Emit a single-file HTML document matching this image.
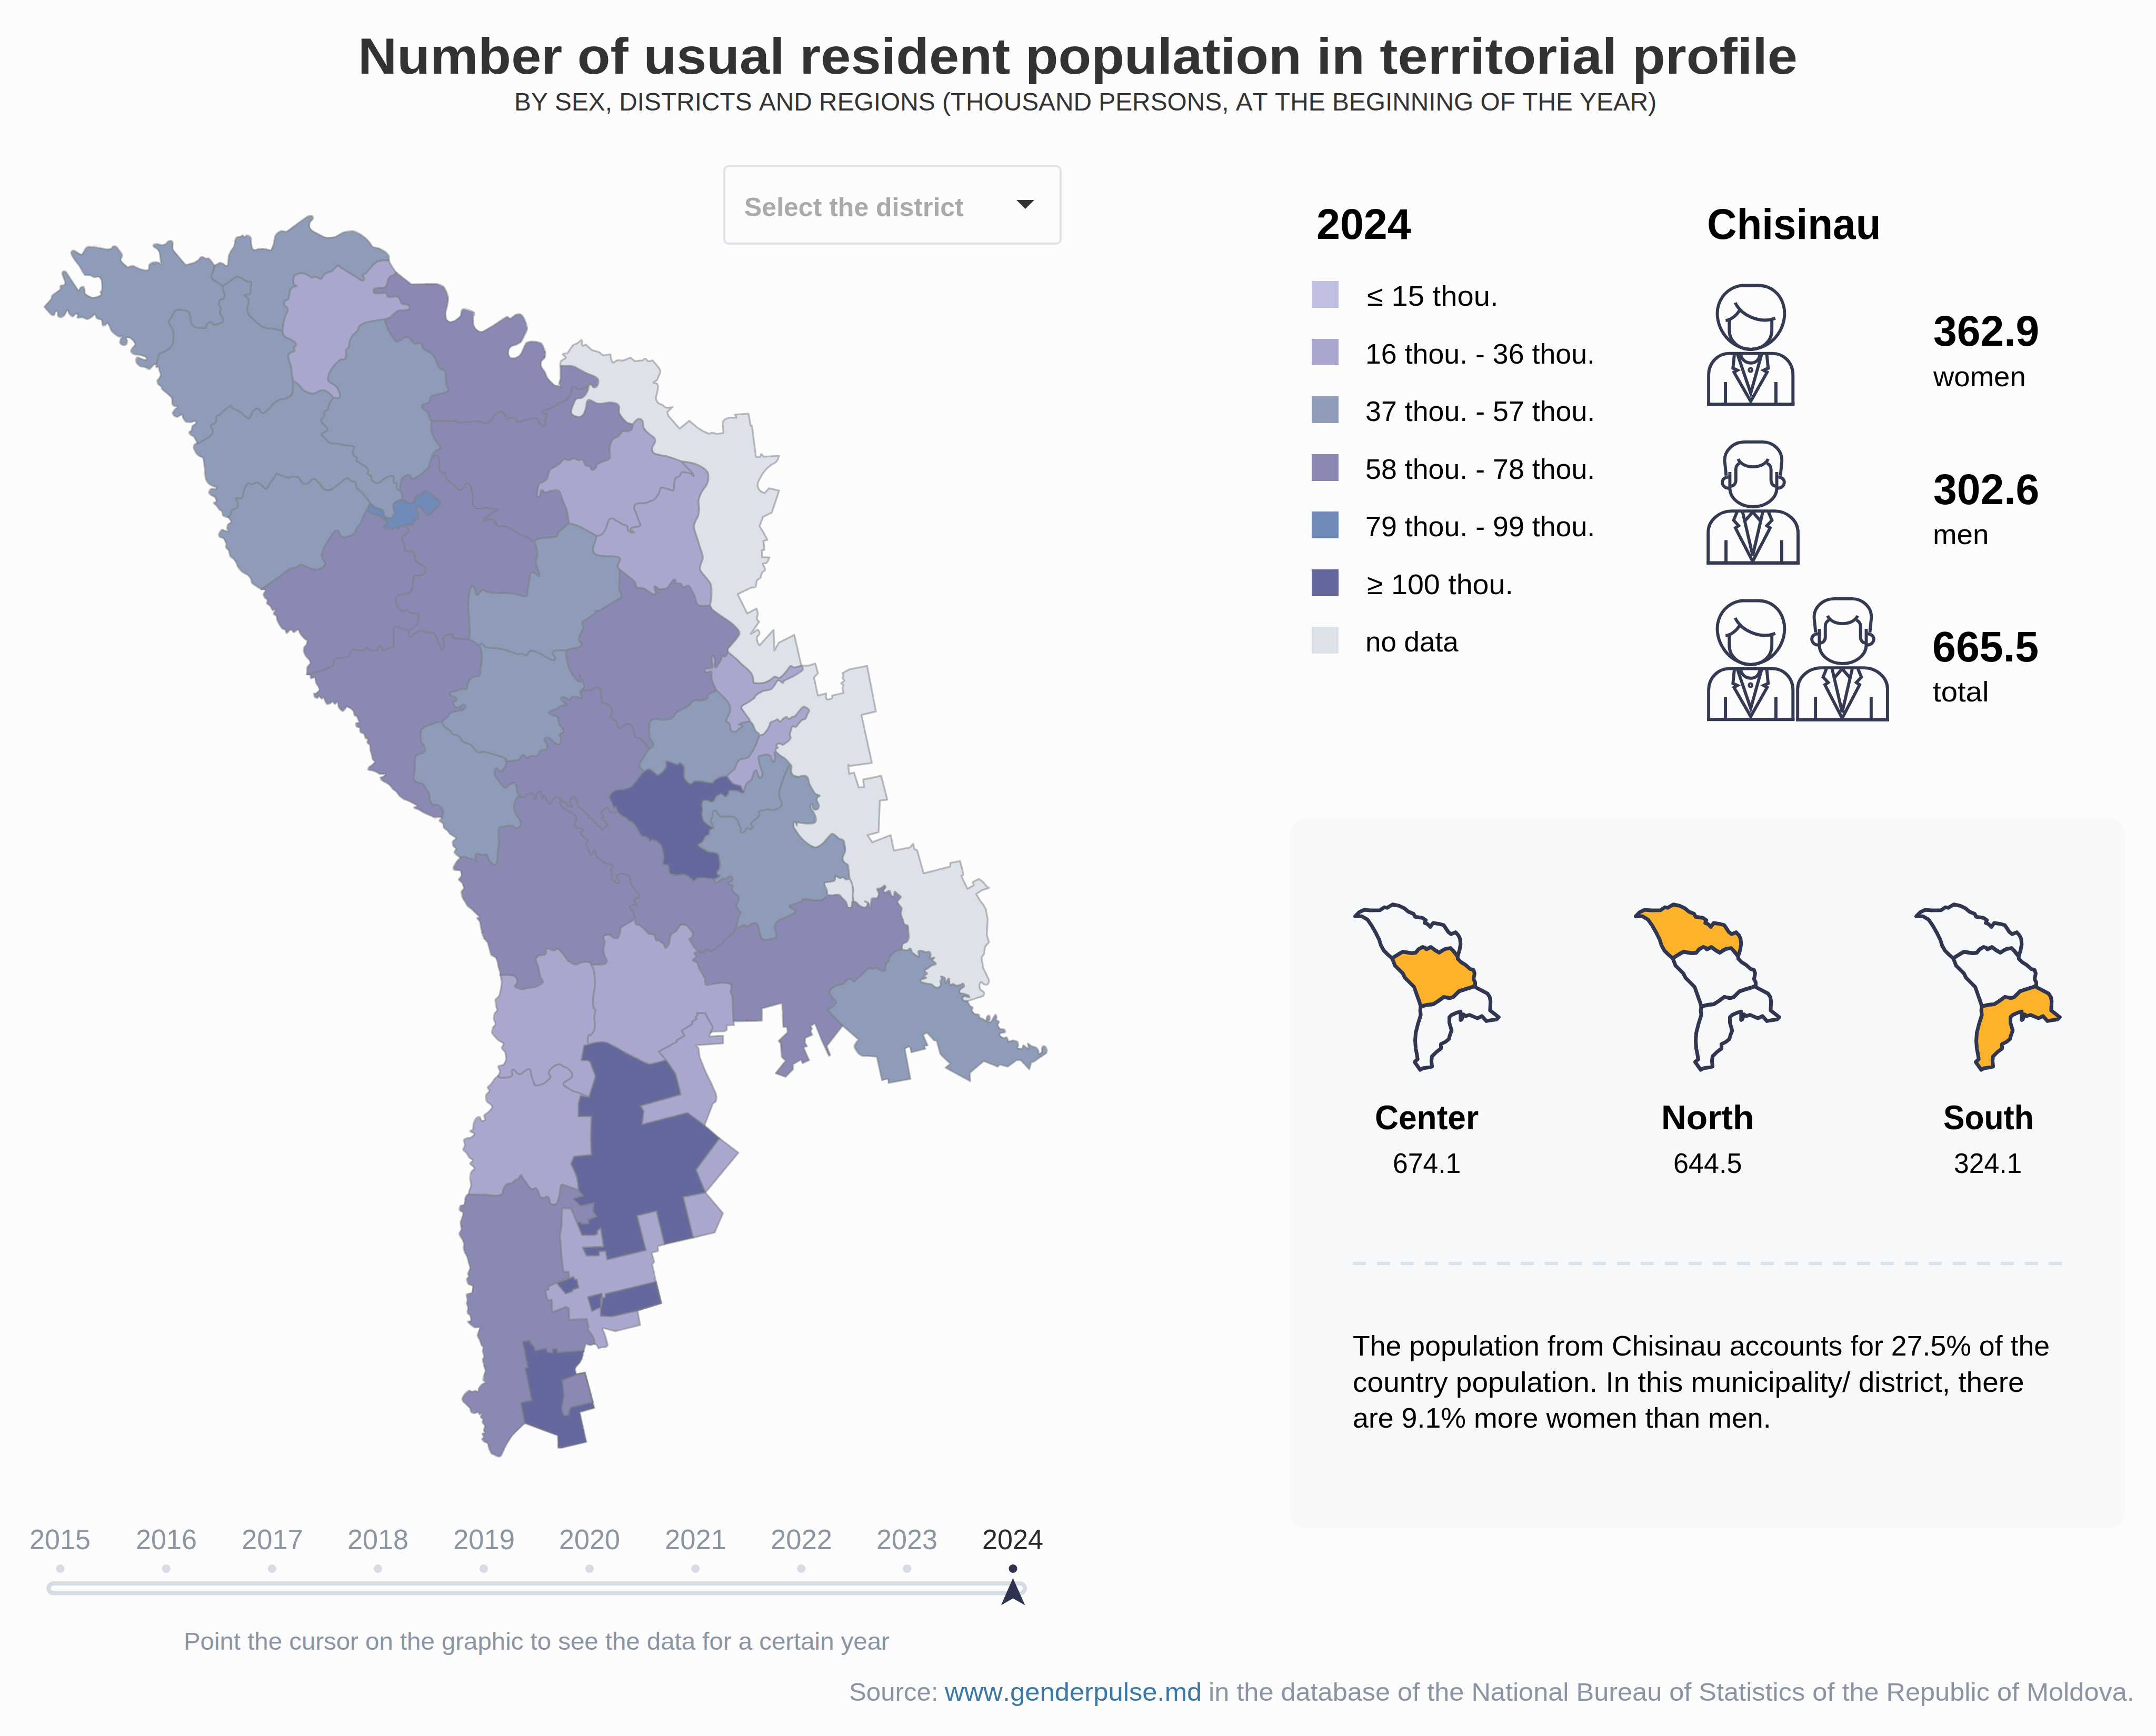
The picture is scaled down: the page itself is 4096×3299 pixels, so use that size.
<!DOCTYPE html>
<html lang="en"><head><meta charset="utf-8"><title>Number of usual resident population in territorial profile</title>
<style>
html,body{margin:0;padding:0;}
body{width:4096px;height:3299px;background:#fcfcfc;position:relative;overflow:hidden;font-family:"Liberation Sans", "DejaVu Sans", sans-serif;font-kerning:none;}
.t{position:absolute;white-space:nowrap;margin:0;padding:0;transform-origin:0 0;}
.sw{position:absolute;width:50.8px;height:50.8px;left:2491.8px;}
.panel{position:absolute;left:2451px;top:1555px;width:1586px;height:1350px;background:#f7f8fa;border-radius:30px;}
.select{position:absolute;left:1373.6px;top:314.4px;width:643px;height:151px;box-sizing:border-box;border:4px solid #e0e3ea;border-radius:10px;background:#fcfcfc;}
.caret{position:absolute;left:1931px;top:379.5px;width:0;height:0;border-left:17px solid transparent;border-right:17px solid transparent;border-top:17px solid #333;}
.dash{position:absolute;left:2570px;top:2398px;width:1348px;height:6px;background:repeating-linear-gradient(90deg,#dde1e9 0 25px,transparent 25px 45.6px);}
svg{position:absolute;left:0;top:0;overflow:visible;}
</style></head><body>

<div class="panel"></div>
<div class="select"></div><div class="caret"></div>
<div class="dash"></div>
<div class="sw" style="top:534.1px;background:#bfc0e1"></div>
<div class="sw" style="top:643.6px;background:#aaa7ce"></div>
<div class="sw" style="top:753.2px;background:#8e9bb9"></div>
<div class="sw" style="top:862.8px;background:#8989b3"></div>
<div class="sw" style="top:972.3px;background:#708bb8"></div>
<div class="sw" style="top:1081.8px;background:#65689c"></div>
<div class="sw" style="top:1191.4px;background:#dde1ea"></div>
<svg class="map" width="4096" height="3299" viewBox="0 0 4096 3299" xmlns="http://www.w3.org/2000/svg">
<g stroke="none">
<path d="M407.3 504.9L413.6 501.6L418 499.2L424.6 501.6L429.6 505.6L433 503.2L434.6 486.6L438 478.2L444.6 468.3L447.9 453.3L451.3 450.6L457.9 449.3L461.3 447.3L464.6 450.6L468.9 447.3L476.3 451.6L477.2 462.6L479.6 473.3L484.6 474.9L491.2 473.3L499.6 472.6L507.9 473.9L514.5 475.6L519.5 464.9L522.9 448.3L527.9 442.3L534.5 439L544.5 440L564.5 425.6L584.5 411.6L592.1 410L594.8 415L588.8 422.6L587.8 431.6L592.8 438.3L606.1 445.6L619.4 451.6L635.4 450.6L652.7 441.6L670.1 439.3L682.7 444.3L694.4 452.3L702.7 461.6L707.7 468.9L721 472.6L732.7 479.2L738.7 486.6L738.7 494.9L729.3 494.9L717.7 496.6L707.7 504.9L696 518.2L689.4 523.2L692 529.9L687.7 533.2L674.4 524.9L659.4 515.9L647.7 508.2L641.1 504.9L631.1 514.9L622.8 517.5L616.1 521.5L609.5 529.9L599.5 525.9L592.8 527.5L585.5 523.2L574.5 519.2L562.8 521.5L558.5 524.9L557.8 539.9L563.5 543.2L556.2 545.8L551.2 551.5L547.8 568.2L541.2 571.5L540.2 581.5L544.5 583.1L546.8 589.8L542.2 599.8L538.5 613.1L536.9 628.8L517.9 624.8L504.6 623.1L494.6 618.1L482.2 608.1L472.9 598.1L469.6 586.5L472.3 574.8L470.3 566.5L464.6 561.5L467.9 559.8L474.6 558.2L476.3 546.5L476.9 536.5L469.6 534.9L454.6 526.5L447.9 526.5L436.3 534.9L423 543.8L413 536.5L404.7 531.5L401.3 524.9L404.7 516.5L407.3 504.9Z" fill="#8e9bb9"/>
<path d="M423 543.8L436.3 534.9L447.9 526.5L454.6 526.5L469.6 534.9L476.9 536.5L476.3 546.5L474.6 558.2L467.9 559.8L464.6 561.5L470.3 566.5L472.3 574.8L469.6 586.5L472.9 598.1L482.2 608.1L494.6 618.1L504.6 623.1L517.9 624.8L536.9 628.8L539.5 638.1L549.5 643.7L559.5 649.7L562.2 656.4L557.8 660.4L559.5 667.1L551.2 670.4L547.8 676.4L549.5 686.4L552.8 696.4L554.5 709.7L556.8 723.7L556.2 739.7L554.5 749.6L541.2 758L532.9 759L521.2 765.3L511.2 776.3L501.2 784.6L496.2 783.6L491.2 776.9L486.2 776.9L480.2 782.3L472.9 794.6L466.3 791.3L454.6 781.3L442.3 776.3L438 771.3L424.6 781.3L418 787.9L411.3 791.3L409.7 802.3L400.3 808.9L403.7 816.2L403 824.6L388 836.2L374.7 842.9L373 837.9L368 829.6L361.4 825.6L359.7 821.2L363.7 817.9L365.7 809.6L372.4 804.6L371.4 800.3L361.4 802.3L353 801.3L348 794.6L345.7 787.9L336.4 792.3L330.4 789.6L328.1 784.6L332.4 777.9L338.1 773L330.4 771.3L327.4 768L326.4 756.3L318.1 748L308.1 739.7L306.4 734.7L300.4 729.7L299.1 723L303.1 718L305.4 711.3L302.4 703L301.4 697L297.1 698L297.1 691.4L300.4 679.7L303.1 672.4L314.7 667.1L323.1 661.4L328.1 653.1L329.7 638.1L328.1 626.4L323.1 618.1L320.7 611.4L324.7 604.8L330.4 593.8L334.7 589.1L343.1 588.8L356.4 591.5L361.4 599.8L363 613.1L369.7 621.4L379.7 623.1L391.3 623.1L391.3 619.8L396.3 613.1L401.3 612.4L406.3 617.1L414.6 615.8L423 611.4L423.6 605.8L418 594.8L419.6 586.5L416.3 578.1L418 570.5L424.6 567.2L427.3 561.5L423.6 551.5L423 543.8Z" fill="#8e9bb9"/>
<path d="M536.9 628.8L538.5 613.1L542.2 599.8L546.8 589.8L544.5 583.1L540.2 581.5L541.2 571.5L547.8 568.2L551.2 551.5L556.2 545.8L563.5 543.2L557.8 539.9L558.5 524.9L562.8 521.5L574.5 519.2L585.5 523.2L592.8 527.5L599.5 525.9L609.5 529.9L616.1 521.5L622.8 517.5L631.1 514.9L641.1 504.9L647.7 508.2L659.4 515.9L674.4 524.9L687.7 533.2L692 529.9L689.4 523.2L696 518.2L707.7 504.9L717.7 496.6L729.3 494.9L738.7 494.9L742.7 503.2L752 517.2L753 517.9L747.9 522.3L741.3 525.7L737.9 530.1L735.7 536.8L733.5 543.5L729 546.8L720.7 546.8L713.4 547.9L710.1 550.7L710.1 555.7L713.4 557.4L723.5 557.4L731.2 556.3L734.6 559.1L736.8 563.5L742.4 564.6L750.2 563.5L756.8 564.6L759.6 569.1L761.3 573.5L764.1 577.4L771.3 578.5L776.9 580.8L778 584.7L775.8 588.6L766.9 589.7L756.8 590.2L751.3 593.6L745.7 599.1L740.2 603.6L731.2 606.4L709.4 609.8L692.7 613.8L682.7 619.8L679.4 628.1L670.1 637.1L664.4 648.1L662.7 659.7L657.7 664.7L657.7 676.4L654.4 683L647.7 683L637.8 691.4L627.8 704.7L622.8 719.7L626.1 726.3L634.4 731.3L642.1 739.7L646.1 753L642.8 756.3L633.4 755.6L631.1 753L619.4 743L609.5 742L596.1 748L586.1 746.3L576.2 741.3L566.2 729.7L556.8 723.7L554.5 709.7L552.8 696.4L549.5 686.4L547.8 676.4L551.2 670.4L559.5 667.1L557.8 660.4L562.2 656.4L559.5 649.7L549.5 643.7L539.5 638.1L536.9 628.8Z" fill="#aaa7ce"/>
<path d="M753 517.9L781.3 540.1L813.6 539.6L831.4 540.1L842.6 545.1L848.1 554.6L851.5 565.7L850.4 576.9L848.1 586.9L846.5 594.7L848.1 606.9L854.3 611.9L863.7 609.7L874.9 600.8L877.1 590.2L881 587.4L900 593.6L899.2 603.1L899.2 616.4L903.2 624.8L911.5 630.4L918.2 629.8L936.5 619.1L963.1 602.1L969.8 605.5L979.8 598.1L988.1 597.1L993.8 602.1L999.1 613.8L1001.4 625.4L995.8 638.1L989.8 649.7L981.5 654.7L971.5 658.1L966.5 663.7L965.8 673.1L969.1 679.7L978.1 680.4L986.5 676.4L991.4 669.7L996.4 658.1L1000.4 651.4L1008.1 649.1L1019.8 649.7L1028.1 652.4L1032.4 659.7L1036.4 671.4L1034.7 679.7L1028.1 687L1028.1 696.4L1034.7 706.4L1039.7 718L1047.1 726.3L1053.7 732.3L1062.4 733L1065.7 736.3L1062.4 729L1064.7 719.7L1064.7 703L1064.7 695.7L1076.4 694.7L1089.7 696.4L1099.7 701.4L1113 708.7L1128 714.7L1136.3 721.3L1134.6 733L1128 736.3L1123.6 731.3L1119 731.3L1113 736.3L1098 739.7L1089 734.7L1084.7 746.3L1078 758L1063 766.3L1046.4 776.3L1031.4 780.3L1031.4 784.6L1039.1 787.9L1035.7 797.9L1036.4 806.9L1031.4 809.6L1024.7 802.9L1018.1 794.6L999.8 797.9L983.1 801.3L979.8 794.6L969.8 793.6L963.1 796.3L954.8 782.9L939.8 788.9L933.2 799.6L921.5 804.6L913.2 801.3L896.5 801.3L869.9 802.9L866.6 799.6L820 800.3L816.6 796.3L813.3 784.6L803.3 776.3L802.6 769.6L815 764.6L818.3 754.6L829.9 749.6L844.9 746.3L851.6 741.3L848.3 731.3L847.3 719.7L844.9 704.7L834.9 699.7L828.3 684.7L821.6 673.1L810 666.4L803.6 661.5L801.4 654.8L796.9 651.5L789.1 653.7L782.5 648.1L778 642.5L772.4 640.3L766.9 642.5L760.2 647L752.4 648.1L745.7 640.3L740.2 631.4L735.7 622.5L732.4 613.6L731.2 606.4L740.2 603.6L745.7 599.1L751.3 593.6L756.8 590.2L766.9 589.7L775.8 588.6L778 584.7L776.9 580.8L771.3 578.5L764.1 577.4L761.3 573.5L759.6 569.1L756.8 564.6L750.2 563.5L742.4 564.6L736.8 563.5L734.6 559.1L731.2 556.3L723.5 557.4L713.4 557.4L710.1 555.7L710.1 550.7L713.4 547.9L720.7 546.8L729 546.8L733.5 543.5L735.7 536.8L737.9 530.1L741.3 525.7L747.9 522.3L753 517.9Z" fill="#8989b3"/>
<path d="M84.3 583.1L97.3 568.2L99.3 561.5L114.9 549.8L114.9 543.2L122.6 541.5L123.9 536.5L118.3 519.9L119.9 515.9L124.9 516.5L134.9 531.5L149.2 552.2L153.2 546.5L158.2 544.8L160.6 549.8L161.6 558.2L174.9 565.8L185.9 563.8L192.5 559.8L190.9 554.8L193.9 551.5L193.2 533.2L188.2 525.9L178.2 526.5L171.6 523.2L160.9 522.2L151.6 506.6L141.6 493.2L135.9 483.2L135.3 479.2L139.3 475.9L145.9 479.2L154.9 483.9L159.9 477.2L163.9 470.9L168.2 468.9L188.2 470.9L203.2 473.9L211.5 472.6L214.8 468.3L219.8 468.3L225.8 474.9L232.2 484.9L229.2 493.2L231.5 498.2L243.2 508.2L245.8 506.6L253.1 505.6L266.5 511.5L276.5 513.9L282.4 512.5L283.8 503.2L289.8 498.9L297.1 498.2L303.1 499.9L306.4 503.2L305.4 496.6L303.1 479.9L299.1 473.3L292.1 468.9L292.1 464.9L299.8 463.9L308.1 465.9L314.7 463.9L319.1 458.9L324.7 457.6L328.1 460.9L328.1 473.3L339.7 488.2L353 503.2L359.7 501.6L369.7 498.9L378 493.2L381.3 488.9L386.3 488.9L391.3 491.6L396.3 490.9L403 498.2L407.3 504.9L404.7 516.5L401.3 524.9L404.7 531.5L413 536.5L423 543.8L423.6 551.5L427.3 561.5L424.6 567.2L418 570.5L416.3 578.1L419.6 586.5L418 594.8L423.6 605.8L423 611.4L414.6 615.8L406.3 617.1L401.3 612.4L396.3 613.1L391.3 619.8L391.3 623.1L379.7 623.1L369.7 621.4L363 613.1L361.4 599.8L356.4 591.5L343.1 588.8L334.7 589.1L330.4 593.8L324.7 604.8L320.7 611.4L323.1 618.1L328.1 626.4L329.7 638.1L328.1 653.1L323.1 661.4L314.7 667.1L303.1 672.4L300.4 679.7L297.1 691.4L291.4 693.7L283.8 701.4L276.5 698L265.8 695.7L259.8 689.7L258.8 683L261.5 679L273.1 683.7L279.1 683L276.5 678L266.5 674.7L254.8 673.1L248.8 668.1L251.5 661.4L257.1 654.7L253.8 648.1L247.1 642.1L239.8 641.4L241.5 648.1L239.8 654.7L233.2 655.7L228.2 651.4L229.2 644.7L233.2 639.1L226.5 639.8L218.2 634.8L211.5 628.1L208.2 619.8L203.9 613.8L199.9 618.1L194.9 618.1L193.2 608.1L183.9 604.8L180.5 597.1L173.2 603.1L165.9 606.5L156.6 603.1L147.2 603.8L148.2 598.1L143.3 596.5L138.3 601.5L131.6 596.5L128.3 589.1L121.6 599.8L114.9 603.1L110 599.8L109.3 591.5L105 592.5L103.3 598.1L99.3 599.1L91.6 591.5L84.3 583.1Z" fill="#8e9bb9"/>
<path d="M374.7 842.9L388 836.2L403 824.6L403.7 816.2L400.3 808.9L409.7 802.3L411.3 791.3L418 787.9L424.6 781.3L438 771.3L442.3 776.3L454.6 781.3L466.3 791.3L472.9 794.6L480.2 782.3L486.2 776.9L491.2 776.9L496.2 783.6L501.2 784.6L511.2 776.3L521.2 765.3L532.9 759L541.2 758L554.5 749.6L556.2 739.7L556.8 723.7L566.2 729.7L576.2 741.3L586.1 746.3L596.1 748L609.5 742L619.4 743L631.1 753L633.4 755.6L626.1 766.3L622.8 777.9L616.8 782.9L615.4 791.3L610.1 797.9L612.8 804.6L621.1 812.9L622.1 817.9L611.1 824.6L616.1 831.2L626.1 841.2L639.4 842.9L656.1 846.2L672.1 848.9L670.1 857.9L672.7 866.2L677.7 869.5L677.7 876.2L686 881.2L694.4 886.8L700 894.5L698.4 900L705.1 905L706.7 912.5L717.6 918L730.1 910L742.7 904.6L748.5 907.5L747.7 916.7L753.5 918L753.5 927.6L759.4 933.4L763.5 936.8L764.4 949.3L756.9 951L751 954.3L746.8 959.3L747.7 963.5L747.7 968.5L751 974.4L747.7 977.7L745.2 983.1L738.5 984.4L733.5 982.7L729.3 978.5L728.5 971L723.4 967.7L713.4 964.3L703.4 956L696 946.1L687.7 936.1L677.7 926.8L675.4 916.1L667.7 914.5L659.4 908.8L646.1 917.8L629.4 930.1L616.1 930.1L611.1 924.5L601.1 912.8L594.5 910.1L584.5 918.8L574.5 917.8L567.8 907.8L556.2 905.5L547.8 907.8L536.2 904.5L525.5 900.2L522.9 904.5L514.5 916.1L505.6 928.8L496.2 921.1L487.9 916.8L480.2 920.1L471.3 918.8L464.6 929.5L459.6 946.1L448.3 946.7L451.6 956.7L449.9 965L439.9 970L438.3 978.3L433.3 982.6L424 980L421.6 971.6L416.6 968.3L413 962.8L406.3 956.1L411.3 952.8L408 944.4L401.3 941.1L397 936.1L401.3 928.8L409.7 929.5L411.3 926.1L404.7 923.8L397 919.5L391.3 911.1L389.7 899.5L388 882.8L385.7 870.2L378 866.2L373 861.2L368 851.2L369.7 844.5L374.7 842.9Z" fill="#8e9bb9"/>
<path d="M633.4 755.6L642.8 756.3L646.1 753L642.1 739.7L634.4 731.3L626.1 726.3L622.8 719.7L627.8 704.7L637.8 691.4L647.7 683L654.4 683L657.7 676.4L657.7 664.7L662.7 659.7L664.4 648.1L670.1 637.1L679.4 628.1L682.7 619.8L692.7 613.8L709.4 609.8L731.2 606.4L732.4 613.6L735.7 622.5L740.2 631.4L745.7 640.3L752.4 648.1L760.2 647L766.9 642.5L772.4 640.3L778 642.5L782.5 648.1L789.1 653.7L796.9 651.5L801.4 654.8L803.6 661.5L810 666.4L821.6 673.1L828.3 684.7L834.9 699.7L844.9 704.7L847.3 719.7L848.3 731.3L851.6 741.3L844.9 746.3L829.9 749.6L818.3 754.6L815 764.6L802.6 769.6L803.3 776.3L813.3 784.6L816.6 796.3L820 800.3L819.3 816.2L823.3 829.6L831.6 842.9L836.6 851.2L824.9 859.5L820 869.5L816.6 879.5L813.3 889.5L801.1 900L790.3 907.5L784.4 910L780.3 906.7L777.7 902.5L771.9 903.3L765.2 907.5L761.9 915L760.2 925.1L759.4 933.4L753.5 927.6L753.5 918L747.7 916.7L748.5 907.5L742.7 904.6L730.1 910L717.6 918L706.7 912.5L705.1 905L698.4 900L700 894.5L694.4 886.8L686 881.2L677.7 876.2L677.7 869.5L672.7 866.2L670.1 857.9L672.1 848.9L656.1 846.2L639.4 842.9L626.1 841.2L616.1 831.2L611.1 824.6L622.1 817.9L621.1 812.9L612.8 804.6L610.1 797.9L615.4 791.3L616.8 782.9L622.8 777.9L626.1 766.3L633.4 755.6Z" fill="#8e9bb9"/>
<path d="M433.3 982.6L438.3 978.3L439.9 970L449.9 965L451.6 956.7L448.3 946.7L459.6 946.1L464.6 929.5L471.3 918.8L480.2 920.1L487.9 916.8L496.2 921.1L505.6 928.8L514.5 916.1L522.9 904.5L525.5 900.2L536.2 904.5L547.8 907.8L556.2 905.5L567.8 907.8L574.5 917.8L584.5 918.8L594.5 910.1L601.1 912.8L611.1 924.5L616.1 930.1L629.4 930.1L646.1 917.8L659.4 908.8L667.7 914.5L675.4 916.1L677.7 926.8L687.7 936.1L696 946.1L703.4 956L700.9 960.2L698 967.7L690.9 979.4L685 994.4L678 1003.3L673 1013.3L659.7 1019.9L651.4 1020.6L646.4 1016.6L643.1 1009.9L638.1 1008.3L631.4 1014.9L623.1 1028.2L614.8 1043.2L611.4 1056.6L614.8 1064.9L618.1 1071.5L613.1 1078.2L603.1 1082.5L593.1 1081.5L579.8 1075.9L569.8 1073.2L563.2 1078.2L553.2 1079.9L529.9 1096.5L513.2 1108.2L496.6 1119.8L488.2 1114.8L478.9 1108.2L476.6 1099.8L471.6 1093.2L459.9 1086.5L451.6 1076.5L449.9 1071.5L444.9 1063.2L437.3 1056.6L434.9 1046.6L429.3 1039.9L430 1033.2L425 1023.3L417.3 1019.9L416 1014.9L421.6 1006.6L426.6 1008.3L434.9 1009.9L431.6 1004.9L433.3 996.6L439.3 991.6L433.3 982.6Z" fill="#8e9bb9"/>
<path d="M703.4 956L713.4 964.3L723.4 967.7L728.5 971L729.3 978.5L733.5 982.7L738.5 984.4L745.2 983.1L747.7 977.7L751 974.4L747.7 968.5L747.7 963.5L746.8 959.3L751 954.3L756.9 951L764.4 949.3L768.6 951.8L774.4 955.1L781.1 956.8L786.1 954.3L788.6 950.1L787.8 946.8L791.1 941.8L795.3 940.9L797.8 942.6L800.3 939.3L805.3 934.3L809.5 932.2L813.7 934.3L822 941.8L830.4 948.5L835.4 952.6L836.2 956L832.9 961L827 966.8L822 972.7L817.8 976.9L813.7 978.1L808.7 975.2L803.6 969.3L798.6 963.5L796.1 962.2L791.9 964.3L791.5 969.3L793.6 975.2L794.5 980.2L793.6 986L788.6 986.9L786.9 991.9L783.6 996.9L779.4 997.7L774.4 996.9L769.8 999.4L763.5 999.8L759.4 1001.1L756 1004.4L752.7 1002.8L749.3 1002.3L746 1005.3L741 1004.4L736.8 1003.6L731.8 1004.4L729.3 1002.3L731 998.6L736 996.1L734.3 991.9L730.1 986.9L725.1 982.7L718.4 979.4L711.7 977.3L705.1 975.2L700.1 971.8L698 967.7L700.9 960.2L703.4 956Z" fill="#708bb8"/>
<path d="M496.6 1119.8L513.2 1108.2L529.9 1096.5L553.2 1079.9L563.2 1078.2L569.8 1073.2L579.8 1075.9L593.1 1081.5L603.1 1082.5L613.1 1078.2L618.1 1071.5L614.8 1064.9L611.4 1056.6L614.8 1043.2L623.1 1028.2L631.4 1014.9L638.1 1008.3L643.1 1009.9L646.4 1016.6L651.4 1020.6L659.7 1019.9L673 1013.3L678 1003.3L685 994.4L690.9 979.4L698 967.7L700.1 971.8L705.1 975.2L711.7 977.3L718.4 979.4L725.1 982.7L730.1 986.9L734.3 991.9L736 996.1L731 998.6L729.3 1002.3L731.8 1004.4L736.8 1003.6L741 1004.4L746 1005.3L749.3 1002.3L752.7 1002.8L756 1004.4L759.4 1001.1L763.5 999.8L769.8 999.4L773.6 1003.6L776.1 1008.6L774.4 1012.8L768.6 1016.1L764.4 1020.3L764.4 1025.3L766.9 1033.7L767.9 1036.6L771.3 1046.6L781.3 1047.2L786.9 1053.2L788.9 1064.9L796.3 1071.5L806.2 1076.5L808.9 1084.9L804.6 1091.5L794.6 1093.8L786.3 1094.8L784.6 1106.5L782.9 1119.8L776.3 1127.1L763 1129.8L754.6 1132.5L752.3 1139.8L754.6 1151.5L761.3 1159.8L766.3 1162.4L772.3 1159.1L779.6 1163.8L791.3 1165.8L794.6 1169.8L793.6 1183.1L787.9 1189.8L777.9 1197.1L766.3 1196.4L754.6 1191.4L749 1191.4L748 1206.4L748 1223.1L746.3 1229.7L738 1231.4L729.7 1236.4L724.7 1229.7L721.3 1227L716.3 1234.7L711.3 1236.4L701.3 1234.7L696.4 1231.4L689.7 1236.4L679.7 1235.7L669.7 1234.7L665.7 1241.4L663.1 1247L646.4 1250.4L634.7 1253L633.7 1263L626.4 1268L609.8 1274.7L593.1 1279.7L583.1 1281.3L583.8 1268L589.8 1260.3L588.1 1254.7L583.8 1249.7L579.8 1244.7L577.1 1236.4L578.1 1229.7L582.5 1224.7L583.8 1217.1L579.8 1214.7L574.8 1209.7L569.8 1203.1L567.1 1196.4L563.2 1198.1L558.2 1201.4L553.2 1196.4L549.8 1198.1L544.8 1203.1L541.5 1196.4L536.5 1194.7L531.5 1188.1L526.5 1178.1L524.9 1169.8L519.9 1166.4L523.9 1158.1L518.2 1159.8L513.2 1151.5L507.2 1146.5L508.2 1139.8L503.9 1136.5L500.5 1129.8L504.9 1121.5L496.6 1119.8Z" fill="#8989b3"/>
<path d="M759.4 933.4L760.2 925.1L761.9 915L765.2 907.5L771.9 903.3L777.7 902.5L780.3 906.7L784.4 910L790.3 907.5L801.1 900L813.3 889.5L816.6 879.5L820 869.5L829.9 866.2L834.9 879.5L833.3 886.2L839.9 899.5L846.6 897.8L846.6 907.8L859.9 919.5L874.9 931.1L889.9 918.8L898.2 942.8L901.5 964.4L926.1 965L946.1 968.3L932.8 976.6L921.1 985L921.1 990L929.5 986.6L939.4 990L946.1 999.9L957.8 999.9L976.1 1008.3L989.4 1016.6L1002.7 1021.6L1009.4 1027.2L1014.4 1028.2L1018.7 1039.9L1021 1054.9L1017.7 1068.2L1021 1079.9L1024.4 1093.8L1016 1089.2L1008.7 1088.2L1006 1099.8L1002.7 1119.8L999.4 1133.1L986.1 1130.5L966.1 1127.1L942.8 1127.1L926.1 1124.8L916.1 1121.5L907.8 1130.5L904.5 1128.1L900.1 1114.8L895.5 1114.8L891.2 1129.8L889.5 1153.1L891.2 1173.1L892.2 1199.7L891.2 1214.7L872.8 1213.7L861.2 1212.4L859.5 1205.7L852.9 1206.4L842.9 1209.7L842.9 1219.7L843.5 1231.4L839.5 1233L834.5 1224.7L829.6 1211.4L822.9 1203.1L809.6 1201.4L801.2 1198.1L789.6 1203.1L779.6 1210.4L776.3 1206.4L777.9 1197.1L787.9 1189.8L793.6 1183.1L794.6 1169.8L791.3 1165.8L779.6 1163.8L772.3 1159.1L766.3 1162.4L761.3 1159.8L754.6 1151.5L752.3 1139.8L754.6 1132.5L763 1129.8L776.3 1127.1L782.9 1119.8L784.6 1106.5L786.3 1094.8L794.6 1093.8L804.6 1091.5L808.9 1084.9L806.2 1076.5L796.3 1071.5L788.9 1064.9L786.9 1053.2L781.3 1047.2L771.3 1046.6L767.9 1036.6L766.9 1033.7L764.4 1025.3L764.4 1020.3L768.6 1016.1L774.4 1012.8L776.1 1008.6L773.6 1003.6L769.8 999.4L774.4 996.9L779.4 997.7L783.6 996.9L786.9 991.9L788.6 986.9L793.6 986L794.5 980.2L793.6 975.2L791.5 969.3L791.9 964.3L796.1 962.2L798.6 963.5L803.6 969.3L808.7 975.2L813.7 978.1L817.8 976.9L822 972.7L827 966.8L832.9 961L836.2 956L835.4 952.6L830.4 948.5L822 941.8L813.7 934.3L809.5 932.2L805.3 934.3L800.3 939.3L797.8 942.6L795.3 940.9L791.1 941.8L787.8 946.8L788.6 950.1L786.1 954.3L781.1 956.8L774.4 955.1L768.6 951.8L764.4 949.3L763.5 936.8L759.4 933.4Z" fill="#8989b3"/>
<path d="M820 800.3L866.6 799.6L869.9 802.9L896.5 801.3L913.2 801.3L921.5 804.6L933.2 799.6L939.8 788.9L954.8 782.9L963.1 796.3L969.8 793.6L979.8 794.6L983.1 801.3L999.8 797.9L1018.1 794.6L1024.7 802.9L1031.4 809.6L1036.4 806.9L1035.7 797.9L1039.1 787.9L1031.4 784.6L1031.4 780.3L1046.4 776.3L1063 766.3L1078 758L1084.7 746.3L1089 734.7L1098 739.7L1113 736.3L1119 731.3L1116.3 743L1111.3 751.3L1104.7 756.3L1094.7 758L1090.3 766.3L1085.7 777.9L1085.7 786.3L1091.3 790.3L1101.3 792.3L1108 787.9L1113 776.3L1115.7 762.3L1121.3 760.3L1133 766.3L1143 767L1159.6 764.6L1171.3 767L1176.3 773L1176.3 784.6L1182.9 794.6L1191.2 802.9L1202.2 806.3L1199.6 816.2L1191.2 819.6L1182.9 819.6L1174.6 828.9L1164.6 834.6L1158.9 846.2L1157.9 857.9L1157.9 871.2L1146.3 876.8L1134.6 882.2L1131.3 889.5L1124.6 892.8L1119.7 886.2L1113 884.5L1106.3 872.9L1099.7 874.5L1089.7 871.2L1081.4 874.5L1071.4 872.9L1063 881.2L1053.1 887.8L1044.7 892.8L1041.4 902.8L1038.1 911.1L1031.4 916.1L1024.7 919.5L1021.4 929.5L1020.4 941.1L1024.7 944.4L1027.1 936.1L1029.7 931.1L1036.4 936.1L1046.4 932.8L1061.4 932.8L1069.7 952.8L1076.4 968.1L1081 994.9L1076 998.3L1061 1011.6L1056 1019.9L1037.7 1021.6L1024.4 1023.3L1014.4 1028.2L1009.4 1027.2L1002.7 1021.6L989.4 1016.6L976.1 1008.3L957.8 999.9L946.1 999.9L939.4 990L929.5 986.6L921.1 990L921.1 985L932.8 976.6L946.1 968.3L926.1 965L901.5 964.4L898.2 942.8L889.9 918.8L874.9 931.1L859.9 919.5L846.6 907.8L846.6 897.8L839.9 899.5L833.3 886.2L834.9 879.5L829.9 866.2L820 869.5L824.9 859.5L836.6 851.2L831.6 842.9L823.3 829.6L819.3 816.2L820 800.3Z" fill="#8989b3"/>
<path d="M1202.2 806.3L1209.6 797.9L1216.2 796.3L1221.2 801.3L1222.9 812.9L1231.2 822.9L1242.9 832.2L1244.5 839.6L1238.9 851.2L1241.2 860.2L1252.9 864.5L1269.5 867.9L1294.5 876.8L1302.8 886.2L1316.1 899.5L1317.8 904.5L1311.1 899.5L1302.8 897.8L1294.5 897.8L1291.1 904.5L1284.5 907.8L1281.2 914.5L1279.5 931.1L1269.5 929.5L1256.2 926.8L1252.2 936.1L1244.5 947.8L1234.5 952.8L1224.5 956.1L1214.6 956.1L1206.2 959.4L1204.9 966.6L1208.2 974.9L1213.2 988.2L1216.5 998.2L1211.5 1000.6L1199.9 1003.2L1198.2 1006.6L1204.9 1011.6L1199.9 1011.6L1193.2 1008.2L1191.5 999.9L1183.2 996.6L1174.9 991.6L1168.2 988.2L1163.2 984.9L1156.6 988.2L1153.2 998.2L1148.2 1009.9L1141.6 1016.6L1133.3 1018.2L1118.3 1009.9L1103.3 1001.6L1090 996.6L1081 994.9L1076.4 968.1L1069.7 952.8L1061.4 932.8L1046.4 932.8L1036.4 936.1L1029.7 931.1L1027.1 936.1L1024.7 944.4L1020.4 941.1L1021.4 929.5L1024.7 919.5L1031.4 916.1L1038.1 911.1L1041.4 902.8L1044.7 892.8L1053.1 887.8L1063 881.2L1071.4 872.9L1081.4 874.5L1089.7 871.2L1099.7 874.5L1106.3 872.9L1113 884.5L1119.7 886.2L1124.6 892.8L1131.3 889.5L1134.6 882.2L1146.3 876.8L1157.9 871.2L1157.9 857.9L1158.9 846.2L1164.6 834.6L1174.6 828.9L1182.9 819.6L1191.2 819.6L1199.6 816.2L1202.2 806.3Z" fill="#aaa7ce"/>
<path d="M1294.5 876.8L1302.8 886.2L1316.1 899.5L1317.8 904.5L1311.1 899.5L1302.8 897.8L1294.5 897.8L1291.1 904.5L1284.5 907.8L1281.2 914.5L1279.5 931.1L1269.5 929.5L1256.2 926.8L1252.2 936.1L1244.5 947.8L1234.5 952.8L1224.5 956.1L1214.6 956.1L1206.2 959.4L1204.9 966.6L1208.2 974.9L1213.2 988.2L1216.5 998.2L1211.5 1000.6L1199.9 1003.2L1198.2 1006.6L1204.9 1011.6L1199.9 1011.6L1193.2 1008.2L1191.5 999.9L1183.2 996.6L1174.9 991.6L1168.2 988.2L1163.2 984.9L1156.6 988.2L1153.2 998.2L1148.2 1009.9L1141.6 1016.6L1133.3 1018.2L1131.6 1026.5L1128.3 1036.5L1126.6 1046.5L1131.6 1053.2L1143.3 1056.5L1159.9 1057.2L1173.2 1058.2L1178.2 1063.2L1174.9 1071.5L1173.2 1076.5L1177.2 1082.5L1193.2 1094.8L1206.5 1106.5L1209.9 1116.5L1223.2 1118.1L1233.2 1124.8L1241.5 1129.8L1245.8 1126.4L1243.2 1114.8L1248.1 1116.5L1253.1 1119.8L1266.5 1118.1L1273.1 1109.8L1279.8 1101.5L1283.8 1103.1L1282.4 1108.1L1293.1 1109.1L1298.1 1115.8L1308.1 1113.1L1314.7 1123.1L1319.7 1133.1L1323.1 1144.8L1326.4 1149.8L1334.7 1151.4L1349 1150.4L1351.4 1133.1L1351.4 1116.5L1349 1108.1L1343.1 1099.8L1334.7 1089.8L1329.7 1081.5L1331.4 1071.5L1334.7 1063.2L1334.7 1054.8L1329.7 1039.9L1324.7 1023.2L1319.7 1008.2L1318.1 999.9L1321.4 989.9L1326.4 979.9L1328.1 966.6L1327.1 951.6L1330.4 940L1336.4 930L1343.1 920L1345.7 910L1344.4 897.8L1336.1 889.5L1319.5 881.2L1294.5 876.8Z" fill="#aaa7ce"/>
<path d="M891.2 1214.7L892.2 1199.7L891.2 1173.1L889.5 1153.1L891.2 1129.8L895.5 1114.8L900.1 1114.8L904.5 1128.1L907.8 1130.5L916.1 1121.5L926.1 1124.8L942.8 1127.1L966.1 1127.1L986.1 1130.5L999.4 1133.1L1002.7 1119.8L1006 1099.8L1008.7 1088.2L1016 1089.2L1024.4 1093.8L1021 1079.9L1017.7 1068.2L1021 1054.9L1018.7 1039.9L1014.4 1028.2L1024.4 1023.3L1037.7 1021.6L1056 1019.9L1061 1011.6L1076 998.3L1081 994.9L1090 996.6L1103.3 1001.6L1118.3 1009.9L1133.3 1018.2L1131.6 1026.5L1128.3 1036.5L1126.6 1046.5L1131.6 1053.2L1143.3 1056.5L1159.9 1057.2L1173.2 1058.2L1178.2 1063.2L1174.9 1071.5L1173.2 1076.5L1177.2 1082.5L1177.2 1099.8L1176.6 1119.8L1180.5 1133.1L1169.9 1141.4L1156.6 1149.8L1139.9 1159.7L1131.6 1161.4L1129.9 1166.4L1119.9 1173.1L1106.6 1183.1L1108.3 1193L1103.3 1203L1100 1213L1101.6 1219.7L1105 1224.7L1100 1229.7L1086.6 1233L1075 1235.7L1056 1236.4L1049.3 1239.7L1054.3 1249.7L1052.7 1254.7L1042.7 1251.4L1029.4 1243.7L1012.7 1237L1006 1238L999.4 1245.7L992.7 1242.4L982.7 1243L966.1 1237L946.1 1232.4L922.8 1229.7L916.1 1223.1L911.1 1227L902.8 1221.4L891.2 1214.7Z" fill="#8e9bb9"/>
<path d="M1177.2 1082.5L1193.2 1094.8L1206.5 1106.5L1209.9 1116.5L1223.2 1118.1L1233.2 1124.8L1241.5 1129.8L1245.8 1126.4L1243.2 1114.8L1248.1 1116.5L1253.1 1119.8L1266.5 1118.1L1273.1 1109.8L1279.8 1101.5L1283.8 1103.1L1282.4 1108.1L1293.1 1109.1L1298.1 1115.8L1308.1 1113.1L1314.7 1123.1L1319.7 1133.1L1323.1 1144.8L1326.4 1149.8L1334.7 1151.4L1349 1150.4L1353 1158.1L1366.4 1168.1L1381.3 1178.1L1393 1187L1403 1198L1404.7 1204.7L1399.7 1213L1391.3 1223L1383 1233L1383.5 1239.2L1378.5 1246.7L1371.8 1247.6L1370.1 1253.4L1360.1 1268.4L1357.6 1263.4L1358.4 1254.2L1354.2 1245.1L1351.7 1253.4L1353.4 1268.4L1346.7 1270.1L1339.2 1271L1340 1276.8L1345.1 1277.6L1351.7 1276.8L1351.7 1286.8L1354.2 1296.8L1360.9 1311.9L1359.7 1312.9L1346.4 1319.6L1343.1 1327.9L1333.1 1331.2L1318.1 1331.2L1309.8 1339.6L1299.8 1346.2L1286.4 1352.9L1276.5 1364.5L1259.8 1367.9L1243.2 1366.2L1234.8 1372.9L1233.2 1389.5L1234.8 1402.8L1241.5 1414.5L1233.2 1423.5L1223.2 1409.5L1214.8 1402.8L1206.5 1399.5L1201.5 1381.2L1189.9 1376.2L1183.2 1381.2L1174.9 1382.9L1169.9 1369.5L1163.2 1366.2L1159.9 1361.2L1163.2 1351.2L1156.6 1339.6L1146.6 1336.2L1143.3 1329.6L1141.6 1312.9L1134.9 1306.3L1123.3 1311.3L1110 1312.9L1101.6 1314.6L1110 1304.6L1105 1292.9L1101.6 1283L1103.3 1294.6L1096.6 1292.9L1088.3 1283L1080 1266.3L1076.7 1249.7L1075 1235.7L1086.6 1233L1100 1229.7L1105 1224.7L1101.6 1219.7L1100 1213L1103.3 1203L1108.3 1193L1106.6 1183.1L1119.9 1173.1L1129.9 1166.4L1131.6 1161.4L1139.9 1159.7L1156.6 1149.8L1169.9 1141.4L1180.5 1133.1L1176.6 1119.8L1177.2 1099.8L1177.2 1082.5Z" fill="#8989b3"/>
<path d="M911.1 1227L916.1 1223.1L922.8 1229.7L946.1 1232.4L966.1 1237L982.7 1243L992.7 1242.4L999.4 1245.7L1006 1238L1012.7 1237L1029.4 1243.7L1042.7 1251.4L1052.7 1254.7L1054.3 1249.7L1049.3 1239.7L1056 1236.4L1075 1235.7L1076.7 1249.7L1080 1266.3L1088.3 1283L1096.6 1292.9L1103.3 1294.6L1101.6 1283L1105 1292.9L1110 1304.6L1101.6 1314.6L1105 1326.2L1096.6 1324.6L1086.6 1324.6L1082.6 1329.6L1071 1324.6L1066 1327.9L1071 1334.6L1076 1339.6L1066 1341.3L1056 1347.9L1046 1351.3L1042.7 1354.6L1047.7 1357.9L1059.3 1362.9L1062.7 1376.2L1071 1389.6L1062.7 1396.2L1066 1401.2L1064.3 1412.9L1059.3 1414.5L1049.3 1407.9L1041 1401.2L1034.3 1406.2L1039.3 1414.5L1037.7 1424.5L1027.7 1426.2L1019.4 1436.8L1009.4 1436.2L1001 1440.2L996.1 1435.5L991.1 1436.2L986.1 1443.5L976.1 1445.5L961.1 1446.2L961.1 1441.2L946.1 1436.2L932.8 1432.2L919.5 1428.8L907.8 1429.5L901.1 1422.9L892.8 1414.5L879.5 1409.5L871.2 1398.9L859.5 1394.5L854.5 1387.9L844.5 1381.2L839.5 1372.2L841.2 1369.6L851.2 1361.2L856.2 1354.6L867.8 1351.3L879.5 1348.9L884.5 1342.9L879.5 1339.6L871.2 1344.6L864.5 1342.9L861.2 1334.6L866.8 1331.3L866.2 1326.3L856.2 1321.3L854.5 1316.3L866.2 1313L876.2 1309.6L886.2 1309.6L887.8 1301.3L892.8 1291.3L899.5 1286.3L911.1 1283L912.8 1269.7L915.5 1253L914.5 1239.7L911.1 1227Z" fill="#8e9bb9"/>
<path d="M1064.7 695.7L1065.7 686.4L1074.7 679.7L1069 673.1L1078 671.4L1088 656.4L1098 651.4L1105.3 646.4L1106.3 656.4L1113 654.7L1124.6 665.4L1138 669.1L1146.3 675.7L1159.6 673.1L1161.3 683L1164.6 689L1172.9 684.7L1182.9 685.7L1197.9 679.7L1206.2 686.4L1221.2 684.7L1226.2 681.4L1231.2 686.4L1239.5 684.7L1249.5 696.4L1254.5 704.7L1252.9 711.3L1247.9 723L1241.2 727L1247.9 729L1250.2 736.3L1247.9 748L1246.2 758L1251.2 766.3L1257.8 769L1266.2 774.6L1277.8 773.6L1267.8 782.9L1269.5 789.6L1279.5 801.3L1291.1 814.6L1309.5 799.6L1324.4 812.2L1336.1 819.6L1347.8 824.6L1352.8 822.2L1361.1 824.6L1374.4 822.9L1372.7 806.3L1376.1 797.9L1386.1 793.6L1399.4 793.6L1396 787.9L1422 786.3L1426 808.9L1428.7 808.9L1436 867.9L1444.3 867.9L1446 862.9L1451 867.9L1480 866.2L1475.3 876.8L1466 882.8L1456 891.2L1449.3 899.5L1442.7 911.1L1439.3 921.1L1442.7 931.1L1452.7 937.1L1461 927.8L1480.2 932.3L1466.3 973.9L1449.6 982.6L1443 999.9L1450.3 1011.6L1457.9 1025.9L1450.3 1028.2L1452.3 1044.9L1447.3 1045.5L1447.9 1059.2L1461.9 1059.2L1456.3 1069.8L1449.6 1071.5L1453.6 1082.5L1447.9 1088.1L1444.6 1098.1L1438 1103.1L1435.6 1114.8L1428 1116.5L1401.3 1129.1L1419.6 1165.7L1437.3 1156.4L1439.6 1166.4L1438 1176.4L1442.3 1181.4L1426.3 1204.7L1439.6 1196.4L1443 1203.7L1438 1211.4L1439.6 1221.3L1443 1226.3L1469.6 1197L1471.3 1236.3L1479.6 1221.3L1492.9 1214.7L1508.9 1206.4L1522.5 1264.8L1508.8 1268.4L1505.4 1266.8L1501.3 1265.9L1497.1 1271.8L1488.7 1281.8L1480.4 1288.5L1475.4 1286.8L1471.2 1286L1463.7 1291.8L1453.6 1296.8L1442 1298.5L1431.9 1297.2L1431.1 1291.8L1428.6 1281.8L1420.2 1271.8L1410.2 1263.4L1400.2 1253.4L1390.2 1245.1L1383.5 1239.2L1383 1233L1391.3 1223L1399.7 1213L1404.7 1204.7L1403 1198L1393 1187L1381.3 1178.1L1366.4 1168.1L1353 1158.1L1349 1150.4L1351.4 1133.1L1351.4 1116.5L1349 1108.1L1343.1 1099.8L1334.7 1089.8L1329.7 1081.5L1331.4 1071.5L1334.7 1063.2L1334.7 1054.8L1329.7 1039.9L1324.7 1023.2L1319.7 1008.2L1318.1 999.9L1321.4 989.9L1326.4 979.9L1328.1 966.6L1327.1 951.6L1330.4 940L1336.4 930L1343.1 920L1345.7 910L1344.4 897.8L1336.1 889.5L1319.5 881.2L1294.5 876.8L1269.5 867.9L1252.9 864.5L1241.2 860.2L1238.9 851.2L1244.5 839.6L1242.9 832.2L1231.2 822.9L1222.9 812.9L1221.2 801.3L1216.2 796.3L1209.6 797.9L1202.2 806.3L1191.2 802.9L1182.9 794.6L1176.3 784.6L1176.3 773L1171.3 767L1159.6 764.6L1143 767L1133 766.3L1121.3 760.3L1115.7 762.3L1113 776.3L1108 787.9L1101.3 792.3L1091.3 790.3L1085.7 786.3L1085.7 777.9L1090.3 766.3L1094.7 758L1104.7 756.3L1111.3 751.3L1116.3 743L1119 731.3L1123.6 731.3L1128 736.3L1134.6 733L1136.3 721.3L1128 714.7L1113 708.7L1099.7 701.4L1089.7 696.4L1076.4 694.7L1064.7 695.7Z" fill="#dde1ea"/>
<path d="M1383.5 1239.2L1378.5 1246.7L1371.8 1247.6L1370.1 1253.4L1360.1 1268.4L1357.6 1263.4L1358.4 1254.2L1354.2 1245.1L1351.7 1253.4L1353.4 1268.4L1346.7 1270.1L1339.2 1271L1340 1276.8L1345.1 1277.6L1351.7 1276.8L1351.7 1286.8L1354.2 1296.8L1360.9 1311.9L1370.1 1320.2L1380.1 1330.3L1386 1340.3L1386.8 1352L1381.8 1363.7L1380.1 1370.4L1386 1375.4L1387.7 1385.4L1390.2 1389.6L1398.5 1390.1L1403.5 1385.4L1410.2 1381.2L1408.5 1377.9L1403.5 1377L1410.2 1373.7L1420.2 1371.7L1424.9 1370.4L1423.6 1367L1415.2 1355.3L1408.5 1343.6L1420.2 1335.3L1433.6 1326.1L1435.3 1321.9L1448.6 1313.6L1463.7 1310.2L1470.4 1303.5L1477 1293.5L1481.2 1293.5L1487.1 1297.7L1489.6 1293.5L1503.8 1286.8L1524.6 1273.5L1522.5 1264.8L1508.8 1268.4L1505.4 1266.8L1501.3 1265.9L1497.1 1271.8L1488.7 1281.8L1480.4 1288.5L1475.4 1286.8L1471.2 1286L1463.7 1291.8L1453.6 1296.8L1442 1298.5L1431.9 1297.2L1431.1 1291.8L1428.6 1281.8L1420.2 1271.8L1410.2 1263.4L1400.2 1253.4L1390.2 1245.1L1383.5 1239.2Z" fill="#aaa7ce"/>
<path d="M1442.8 1397.1L1450.3 1395.4L1458.7 1385.4L1462 1378.7L1463.7 1372.9L1472 1369.5L1477 1367L1482 1371.2L1488.7 1365.3L1493.7 1362.8L1499.6 1366.2L1505.4 1362L1508.8 1362L1513.8 1357L1520.5 1348.6L1525.5 1343.6L1528.8 1343.3L1537.2 1349.5L1533.8 1357L1530.5 1365.3L1527.2 1367L1523 1368.7L1517.1 1375.4L1512.1 1381.2L1505.4 1380.4L1502.9 1387.1L1500.4 1396.2L1502.1 1402.1L1498.8 1407.1L1492.1 1412.1L1487.1 1415.5L1482 1413L1476.2 1414.6L1475.4 1418.8L1477.9 1420.5L1473.7 1423.8L1474.5 1428.8L1471.2 1430.5L1472.9 1438.8L1471.2 1445.5L1468.7 1448L1466.2 1443.9L1463.7 1437.2L1457 1433.8L1447 1435.5L1441.1 1438L1442.8 1450.5L1445.3 1460.6L1448.6 1468.9L1447 1475.6L1442.8 1478.1L1439.4 1470.6L1436.9 1463.9L1432.8 1466.4L1430.3 1473.9L1426.9 1482.3L1420.2 1487.3L1416.1 1493.5L1413.6 1503.8L1410.2 1501L1406.9 1493.5L1403.5 1492.6L1393.5 1490.1L1386.8 1483.4L1381 1475.1L1388.5 1467.2L1395.2 1462.2L1397.7 1455.5L1401 1448L1406.9 1443L1415.2 1441.3L1421.9 1438.8L1426.9 1432.2L1431.9 1423.8L1436.9 1413.8L1440.3 1403.8L1442.8 1397.1Z" fill="#aaa7ce"/>
<path d="M1474.5 1428.8L1482 1435.5L1492.1 1442.2L1500.4 1451.4L1493.7 1466.7L1490.4 1473.4L1485.4 1488.4L1480.4 1503.5L1481.2 1515.2L1485.4 1528.5L1477 1536.9L1465.3 1539.4L1458.7 1537.7L1450.3 1540.2L1442 1541.9L1442.8 1548.6L1436.9 1555.3L1428.6 1562L1426.9 1567L1430.3 1572L1423.6 1575.3L1418.6 1573.6L1416.1 1578.7L1408.5 1582L1406.9 1573.6L1403.5 1565.3L1398.5 1555.3L1390.2 1551.9L1378.5 1551.9L1368.4 1551.1L1361.8 1543.6L1358.4 1540.2L1354.2 1543.6L1353.4 1551.9L1350.1 1558.6L1353.4 1567L1355.9 1573.6L1345.1 1567.8L1336.7 1560.3L1333.4 1548.6L1334.2 1538.6L1333.4 1530.2L1335 1521.9L1341.7 1520.2L1350.9 1523.5L1355.9 1521.9L1360.1 1513.5L1368.4 1508.5L1373.5 1510.2L1378.5 1513.5L1383.5 1508.5L1385.2 1502.6L1393.5 1501.8L1403.5 1503.5L1411 1506.8L1413.6 1503.8L1416.1 1493.5L1420.2 1487.3L1426.9 1482.3L1430.3 1473.9L1432.8 1466.4L1436.9 1463.9L1439.4 1470.6L1442.8 1478.1L1447 1475.6L1448.6 1468.9L1445.3 1460.6L1442.8 1450.5L1441.1 1438L1447 1435.5L1457 1433.8L1463.7 1437.2L1466.2 1443.9L1468.7 1448L1471.2 1445.5L1472.9 1438.8L1471.2 1430.5L1474.5 1428.8Z" fill="#8e9bb9"/>
<path d="M777.9 1197.1L776.3 1206.4L779.6 1210.4L789.6 1203.1L801.2 1198.1L809.6 1201.4L822.9 1203.1L829.6 1211.4L834.5 1224.7L839.5 1233L843.5 1231.4L842.9 1219.7L842.9 1209.7L852.9 1206.4L859.5 1205.7L861.2 1212.4L872.8 1213.7L891.2 1214.7L902.8 1221.4L911.1 1227L914.5 1239.7L915.5 1253L912.8 1269.7L911.1 1283L899.5 1286.3L892.8 1291.3L887.8 1301.3L886.2 1309.6L876.2 1309.6L866.2 1313L854.5 1316.3L856.2 1321.3L866.2 1326.3L866.8 1331.3L861.2 1334.6L864.5 1342.9L871.2 1344.6L879.5 1339.6L884.5 1342.9L879.5 1348.9L867.8 1351.3L856.2 1354.6L851.2 1361.2L841.2 1369.6L839.5 1372.2L829.6 1372.9L819.6 1376.2L807.9 1381.2L801.2 1386.2L798.9 1396.2L800.2 1409.5L806.2 1417.9L806.9 1427.8L797.9 1432.8L790.3 1436.2L787.9 1449.5L787.9 1466.1L785.6 1479.5L791.3 1486.1L804.6 1491.1L811.2 1502.8L814.9 1506.6L816.6 1519.9L821.6 1528.2L831.6 1529.9L839.9 1536.5L841.6 1544.9L839.9 1553.8L834.9 1552.5L826.6 1553.8L818.3 1549.9L810 1546.5L803.3 1543.2L795 1538.2L786.6 1534.9L793.3 1531.5L785 1526.5L775 1521.5L766.7 1518.2L760 1513.2L758 1511.1L753 1504.4L746.3 1499.4L741.3 1492.8L734.6 1487.8L726.3 1483.5L723 1477.8L728 1476.1L733 1471.1L721.3 1471.1L716.3 1467.8L708 1464.5L699.7 1462.8L701.3 1457.8L708 1452.8L712.3 1447.8L708 1442.8L706.3 1434.5L703.7 1426.2L703 1416.2L698 1411.2L699 1404.5L694.7 1402.9L691.4 1394.5L684.7 1391.2L683.7 1382.9L678 1381.2L676.4 1374.6L683 1372.9L681.4 1369.6L678 1361.2L673.7 1359.6L671.4 1351.3L666.4 1346.3L658.1 1342.9L656.4 1346.3L651.4 1351.3L646.4 1347.9L643.1 1342.9L641.4 1332.9L636.4 1337.9L631.4 1332.9L628.1 1336.3L621.4 1337.9L618.1 1332.9L614.8 1324.6L611.4 1327.9L606.4 1323L603.1 1326.3L598.1 1324.6L596.5 1318L599.8 1318L607.1 1311.3L604.8 1304.6L600.4 1298L598.1 1287L590.5 1289L589.8 1283L583.1 1281.3L593.1 1279.7L609.8 1274.7L626.4 1268L633.7 1263L634.7 1253L646.4 1250.4L663.1 1247L665.7 1241.4L669.7 1234.7L679.7 1235.7L689.7 1236.4L696.4 1231.4L701.3 1234.7L711.3 1236.4L716.3 1234.7L721.3 1227L724.7 1229.7L729.7 1236.4L738 1231.4L746.3 1229.7L748 1223.1L748 1206.4L749 1191.4L754.6 1191.4L766.3 1196.4L777.9 1197.1Z" fill="#8989b3"/>
<path d="M839.5 1372.2L829.6 1372.9L819.6 1376.2L807.9 1381.2L801.2 1386.2L798.9 1396.2L800.2 1409.5L806.2 1417.9L806.9 1427.8L797.9 1432.8L790.3 1436.2L787.9 1449.5L787.9 1466.1L785.6 1479.5L791.3 1486.1L804.6 1491.1L811.2 1502.8L814.9 1506.6L816.6 1519.9L821.6 1528.2L831.6 1529.9L839.9 1536.5L841.6 1544.9L839.9 1553.8L834.9 1559.8L841.6 1564.8L843.3 1573.2L849.9 1578.2L854.9 1584.8L863.2 1589.8L866.6 1593.1L859.9 1599.8L861.6 1608.1L866.6 1613.1L863.2 1619.8L869.9 1626.4L874.9 1629.8L883.2 1628.1L891.5 1631.4L901.5 1633.1L906.5 1638.1L903.2 1628.1L906.5 1622.4L916.5 1624.8L924.8 1623.8L928.2 1633.1L933.2 1639.8L941.5 1643.1L944.8 1633.1L945.8 1616.5L948.1 1603.1L947.1 1586.5L949.1 1573.2L959.8 1570.5L973.1 1569.2L981.4 1573.8L989.8 1566.5L986.4 1556.5L979.8 1546.5L976.5 1533.2L979.8 1519.9L986.4 1511.6L983.1 1506.6L981.4 1496.6L978.1 1488.2L969.8 1489.9L959.8 1496.6L949.8 1486.6L941.5 1474.9L939.8 1464.9L943.2 1459.9L949.8 1466.6L954.8 1463.3L961.5 1453.3L961.1 1441.3L961.1 1441.2L946.1 1436.2L932.8 1432.2L919.5 1428.8L907.8 1429.5L901.1 1422.9L892.8 1414.5L879.5 1409.5L871.2 1398.9L859.5 1394.5L854.5 1387.9L844.5 1381.2L839.5 1372.2Z" fill="#8e9bb9"/>
<path d="M961.1 1441.2L961.1 1446.2L976.1 1445.5L986.1 1443.5L991.1 1436.2L996.1 1435.5L1001 1440.2L1009.4 1436.2L1019.4 1436.8L1027.7 1426.2L1037.7 1424.5L1039.3 1414.5L1034.3 1406.2L1041 1401.2L1049.3 1407.9L1059.3 1414.5L1064.3 1412.9L1066 1401.2L1062.7 1396.2L1071 1389.6L1062.7 1376.2L1059.3 1362.9L1047.7 1357.9L1042.7 1354.6L1046 1351.3L1056 1347.9L1066 1341.3L1076 1339.6L1071 1334.6L1066 1327.9L1071 1324.6L1082.6 1329.6L1086.6 1324.6L1096.6 1324.6L1105 1326.2L1101.6 1314.6L1110 1312.9L1123.3 1311.3L1134.9 1306.3L1141.6 1312.9L1143.3 1329.6L1146.6 1336.2L1156.6 1339.6L1163.2 1351.2L1159.9 1361.2L1163.2 1366.2L1169.9 1369.5L1174.9 1382.9L1183.2 1381.2L1189.9 1376.2L1201.5 1381.2L1206.5 1399.5L1214.8 1402.8L1223.2 1409.5L1233.2 1423.5L1226.5 1432.8L1223.2 1439.5L1218.2 1446.1L1214.8 1456.1L1219.8 1462.8L1222.9 1466.6L1209.6 1483.3L1199.6 1494.9L1186.2 1499.9L1169.6 1501.6L1161.3 1508.2L1158 1514.9L1162.1 1524.6L1166.3 1534.4L1170.5 1533L1172.6 1541.3L1169.1 1544.1L1159.4 1542.7L1153.8 1535.8L1146.8 1539.2L1141.2 1544.1L1148.2 1552.5L1142.6 1554.6L1155.2 1567.1L1144 1576.2L1127.3 1559.5L1113.4 1545.5L1098 1531.6L1095.9 1524.6L1093.8 1517.6L1089.7 1512.8L1085.5 1519L1082.7 1524.6L1086.9 1531.6L1085.5 1534.4L1081.3 1531.6L1074.3 1526L1067.3 1521.1L1063.2 1517.6L1056.2 1514.2L1049.2 1521.8L1043.6 1527.4L1033.9 1512.1L1029.7 1517.6L1026.9 1503.7L1019.9 1509.3L1018.6 1514.9L1015.8 1519L1013 1510L1006 1507.9L1000.4 1511.4L992.1 1515.5L986.4 1511.6L983.1 1506.6L981.4 1496.6L978.1 1488.2L969.8 1489.9L959.8 1496.6L949.8 1486.6L941.5 1474.9L939.8 1464.9L943.2 1459.9L949.8 1466.6L954.8 1463.3L961.5 1453.3L961.1 1441.3Z" fill="#8989b3"/>
<path d="M1233.2 1423.5L1241.5 1414.5L1234.8 1402.8L1233.2 1389.5L1234.8 1372.9L1243.2 1366.2L1259.8 1367.9L1276.5 1364.5L1286.4 1352.9L1299.8 1346.2L1309.8 1339.6L1318.1 1331.2L1333.1 1331.2L1343.1 1327.9L1346.4 1319.6L1359.7 1312.9L1360.9 1311.9L1370.1 1320.2L1380.1 1330.3L1386 1340.3L1386.8 1352L1381.8 1363.7L1380.1 1370.4L1386 1375.4L1387.7 1385.4L1390.2 1389.6L1398.5 1390.1L1403.5 1385.4L1410.2 1381.2L1408.5 1377.9L1403.5 1377L1410.2 1373.7L1420.2 1371.7L1424.9 1370.4L1430.3 1377L1435.3 1388.7L1441.1 1393.7L1442.8 1397.1L1440.3 1403.8L1436.9 1413.8L1431.9 1423.8L1426.9 1432.2L1421.9 1438.8L1415.2 1441.3L1406.9 1443L1401 1448L1397.7 1455.5L1395.2 1462.2L1388.5 1467.2L1381 1475.1L1369.4 1476.6L1359.4 1481.6L1352.7 1488.2L1332.8 1484.9L1319.4 1484.9L1312.8 1489.9L1306.1 1486.6L1299.5 1476.6L1299.5 1458.3L1292.8 1450L1286.1 1453.3L1277.8 1450L1266.2 1446.6L1266.2 1456.6L1259.5 1466.6L1249.5 1473.3L1241.2 1466.6L1232.9 1461.6L1222.9 1466.6L1219.8 1462.8L1214.8 1456.1L1218.2 1446.1L1223.2 1439.5L1226.5 1432.8L1233.2 1423.5Z" fill="#8e9bb9"/>
<path d="M1222.9 1466.6L1209.6 1483.3L1199.6 1494.9L1186.2 1499.9L1169.6 1501.6L1161.3 1508.2L1158 1514.9L1162.1 1524.6L1166.3 1534.4L1170.5 1533L1172.6 1541.3L1177.5 1546.9L1183.1 1551.1L1190 1553.9L1194.2 1559.5L1201.2 1562.3L1208.2 1570.6L1213.7 1580.4L1219.3 1588.7L1226.3 1590.1L1231.9 1592.9L1234.6 1598.5L1238.8 1595.7L1247.2 1598.5L1255.6 1605.5L1261.2 1626.4L1259.5 1641.4L1269.5 1644.8L1272.8 1659.7L1286.1 1663.1L1299.5 1661.4L1309.5 1666.4L1317.8 1673.7L1326.1 1668.1L1346.1 1669.1L1357.6 1670.5L1367.6 1664.7L1363.4 1662.2L1361.8 1657.2L1365.1 1653.8L1367.6 1645.5L1366.8 1635.5L1364.3 1623.8L1358.4 1620.4L1345.1 1618.8L1336.7 1613.7L1328.4 1608.7L1325.8 1605.4L1333.4 1600.4L1336.7 1595.4L1340 1589.5L1346.7 1585.3L1348.4 1577L1355.9 1573.6L1345.1 1567.8L1336.7 1560.3L1333.4 1548.6L1334.2 1538.6L1333.4 1530.2L1335 1521.9L1341.7 1520.2L1350.9 1523.5L1355.9 1521.9L1360.1 1513.5L1368.4 1508.5L1373.5 1510.2L1378.5 1513.5L1383.5 1508.5L1385.2 1502.6L1393.5 1501.8L1403.5 1503.5L1411 1506.8L1413.6 1503.8L1410.2 1501L1406.9 1493.5L1403.5 1492.6L1393.5 1490.1L1386.8 1483.4L1381 1475.1L1369.4 1476.6L1359.4 1481.6L1352.7 1488.2L1332.8 1484.9L1319.4 1484.9L1312.8 1489.9L1306.1 1486.6L1299.5 1476.6L1299.5 1458.3L1292.8 1450L1286.1 1453.3L1277.8 1450L1266.2 1446.6L1266.2 1456.6L1259.5 1466.6L1249.5 1473.3L1241.2 1466.6L1232.9 1461.6L1222.9 1466.6Z" fill="#65689c"/>
<path d="M874.9 1629.8L883.2 1628.1L891.5 1631.4L901.5 1633.1L906.5 1638.1L903.2 1628.1L906.5 1622.4L916.5 1624.8L924.8 1623.8L928.2 1633.1L933.2 1639.8L941.5 1643.1L944.8 1633.1L945.8 1616.5L948.1 1603.1L947.1 1586.5L949.1 1573.2L959.8 1570.5L973.1 1569.2L981.4 1573.8L989.8 1566.5L986.4 1556.5L979.8 1546.5L976.5 1533.2L979.8 1519.9L986.4 1511.6L992.1 1515.5L1000.4 1511.4L1006 1507.9L1013 1510L1015.8 1519L1018.6 1514.9L1019.9 1509.3L1026.9 1503.7L1029.7 1517.6L1033.9 1512.1L1043.6 1527.4L1049.2 1521.8L1056.2 1514.2L1063.2 1517.6L1067.3 1521.1L1063.9 1526L1070.1 1535.8L1079.9 1541.3L1093.8 1551.1L1093.8 1559.5L1091.7 1567.8L1098 1573.4L1107.8 1576.2L1103.6 1583.2L1109.2 1590.1L1116.1 1597.1L1113.4 1604.1L1117.5 1612.4L1121.7 1623.6L1125.9 1620.8L1130.1 1615.2L1132.9 1626.4L1139.8 1633.4L1151 1640.3L1162.1 1644.5L1164.9 1647.3L1160.8 1654.3L1162.1 1662.6L1161.4 1669.6L1166.3 1673.8L1171.9 1678L1176.8 1675.2L1171.9 1665.4L1177.5 1661.2L1185.8 1661.2L1195.6 1665.4L1198.4 1678L1205.4 1689.1L1215.1 1704.5L1206.8 1707.2L1205.4 1711.4L1209.5 1722L1206.2 1719.7L1196.2 1723L1202.9 1733L1206.2 1746.3L1192.9 1754.6L1179.6 1763L1177.9 1773L1172.9 1783L1164.6 1781.3L1156.3 1776.3L1146.3 1779.6L1148.9 1789.6L1146.3 1804.6L1147.9 1814.6L1152.9 1826.2L1147.9 1832.2L1136.3 1832.9L1123 1833.6L1121.3 1829.6L1113 1827.9L1103 1829.6L1093 1832.9L1079.7 1826.2L1069.7 1812.9L1059.7 1802.9L1053 1806.3L1046.4 1804.6L1038.1 1802.9L1036.4 1812.9L1023.1 1816.3L1018.1 1822.9L1023.1 1839.6L1026.4 1856.2L1031.4 1866.2L1019.7 1874.5L1003.1 1877.9L989.8 1879.5L978.1 1874.5L981.4 1869.5L982.4 1861.2L976.5 1854.5L963.1 1852.9L950.5 1852.9L949.8 1846.2L946.5 1836.2L944.8 1826.2L941.5 1819.6L933.2 1814.6L929.8 1802.9L926.5 1791.3L919.8 1783L915.8 1773L913.2 1759.6L911.5 1751.3L906.5 1744.7L911.5 1743L903.2 1734.7L896.5 1728L888.2 1721.3L883.2 1713L879.2 1706.4L876.6 1694.7L881.5 1688L878.2 1678.1L871.6 1671.4L876.6 1664.7L874.9 1654.7L863.2 1653.1L861.6 1648.1L868.2 1636.4L874.9 1629.8Z" fill="#8989b3"/>
<path d="M1067.3 1521.1L1074.3 1526L1081.3 1531.6L1085.5 1534.4L1086.9 1531.6L1082.7 1524.6L1085.5 1519L1089.7 1512.8L1093.8 1517.6L1095.9 1524.6L1098 1531.6L1113.4 1545.5L1127.3 1559.5L1144 1576.2L1155.2 1567.1L1142.6 1554.6L1148.2 1552.5L1141.2 1544.1L1146.8 1539.2L1153.8 1535.8L1159.4 1542.7L1169.1 1544.1L1172.6 1541.3L1177.5 1546.9L1183.1 1551.1L1190 1553.9L1194.2 1559.5L1201.2 1562.3L1208.2 1570.6L1213.7 1580.4L1219.3 1588.7L1226.3 1590.1L1231.9 1592.9L1234.6 1598.5L1238.8 1595.7L1247.2 1598.5L1255.6 1605.5L1261.2 1626.4L1259.5 1641.4L1269.5 1644.8L1272.8 1659.7L1286.1 1663.1L1299.5 1661.4L1309.5 1666.4L1317.8 1673.7L1326.1 1668.1L1346.1 1669.1L1357.6 1670.5L1359.3 1677.2L1366.8 1673.9L1375.1 1668.9L1380.1 1669.7L1385.2 1665.5L1391 1667.2L1390.2 1673.9L1384.3 1677.2L1385.2 1680.6L1391.8 1682.2L1390.2 1688.9L1393.5 1695.6L1400.2 1700.6L1403.5 1705.6L1401.9 1714L1398.5 1720.7L1403.5 1730L1407.7 1734.7L1402.7 1743L1401 1753L1397.7 1763L1395.4 1766.3L1392.7 1773L1382.7 1781.3L1374.4 1789.6L1366.1 1797.9L1356.1 1804.6L1351.1 1807.9L1342.8 1804.6L1336.1 1809.6L1327.8 1807.9L1319.4 1801.3L1314.4 1792.9L1309.5 1784.6L1314.4 1781.3L1316.1 1773L1309.5 1764.6L1302.8 1758L1292.8 1758L1284.5 1769.6L1274.5 1776.3L1271.2 1792.9L1264.5 1801.3L1261.2 1794.6L1252.8 1787.9L1246.2 1786.3L1242.9 1776.3L1232.9 1774.6L1222.9 1764.6L1214.5 1758L1207.9 1756.3L1206.2 1746.3L1202.9 1733L1196.2 1723L1206.2 1719.7L1209.5 1722L1205.4 1711.4L1206.8 1707.2L1215.1 1704.5L1205.4 1689.1L1198.4 1678L1195.6 1665.4L1185.8 1661.2L1177.5 1661.2L1171.9 1665.4L1176.8 1675.2L1171.9 1678L1166.3 1673.8L1161.4 1669.6L1162.1 1662.6L1160.8 1654.3L1164.9 1647.3L1162.1 1644.5L1151 1640.3L1139.8 1633.4L1132.9 1626.4L1130.1 1615.2L1125.9 1620.8L1121.7 1623.6L1117.5 1612.4L1113.4 1604.1L1116.1 1597.1L1109.2 1590.1L1103.6 1583.2L1107.8 1576.2L1098 1573.4L1091.7 1567.8L1093.8 1559.5L1093.8 1551.1L1079.9 1541.3L1070.1 1535.8L1063.9 1526L1067.3 1521.1Z" fill="#8989b3"/>
<path d="M1500.4 1451.4L1503.8 1456.7L1502.9 1466.7L1507.1 1473.4L1517.1 1475.9L1528.8 1474.2L1534.7 1478.4L1537.2 1488.4L1542.2 1498.5L1548.9 1508.5L1557.2 1511.8L1553 1515.2L1551.4 1520.2L1555.5 1530.2L1553.9 1536.9L1548 1538.6L1543.9 1535.2L1543 1528.5L1539.7 1530.2L1540.5 1536.9L1545.5 1543.6L1549.7 1553.6L1548.9 1562L1543.9 1564.5L1532.2 1565L1520.5 1563.6L1514.6 1562.8L1513.8 1568.6L1511.3 1562L1507.9 1563.6L1507.9 1572L1512.1 1578.7L1520.5 1590.4L1528.8 1598.7L1538.8 1606.2L1548.9 1610.4L1558.9 1606.2L1567.2 1598.7L1575.6 1588.7L1581.4 1584.5L1587.3 1587.8L1594 1593.7L1602.3 1597L1604.8 1607.1L1605.7 1617.1L1602.3 1625.4L1600.7 1632.1L1604 1638.8L1610.7 1643.8L1612.3 1655.5L1614 1668.9L1607.3 1671.4L1602.3 1667.2L1595.6 1668.9L1587.3 1664.7L1584.8 1673.9L1567.2 1677.2L1567.2 1683.9L1570.6 1690.6L1571.4 1700.6L1563.2 1709.6L1553.2 1711.3L1538.3 1709.6L1524.9 1708.9L1523.3 1712.9L1518.3 1714.6L1510 1717.9L1500 1721.2L1501.6 1724.6L1510 1729.6L1510 1734.6L1500 1739.6L1490 1744.6L1476.7 1751.2L1471.7 1761.2L1473.3 1769.5L1475 1779.5L1470 1782.9L1459.3 1785.6L1449.3 1784.6L1444.3 1776.3L1441 1763L1436 1754.6L1426 1756.3L1421 1761.3L1414.3 1758L1406 1761.3L1395.4 1766.3L1397.7 1763L1401 1753L1402.7 1743L1407.7 1734.7L1403.5 1730L1398.5 1720.7L1401.9 1714L1403.5 1705.6L1400.2 1700.6L1393.5 1695.6L1390.2 1688.9L1391.8 1682.2L1385.2 1680.6L1384.3 1677.2L1390.2 1673.9L1391 1667.2L1385.2 1665.5L1380.1 1669.7L1375.1 1668.9L1366.8 1673.9L1359.3 1677.2L1357.6 1670.5L1367.6 1664.7L1363.4 1662.2L1361.8 1657.2L1365.1 1653.8L1367.6 1645.5L1366.8 1635.5L1364.3 1623.8L1358.4 1620.4L1345.1 1618.8L1336.7 1613.7L1328.4 1608.7L1325.8 1605.4L1333.4 1600.4L1336.7 1595.4L1340 1589.5L1346.7 1585.3L1348.4 1577L1355.9 1573.6L1353.4 1567L1350.1 1558.6L1353.4 1551.9L1354.2 1543.6L1358.4 1540.2L1361.8 1543.6L1368.4 1551.1L1378.5 1551.9L1390.2 1551.9L1398.5 1555.3L1403.5 1565.3L1406.9 1573.6L1408.5 1582L1416.1 1578.7L1418.6 1573.6L1423.6 1575.3L1430.3 1572L1426.9 1567L1428.6 1562L1436.9 1555.3L1442.8 1548.6L1442 1541.9L1450.3 1540.2L1458.7 1537.7L1465.3 1539.4L1477 1536.9L1485.4 1528.5L1481.2 1515.2L1480.4 1503.5L1485.4 1488.4L1490.4 1473.4L1493.7 1466.7L1500.4 1451.4Z" fill="#8e9bb9"/>
<path d="M1614 1668.9L1619 1680.6L1620.7 1690.6L1619.9 1700.6L1620.7 1712.3L1619 1714L1617.4 1724L1610.7 1724L1607.3 1714L1600.7 1707.3L1594 1700.6L1580.6 1701.4L1571.4 1700.6L1570.6 1690.6L1567.2 1683.9L1567.2 1677.2L1584.8 1673.9L1587.3 1664.7L1595.6 1668.9L1602.3 1667.2L1607.3 1671.4L1614 1668.9Z" fill="#dde1ea"/>
<path d="M1395.4 1766.3L1406 1761.3L1414.3 1758L1421 1761.3L1426 1756.3L1436 1754.6L1441 1763L1444.3 1776.3L1449.3 1784.6L1459.3 1785.6L1470 1782.9L1475 1779.5L1473.3 1769.5L1471.7 1761.2L1476.7 1751.2L1490 1744.6L1500 1739.6L1510 1734.6L1510 1729.6L1501.6 1724.6L1500 1721.2L1510 1717.9L1518.3 1714.6L1523.3 1712.9L1524.9 1708.9L1538.3 1709.6L1553.2 1711.3L1563.2 1709.6L1571.4 1700.6L1580.6 1701.4L1594 1700.6L1600.7 1707.3L1607.3 1714L1610.7 1724L1617.4 1724L1619 1714L1620.7 1712.3L1626.5 1714.6L1633.2 1721.2L1641.5 1724.6L1646.5 1722.9L1648.1 1716.3L1643.2 1712.9L1649.8 1716.3L1653.8 1726.2L1654.8 1716.3L1656.5 1707.9L1666.5 1706.3L1669.8 1697.9L1666.5 1689.6L1673.1 1687.9L1680.4 1683L1682.4 1686.3L1678.1 1692.9L1681.4 1696.3L1689.8 1692.9L1693.1 1701.3L1698.1 1704.6L1699.8 1694.6L1705.8 1699.6L1711.4 1704.6L1704.8 1712.9L1708.1 1719.6L1713.1 1726.2L1711.4 1736.2L1714.7 1746.2L1718.1 1756.2L1724.7 1759.5L1725.7 1771.2L1726.4 1781.2L1723.1 1789.5L1714.7 1794.5L1713.7 1804.5L1713.7 1804L1703 1807.3L1694.7 1813.3L1689.7 1820L1689 1825L1683.1 1832.6L1680.4 1844.9L1669.7 1841.6L1661.4 1839.3L1658.1 1841.6L1651.4 1839.3L1644.8 1844.9L1638.1 1851.6L1629.8 1858.3L1623.1 1864.9L1618.1 1862.6L1613.1 1859.9L1606.5 1864.9L1601.5 1869.9L1593.1 1871.6L1584.8 1874.9L1576.5 1883.2L1577.2 1889.9L1582.5 1896.6L1588.1 1905.9L1572.5 1919.9L1600.8 1949.2L1570.5 1988.1L1577.2 2004.8L1574.8 2006.4L1562.5 1979.8L1548.2 1944.8L1539.9 1949.8L1542.5 1954.8L1539.9 1959.8L1543.2 1966.5L1529.9 1972.5L1529.2 1981.5L1533.2 1988.1L1526.5 1990.5L1537.2 2014.8L1524.9 2020.4L1521.5 2013.8L1505.9 2023.1L1507.2 2031.4L1492.6 2046.4L1473.3 2039.7L1492.6 2015.8L1484.9 2008.1L1483.3 1983.1L1479.3 1978.1L1496.6 1961.5L1494.9 1951.5L1488.2 1951.5L1485.9 1905.9L1447.3 1916.5L1447.3 1939.8L1393.4 1941.1L1392.7 1926.1L1392 1909.5L1391 1892.8L1387.7 1884.5L1389.4 1879.5L1387.7 1870.2L1372.7 1867.9L1356.1 1869.5L1341.1 1871.2L1339.4 1859.5L1332.8 1847.9L1327.8 1839.6L1324.4 1829.6L1316.1 1824.6L1322.8 1817.9L1319.4 1811.3L1327.8 1807.9L1336.1 1809.6L1342.8 1804.6L1351.1 1807.9L1356.1 1804.6L1366.1 1797.9L1374.4 1789.6L1382.7 1781.3L1392.7 1773L1395.4 1766.3Z" fill="#8989b3"/>
<path d="M1713.7 1804L1723 1806L1729.7 1802.6L1733 1810L1741.3 1816L1746.3 1817.3L1744.7 1808.3L1749.7 1806.6L1758 1809.3L1766.3 1809.3L1768 1816.6L1766.3 1821.6L1774.6 1820L1771.3 1825L1778 1831.6L1769.6 1834.9L1763 1839.9L1756.3 1844.9L1761.3 1849.9L1754.6 1854.9L1759.6 1858.3L1749.7 1861.6L1749.7 1865.9L1761.3 1869.2L1769.6 1870.6L1776.3 1875.9L1783 1876.6L1787.9 1871.6L1786.3 1864.9L1789.6 1859.9L1787.9 1855.9L1794.6 1858.3L1796.3 1868.2L1799.6 1863.3L1802.9 1859.9L1804.6 1871.6L1811.3 1869.9L1816.3 1873.2L1824.6 1871.6L1829.6 1869.2L1831.2 1874.9L1824.6 1879.9L1822.9 1886.6L1829.6 1888.2L1839.6 1891.6L1841.2 1894.9L1832.9 1893.2L1827.9 1896.6L1831.2 1901.5L1837.9 1902.5L1842.9 1911.5L1847.9 1914.9L1846.2 1919.9L1851.2 1926.5L1859.5 1928.2L1861.2 1933.8L1867.9 1936.5L1872.9 1939.8L1875.5 1931.5L1879.5 1929.9L1880.2 1938.2L1876.2 1942.5L1882.9 1941.5L1887.8 1933.2L1891.2 1928.2L1893.5 1933.2L1892.2 1938.2L1897.8 1941.5L1895.5 1948.2L1899.5 1954.8L1907.8 1956.5L1909.5 1961.5L1901.2 1963.2L1898.8 1967.1L1906.2 1972.5L1912.8 1971.5L1916.2 1979.1L1924.5 1977.1L1932.8 1979.8L1934.5 1986.5L1932.8 1991.5L1941.1 1993.1L1944.5 1986.5L1949.5 1990.5L1954.4 1993.1L1952.8 1983.1L1959.4 1988.1L1967.8 1990.5L1972.8 1996.5L1973.4 2002.4L1979.4 1999.8L1980.1 1989.8L1984.4 1988.1L1988.7 1994.8L1987.7 2001.4L1972.8 2011.4L1962.8 2018.1L1959.4 2018.1L1955.4 2032.1L1939.5 2014.8L1931.1 2014.8L1914.5 2027.1L1899.5 2023.1L1895.5 2027.1L1868.9 2016.4L1842.2 2039.1L1843.6 2054.7L1796.3 2029.1L1805.6 2021.4L1789.6 2006.4L1786.3 2002.4L1779.6 1978.1L1774.6 1977.1L1761.3 1962.5L1753.6 1966.5L1762.3 1986.5L1756.3 1988.1L1758 1993.1L1731.3 1999.8L1728 1989.1L1719 1993.1L1729.7 2050.4L1688 2058.1L1686.4 2050.4L1675.7 2053.1L1665.7 2008.1L1638.1 2006.4L1631.4 2002.4L1624.8 1993.1L1623.1 1988.1L1626.4 1981.5L1631.4 1975.8L1600.8 1949.2L1572.5 1919.9L1588.1 1905.9L1582.5 1896.6L1577.2 1889.9L1576.5 1883.2L1584.8 1874.9L1593.1 1871.6L1601.5 1869.9L1606.5 1864.9L1613.1 1859.9L1618.1 1862.6L1623.1 1864.9L1629.8 1858.3L1638.1 1851.6L1644.8 1844.9L1651.4 1839.3L1658.1 1841.6L1661.4 1839.3L1669.7 1841.6L1680.4 1844.9L1683.1 1832.6L1689 1825L1689.7 1820L1694.7 1813.3L1703 1807.3L1713.7 1804Z" fill="#8e9bb9"/>
<path d="M1522.5 1264.8L1535.5 1265.1L1548.9 1260.9L1553.9 1279.3L1546.4 1287.7L1553.9 1321.9L1569.7 1317.7L1570.6 1328.6L1580.6 1326.9L1580.6 1321.9L1602.3 1316.9L1600.7 1306.9L1602.3 1301.9L1598.1 1298.5L1604 1293.5L1600.7 1288.5L1602.3 1284.3L1600.7 1279.3L1614 1271.8L1647.4 1265.4L1664.1 1352L1636.6 1358.7L1656.5 1449.9L1614.8 1455.5L1611.5 1453.2L1613.2 1470.5L1622.5 1468.2L1631.5 1496.5L1641.5 1495.8L1639.8 1481.5L1674.1 1474.2L1685.8 1519.8L1671.5 1521.4L1669.1 1581.4L1648.1 1587L1657.1 1600.7L1692.1 1587L1698.1 1616.4L1724.7 1611.4L1729.7 1609.7L1734.7 1603.7L1737.1 1613L1742.4 1615.7L1754.7 1659.6L1804.7 1647L1805.7 1639.7L1824 1636.3L1830.6 1662.3L1826.3 1664.6L1838 1688.9L1850.3 1682.3L1847.9 1676.3L1859.6 1670.3L1867.9 1676.3L1874.6 1684.6L1878.9 1687.3L1871.3 1689.6L1864.6 1692.3L1854.6 1698.9L1859.6 1707.9L1867.9 1718.9L1872.9 1727.9L1876.3 1746.2L1875.6 1766.2L1874.6 1776.2L1878.9 1790.2L1871.3 1799.5L1869.6 1812.8L1864.6 1819.5L1867.9 1839.5L1872.9 1849.5L1878.9 1862.8L1876.2 1870.6L1867.9 1869.9L1864.5 1865.9L1861.2 1869.9L1862.2 1879.9L1869.5 1885.9L1867.9 1892.6L1837.9 1902.5L1831.2 1901.5L1827.9 1896.6L1832.9 1893.2L1841.2 1894.9L1839.6 1891.6L1829.6 1888.2L1822.9 1886.6L1824.6 1879.9L1831.2 1874.9L1829.6 1869.2L1824.6 1871.6L1816.3 1873.2L1811.3 1869.9L1804.6 1871.6L1802.9 1859.9L1799.6 1863.3L1796.3 1868.2L1794.6 1858.3L1787.9 1855.9L1789.6 1859.9L1786.3 1864.9L1787.9 1871.6L1783 1876.6L1776.3 1875.9L1769.6 1870.6L1761.3 1869.2L1749.7 1865.9L1749.7 1861.6L1759.6 1858.3L1754.6 1854.9L1761.3 1849.9L1756.3 1844.9L1763 1839.9L1769.6 1834.9L1778 1831.6L1771.3 1825L1774.6 1820L1766.3 1821.6L1768 1816.6L1766.3 1809.3L1758 1809.3L1749.7 1806.6L1744.7 1808.3L1746.3 1817.3L1741.3 1816L1733 1810L1729.7 1802.6L1723 1806L1713.7 1804L1713.7 1804.5L1714.7 1794.5L1723.1 1789.5L1726.4 1781.2L1725.7 1771.2L1724.7 1759.5L1718.1 1756.2L1714.7 1746.2L1711.4 1736.2L1713.1 1726.2L1708.1 1719.6L1704.8 1712.9L1711.4 1704.6L1705.8 1699.6L1699.8 1694.6L1698.1 1704.6L1693.1 1701.3L1689.8 1692.9L1681.4 1696.3L1678.1 1692.9L1682.4 1686.3L1680.4 1683L1673.1 1687.9L1666.5 1689.6L1669.8 1697.9L1666.5 1706.3L1656.5 1707.9L1654.8 1716.3L1653.8 1726.2L1649.8 1716.3L1643.2 1712.9L1648.1 1716.3L1646.5 1722.9L1641.5 1724.6L1633.2 1721.2L1626.5 1714.6L1620.7 1712.3L1619.9 1700.6L1620.7 1690.6L1619 1680.6L1614 1668.9L1612.3 1655.5L1610.7 1643.8L1604 1638.8L1600.7 1632.1L1602.3 1625.4L1605.7 1617.1L1604.8 1607.1L1602.3 1597L1594 1593.7L1587.3 1587.8L1581.4 1584.5L1575.6 1588.7L1567.2 1598.7L1558.9 1606.2L1548.9 1610.4L1538.8 1606.2L1528.8 1598.7L1520.5 1590.4L1512.1 1578.7L1507.9 1572L1507.9 1563.6L1511.3 1562L1513.8 1568.6L1514.6 1562.8L1520.5 1563.6L1532.2 1565L1543.9 1564.5L1548.9 1562L1549.7 1553.6L1545.5 1543.6L1540.5 1536.9L1539.7 1530.2L1543 1528.5L1543.9 1535.2L1548 1538.6L1553.9 1536.9L1555.5 1530.2L1551.4 1520.2L1553 1515.2L1557.2 1511.8L1548.9 1508.5L1542.2 1498.5L1537.2 1488.4L1534.7 1478.4L1528.8 1474.2L1517.1 1475.9L1507.1 1473.4L1502.9 1466.7L1503.8 1456.7L1500.4 1451.4L1492.1 1442.2L1482 1435.5L1474.5 1428.8L1473.7 1423.8L1477.9 1420.5L1475.4 1418.8L1476.2 1414.6L1482 1413L1487.1 1415.5L1492.1 1412.1L1498.8 1407.1L1502.1 1402.1L1500.4 1396.2L1502.9 1387.1L1505.4 1380.4L1512.1 1381.2L1517.1 1375.4L1523 1368.7L1527.2 1367L1530.5 1365.3L1533.8 1357L1537.2 1349.5L1528.8 1343.3L1525.5 1343.6L1520.5 1348.6L1513.8 1357L1508.8 1362L1505.4 1362L1499.6 1366.2L1493.7 1362.8L1488.7 1365.3L1482 1371.2L1477 1367L1472 1369.5L1463.7 1372.9L1462 1378.7L1458.7 1385.4L1450.3 1395.4L1442.8 1397.1L1441.1 1393.7L1435.3 1388.7L1430.3 1377L1424.9 1370.4L1423.6 1367L1415.2 1355.3L1408.5 1343.6L1420.2 1335.3L1433.6 1326.1L1435.3 1321.9L1448.6 1313.6L1463.7 1310.2L1470.4 1303.5L1477 1293.5L1481.2 1293.5L1487.1 1297.7L1489.6 1293.5L1503.8 1286.8L1524.6 1273.5L1522.5 1264.8Z" fill="#dde1ea"/>
<path d="M950.5 1852.9L963.1 1852.9L976.5 1854.5L982.4 1861.2L981.4 1869.5L978.1 1874.5L989.8 1879.5L1003.1 1877.9L1019.7 1874.5L1031.4 1866.2L1026.4 1856.2L1023.1 1839.6L1018.1 1822.9L1023.1 1816.3L1036.4 1812.9L1038.1 1802.9L1046.4 1804.6L1053 1806.3L1059.7 1802.9L1069.7 1812.9L1079.7 1826.2L1093 1832.9L1103 1829.6L1113 1827.9L1121.3 1829.6L1123 1833.6L1128 1842.9L1129.6 1856.2L1130.3 1872.9L1128 1886.2L1126.3 1902.8L1128 1916.2L1131.3 1919.5L1129 1932.8L1130.3 1949.5L1128 1959.4L1123 1966.1L1118 1967.8L1116.4 1978.3L1118.1 1984.9L1109.7 1987.2L1104.7 2014.9L1116.4 2014.9L1121.4 2018.2L1127 2033.2L1131.4 2045.5L1119.1 2084.8L1103.1 2078.2L1088.1 2073.2L1079.8 2068.2L1070.4 2059.2L1087.1 2044.9L1078.1 2029.9L1069.8 2026.5L1063.1 2022.5L1049.8 2028.2L1042.5 2038.2L1045.8 2046.5L1039.8 2053.8L1029.8 2060.5L1016.5 2062.5L1013.8 2056.5L1009.8 2044.9L1004.8 2031.5L988.2 2041.5L981.5 2038.2L976.5 2033.2L972.5 2034.9L973.2 2043.2L968.2 2046.5L954.9 2048.2L945.9 2044.9L949.9 2036.5L946.6 2026.5L956.6 2023.2L961.5 2013.2L959.9 1999.9L953.2 1991.6L956.6 1983.3L946.6 1976.6L939.8 1969.4L934.8 1962.8L936.5 1952.8L941.5 1946.1L938.2 1936.1L939.8 1926.1L944.8 1919.5L942.5 1912.8L941.5 1899.5L948.1 1892.8L951.5 1879.5L953.1 1866.2L950.5 1852.9Z" fill="#aaa7ce"/>
<path d="M1123 1833.6L1136.3 1832.9L1147.9 1832.2L1152.9 1826.2L1147.9 1814.6L1146.3 1804.6L1148.9 1789.6L1146.3 1779.6L1156.3 1776.3L1164.6 1781.3L1172.9 1783L1177.9 1773L1179.6 1763L1192.9 1754.6L1206.2 1746.3L1207.9 1756.3L1214.5 1758L1222.9 1764.6L1232.9 1774.6L1242.9 1776.3L1246.2 1786.3L1252.8 1787.9L1261.2 1794.6L1264.5 1801.3L1271.2 1792.9L1274.5 1776.3L1284.5 1769.6L1292.8 1758L1302.8 1758L1309.5 1764.6L1316.1 1773L1314.4 1781.3L1309.5 1784.6L1314.4 1792.9L1319.4 1801.3L1327.8 1807.9L1319.4 1811.3L1322.8 1817.9L1316.1 1824.6L1324.4 1829.6L1327.8 1839.6L1332.8 1847.9L1339.4 1859.5L1341.1 1871.2L1356.1 1869.5L1372.7 1867.9L1387.7 1870.2L1389.4 1879.5L1387.7 1884.5L1391 1892.8L1392 1909.5L1392.7 1926.1L1393.4 1941.1L1394.7 1948.1L1380.8 1948.8L1380.8 1957.2L1375.9 1959.9L1352.9 1960.6L1350.1 1962L1354.3 1952.3L1339.7 1925.4L1323.6 1925.1L1325.7 1927.9L1320.9 1933.5L1323.6 1936.2L1314.6 1941.8L1315.3 1946L1295.1 1958.6L1300.6 1968.3L1285.3 1976.7L1286 1979.5L1251.8 1998.3L1265.1 2014.3L1249.6 2019.2L1234.6 2022.5L1226.3 2019.9L1209.6 2011.6L1189.7 2001.6L1169.7 1989.9L1153 1981.6L1144.7 1979.9L1129.7 1981.6L1118.1 1984.9L1116.4 1978.3L1118 1967.8L1123 1966.1L1128 1959.4L1130.3 1949.5L1129 1932.8L1131.3 1919.5L1128 1916.2L1126.3 1902.8L1128 1886.2L1130.3 1872.9L1129.6 1856.2L1128 1842.9L1123 1833.6Z" fill="#aaa7ce"/>
<path d="M1265.1 2014.3L1251.8 1998.3L1286 1979.5L1285.3 1976.7L1300.6 1968.3L1295.1 1958.6L1315.3 1946L1314.6 1941.8L1323.6 1936.2L1320.9 1933.5L1325.7 1927.9L1323.6 1925.1L1339.7 1925.4L1354.3 1952.3L1350.1 1962L1347.3 1969.7L1373.8 1968.3L1373.8 1982.9L1322.3 1986.4L1327.1 1992L1329.2 2008.7L1340.4 2036.6L1351.5 2058.9L1359.9 2078.4L1361.3 2085.4L1359.9 2093.1L1354.3 2097.3L1346 2118.9L1339 2137L1338.8 2139.1L1306.2 2114.8L1219.6 2137.1L1223 2111.5L1216.3 2101.5L1293 2079.8L1288.1 2058.9L1283.2 2040.8L1274.9 2028.3L1265.1 2014.3Z" fill="#aaa7ce"/>
<path d="M945.9 2044.9L954.9 2048.2L968.2 2046.5L973.2 2043.2L972.5 2034.9L976.5 2033.2L981.5 2038.2L988.2 2041.5L1004.8 2031.5L1009.8 2044.9L1013.8 2056.5L1016.5 2062.5L1029.8 2060.5L1039.8 2053.8L1045.8 2046.5L1042.5 2038.2L1049.8 2028.2L1063.1 2022.5L1069.8 2026.5L1078.1 2029.9L1087.1 2044.9L1070.4 2059.2L1079.8 2068.2L1088.1 2073.2L1103.1 2078.2L1119.1 2084.8L1103.1 2082.5L1099.1 2096.5L1099.1 2121.4L1123.7 2121.4L1122.4 2163.1L1123.7 2194.7L1090.4 2198L1084.8 2211.4L1090.4 2223L1096.4 2238L1098.1 2249.7L1099 2261.7L1083.1 2256.3L1069.8 2251.3L1065.8 2253L1063.8 2264.6L1061.4 2276.3L1056.5 2287.9L1046.5 2287.9L1043.8 2279.6L1039.8 2273.6L1033.1 2276.3L1026.5 2274.6L1022.5 2264.6L1018.2 2258L1009.8 2259.6L1003.2 2253L999.2 2246.3L994.8 2241.3L989.9 2233L984.9 2239.7L978.2 2243L973.2 2248L963.2 2250.3L956.6 2259.6L953.2 2269.6L939.9 2272.3L923.3 2270.3L906.6 2270.3L890 2269.6L891.6 2263L894.9 2253L893.3 2239.7L894.9 2228L901.6 2219.7L893.3 2211.4L898.3 2204.7L891.6 2199.7L886.6 2191.4L880 2184.7L883.3 2176.4L881.6 2166.4L886.6 2163.1L894.9 2161.4L901.6 2154.7L893.3 2149.8L898.3 2146.4L899.9 2134.8L904.9 2124.8L911.6 2123.1L914.9 2129.8L921.6 2128.1L919.9 2119.8L928.2 2113.1L934.9 2104.8L933.2 2099.8L924.9 2093.1L923.3 2081.5L929.9 2073.2L926.6 2066.5L933.2 2059.8L939.9 2049.9L945.9 2044.9Z" fill="#aaa7ce"/>
<path d="M1118.1 1984.9L1129.7 1981.6L1144.7 1979.9L1153 1981.6L1169.7 1989.9L1189.7 2001.6L1209.6 2011.6L1226.3 2019.9L1234.6 2022.5L1249.6 2019.2L1265.1 2014.3L1274.9 2028.3L1283.2 2040.8L1288.1 2058.9L1293 2079.8L1216.3 2101.5L1223 2111.5L1219.6 2137.1L1306.2 2114.8L1338.8 2139.1L1366.8 2163.1L1322.2 2223L1340.2 2266.3L1297.9 2274.6L1316.9 2352.2L1262.6 2364.7L1247.1 2301.2L1210.3 2310.2L1227 2375.8L1153.5 2393.6L1150.8 2377.5L1138 2378.1L1138 2385.8L1114.6 2386.4L1106.8 2370.8L1146.9 2369.2L1141.3 2333.5L1134.6 2339.1L1134.6 2344.7L1129.1 2346.9L1105.7 2346.9L1095.7 2322.4L1103.5 2323L1106.8 2325.7L1117.9 2325.2L1117.9 2317.9L1133.5 2311.3L1126.8 2302.4L1127.9 2286.2L1102.9 2291.8L1089 2277.9L1107.9 2272.3L1099 2261.7L1098.1 2249.7L1096.4 2238L1090.4 2223L1084.8 2211.4L1090.4 2198L1123.7 2194.7L1122.4 2163.1L1123.7 2121.4L1099.1 2121.4L1099.1 2096.5L1103.1 2082.5L1119.1 2084.8L1131.4 2045.5L1127 2033.2L1121.4 2018.2L1116.4 2014.9L1104.7 2014.9L1109.7 1987.2L1118.1 1984.9Z" fill="#65689c"/>
<path d="M1366.8 2163.1L1322.2 2223L1340.2 2266.3L1402.8 2190.7L1366.8 2163.1Z" fill="#aaa7ce"/>
<path d="M1340.2 2266.3L1297.9 2274.6L1316.9 2352.2L1357.8 2342.2L1373.5 2305.6L1340.2 2266.3Z" fill="#aaa7ce"/>
<path d="M1095.7 2322.4L1085.1 2296.8L1067.8 2295.7L1066.7 2330.2L1063.9 2346.9L1066.2 2380.3L1068.4 2403.7L1071.2 2417L1080.1 2417L1081.4 2428.2L1058.1 2437.2L1041.4 2444.9L1042.4 2450.5L1035.7 2452.5L1040.4 2471.5L1048.1 2469.9L1049.1 2493.8L1074.7 2483.8L1080.4 2485.8L1081.4 2508.2L1114.7 2506.5L1118 2523.1L1116.3 2526.5L1124.7 2536.5L1129 2546.5L1129.7 2553.8L1133.6 2555.8L1137 2562.4L1143 2560.4L1150.3 2560.4L1154.6 2556.4L1151.3 2543.1L1148 2533.1L1144.6 2526.5L1146.3 2523.8L1168.9 2529.8L1216.2 2518.1L1211.2 2490.5L1256.2 2476.5L1246.2 2435.9L1238.9 2402.6L1242.9 2398.3L1237.9 2380.6L1250.2 2377.3L1249.5 2368.3L1262.6 2364.7L1247.1 2301.2L1210.3 2310.2L1227 2375.8L1153.5 2393.6L1150.8 2377.5L1138 2378.1L1138 2385.8L1114.6 2386.4L1106.8 2370.8L1146.9 2369.2L1141.3 2333.5L1134.6 2339.1L1134.6 2344.7L1129.1 2346.9L1105.7 2346.9L1095.7 2322.4Z" fill="#aaa7ce"/>
<path d="M890 2269.6L906.6 2270.3L923.3 2270.3L939.9 2272.3L953.2 2269.6L956.6 2259.6L963.2 2250.3L973.2 2248L978.2 2243L984.9 2239.7L989.9 2233L994.8 2241.3L999.2 2246.3L1003.2 2253L1009.8 2259.6L1018.2 2258L1022.5 2264.6L1026.5 2274.6L1033.1 2276.3L1039.8 2273.6L1043.8 2279.6L1046.5 2287.9L1056.5 2287.9L1061.4 2276.3L1063.8 2264.6L1065.8 2253L1069.8 2251.3L1083.1 2256.3L1099 2261.7L1107.9 2272.3L1089 2277.9L1102.9 2291.8L1127.9 2286.2L1126.8 2302.4L1133.5 2311.3L1117.9 2317.9L1117.9 2325.2L1106.8 2325.7L1103.5 2323L1095.7 2322.4L1085.1 2296.8L1067.8 2295.7L1066.7 2330.2L1063.9 2346.9L1066.2 2380.3L1068.4 2403.7L1071.2 2417L1080.1 2417L1081.4 2428.2L1058.1 2437.2L1041.4 2444.9L1042.4 2450.5L1035.7 2452.5L1040.4 2471.5L1048.1 2469.9L1049.1 2493.8L1074.7 2483.8L1080.4 2485.8L1081.4 2508.2L1114.7 2506.5L1118 2523.1L1116.3 2526.5L1124.7 2536.5L1129 2546.5L1129.7 2553.8L1121.3 2556.4L1113 2553.8L1109 2567.1L1105.7 2581.4L1101.3 2589.7L1093.7 2598.1L1092.4 2603.1L1094.7 2611.4L1111.3 2608.1L1129 2675.7L1101.3 2683.6L1114 2740.3L1068 2751.2L1060.4 2751.2L1059.7 2727.9L997.1 2704.6L973.1 2727.9L961.5 2746.3L951.5 2766.9L946.5 2767.9L939.2 2764.6L933.8 2762.2L929.2 2752.9L926.5 2742.9L919.9 2739.6L915.9 2734.6L919.2 2731.3L916.5 2724.6L921.5 2722.9L919.2 2717.9L921.5 2709.6L916.5 2703L917.2 2696.3L913.2 2693L916.5 2684.6L911.5 2688L908.2 2683.6L901.5 2685.6L894.9 2683L893.2 2676.3L888.2 2671.3L879.9 2663L878.2 2658L883.2 2649L891.6 2642.4L896.6 2644.7L903.2 2643L908.2 2644.7L909.9 2638L914.9 2631.4L923.2 2626.4L918.2 2623L919.9 2613.1L922.5 2604.7L919.9 2596.4L917.2 2583.1L919.9 2578.1L917.2 2568.1L918.2 2559.8L914.9 2556.4L911.5 2546.5L907.2 2538.1L909.2 2531.5L911.5 2522.5L901.5 2522.5L891.6 2514.8L889.2 2511.5L894.9 2509.8L893.2 2499.8L888.2 2494.8L889.2 2484.8L886.6 2476.5L888.2 2469.9L886.6 2459.9L896.6 2456.5L898.2 2443.9L889.9 2439.9L887.2 2429.9L890.6 2426.6L889.2 2419.9L893.2 2409.9L890.6 2399.9L888.2 2389.9L883.2 2380L880.6 2371.6L881.6 2363.3L878.2 2355L872.6 2345L876.6 2336.2L875 2322.9L878.3 2312.9L880 2304.6L873.3 2299.6L875 2291.3L881.6 2289.6L883.3 2283L885 2273L890 2269.6Z" fill="#8989b3"/>
<path d="M1109 2567.1L1059.1 2570.4L1058.1 2563.8L1050.4 2563.8L1049.7 2571.4L1039.7 2569.8L1038.1 2562.4L1016.4 2567.1L1014.8 2559.8L1008.1 2553.1L1006.4 2548.1L993.1 2549.8L1003.1 2599.1L998.1 2600.4L1010.4 2661.3L989.8 2665.7L997.1 2704.6L1059.7 2727.9L1060.4 2751.2L1068 2751.2L1114 2740.3L1101.3 2683.6L1129 2675.7L1111.3 2608.1L1094.7 2611.4L1092.4 2603.1L1093.7 2598.1L1101.3 2589.7L1105.7 2581.4L1109 2567.1Z" fill="#65689c"/>
<path d="M1094.7 2612.4L1111.3 2609.1L1126.3 2664.7L1084.7 2674.7L1081.4 2683L1079.7 2689L1073 2690.3L1069 2686.3L1067 2676.3L1069 2663L1071.4 2651.3L1069.7 2636.4L1068 2623L1094.7 2612.4Z" fill="#8989b3"/>
<path d="M1058.1 2438.2L1089.7 2426.6L1091.4 2431.6L1095.7 2431.6L1099 2447.2L1088 2450.5L1087 2453.9L1074.7 2458.2L1058.1 2438.2Z" fill="#65689c"/>
<path d="M1117 2464.9L1143 2458.2L1143.6 2465.9L1141.3 2467.2L1141.3 2483.8L1124.7 2491.5L1117 2464.9Z" fill="#65689c"/>
<path d="M1150.3 2459.2L1246.2 2435.9L1256.2 2476.5L1211.2 2490.5L1163 2501.5L1141.3 2500.5L1141.3 2484.8L1144.6 2476.5L1144.6 2466.5L1150.3 2465.9L1150.3 2459.2Z" fill="#65689c"/>
</g>
<g fill="none" stroke-width="3.4" stroke-linejoin="round" stroke-linecap="round">
<path stroke="#787e82" stroke-opacity="0.64" d="M407.3 504.9C407.3 504.9 405.9 512.5 404.7 516.5C403.8 519.6 401.3 521.9 401.3 524.9C401.3 527.6 402.8 529.6 404.7 531.5C407 533.8 410.1 534.6 413 536.5C416.7 539 423 543.8 423 543.8M423 543.8C423 543.8 422.9 548.8 423.6 551.5C424.5 555 427.1 558.4 427.3 561.5C427.4 563.8 426.2 565.6 424.6 567.2C422.7 569 419.6 568.4 418 570.5C416.3 572.7 416 575.3 416.3 578.1C416.6 581.3 419.3 583.3 419.6 586.5C419.9 589.5 417.4 591.8 418 594.8C418.8 598.7 422.6 602.5 423.6 605.8C424.2 607.7 424.4 609.9 423 611.4C421.2 613.4 417.8 614.7 414.6 615.8C411.7 616.8 409 617.8 406.3 617.1C403.9 616.5 403.3 613.2 401.3 612.4C399.6 611.7 397.8 612 396.3 613.1C394.3 614.6 392.3 617.8 391.3 619.8C390.8 620.9 392.4 622.8 391.3 623.1C389 623.8 383.9 623.4 379.7 623.1C376.1 622.8 372.8 623.3 369.7 621.4C366.4 619.4 364.4 616.7 363 613.1C361.3 608.8 362.7 604.1 361.4 599.8C360.4 596.5 359.4 593.3 356.4 591.5C352.7 589.3 347.4 589.3 343.1 588.8C340.1 588.5 337.2 588.1 334.7 589.1C332.6 589.9 331.6 591.9 330.4 593.8C328.4 596.9 326.6 601.3 324.7 604.8C323.4 607.2 321 608.7 320.7 611.4C320.4 613.9 322 615.8 323.1 618.1C324.6 621.1 327 623.1 328.1 626.4C329.4 630.4 329.7 633.8 329.7 638.1C329.7 643.4 329.4 648.4 328.1 653.1C327.1 656.5 325.5 658.9 323.1 661.4C320.6 664 317.9 665.3 314.7 667.1C310.7 669.3 306 669.9 303.1 672.4C301 674.3 301.2 677 300.4 679.7C299.2 683.5 297.1 691.4 297.1 691.4M423 543.8C423 543.8 431.6 538.2 436.3 534.9C440.5 532 444.2 528.2 447.9 526.5C450.1 525.5 452.4 525.6 454.6 526.5C458.9 528.2 465.1 532.9 469.6 534.9C472.1 536 475.6 534.2 476.9 536.5C478.2 538.8 476.7 542.9 476.3 546.5C475.9 550.7 476.3 555.5 474.6 558.2C473.3 560.3 469.9 559.1 467.9 559.8C466.6 560.2 464.1 560.2 464.6 561.5C465.1 562.8 468.9 564.1 470.3 566.5C471.8 569.2 472.4 571.7 472.3 574.8C472.2 578.8 469.5 582.2 469.6 586.5C469.7 590.8 470.7 594.3 472.9 598.1C475.4 602.3 478.6 604.8 482.2 608.1C486.4 612 490.1 615.1 494.6 618.1C497.9 620.3 500.7 622 504.6 623.1C509.2 624.4 513.1 624 517.9 624.8C524.4 625.9 536.9 628.8 536.9 628.8M536.9 628.8C536.9 628.8 537.5 618.7 538.5 613.1C539.4 608.2 540.5 604.5 542.2 599.8C543.5 596.1 546.3 593.1 546.8 589.8C547.1 587.3 545.8 584.8 544.5 583.1C543.5 581.8 540.7 583.1 540.2 581.5C539.5 579.2 539.7 574.2 541.2 571.5C542.5 569.2 546.6 570.6 547.8 568.2C549.8 564.2 549.5 556 551.2 551.5C552.2 548.9 553.9 547.3 556.2 545.8C558.5 544.2 563.2 544.4 563.5 543.2C563.8 542 558.4 542.2 557.8 539.9C556.8 536.2 557.5 528.6 558.5 524.9C559 523 560.9 522.2 562.8 521.5C566 520.4 570.2 518.9 574.5 519.2C578.7 519.5 581.8 521.5 585.5 523.2C588.3 524.5 590 527 592.8 527.5C595.2 528 597 525.5 599.5 525.9C602.8 526.4 606.2 530.8 609.5 529.9C612.8 529 613.4 524 616.1 521.5C618.2 519.6 620.2 518.6 622.8 517.5C625.7 516.2 628.5 516.7 631.1 514.9C634.8 512.4 637.8 506.2 641.1 504.9C643.6 503.9 645.4 506.8 647.7 508.2C651.4 510.4 655.1 513.2 659.4 515.9C664.7 519.2 669 521.6 674.4 524.9C679.2 527.8 684.2 532.2 687.7 533.2C689.6 533.7 691.7 531.8 692 529.9C692.3 527.9 688.6 525.5 689.4 523.2C690.2 520.9 693.9 520.3 696 518.2C699.7 514.5 703.4 509.2 707.7 504.9C711 501.6 713.5 498.6 717.7 496.6C721.5 494.8 725.1 495.2 729.3 494.9C732.7 494.6 738.7 494.9 738.7 494.9M536.9 628.8C536.9 628.8 537.3 635.4 539.5 638.1C542 641.1 545.9 641.6 549.5 643.7C553.1 645.8 557 647.2 559.5 649.7C561.3 651.5 562.5 654.3 562.2 656.4C561.9 658.5 558.3 658.3 557.8 660.4C557.3 662.5 560.8 665.1 559.5 667.1C558.2 669.1 553.5 668.5 551.2 670.4C549.3 671.9 548.1 673.9 547.8 676.4C547.5 679.6 548.6 682.9 549.5 686.4C550.4 690.1 552 692.7 552.8 696.4C553.8 701.1 553.8 704.9 554.5 709.7C555.2 714.8 556.8 723.7 556.8 723.7M374.7 842.9C374.7 842.9 383.5 839.1 388 836.2C393.7 832.5 399.9 828.6 403 824.6C404.9 822.2 404.2 819.2 403.7 816.2C403.2 813.3 399.2 811.6 400.3 808.9C401.5 806.1 407.5 805.8 409.7 802.3C411.8 798.9 409.6 794.2 411.3 791.3C412.7 789 415.8 789.5 418 787.9C420.7 785.9 422 783.4 424.6 781.3C428.6 778 434.5 772.3 438 771.3C440.3 770.7 440.3 775.1 442.3 776.3C445.6 778.3 450.5 778.8 454.6 781.3C459.3 784.2 462.6 788.6 466.3 791.3C468.4 792.9 470.7 796 472.9 794.6C475.7 792.8 477.5 785.8 480.2 782.3C481.9 780 484 778 486.2 776.9C487.8 776.1 489.7 775.9 491.2 776.9C493.2 778.2 494.2 782.1 496.2 783.6C497.7 784.7 499.5 785.4 501.2 784.6C504.2 783.1 507.8 779.5 511.2 776.3C515.1 772.6 517 768.6 521.2 765.3C524.9 762.3 528.9 760.5 532.9 759C535.7 758 538.4 759.2 541.2 758C545.5 756.1 551.5 753.3 554.5 749.6C556.8 746.8 555.9 743.3 556.2 739.7C556.7 734.5 556.8 723.7 556.8 723.7M556.8 723.7C556.8 723.7 563.2 727 566.2 729.7C570.1 733.2 572.2 738 576.2 741.3C579.3 743.9 582.3 745 586.1 746.3C589.6 747.5 592.5 748.7 596.1 748C600.8 747.1 604.8 743 609.5 742C613 741.2 616.2 741.4 619.4 743C623.7 745.2 628.3 750.5 631.1 753C632 753.8 633.4 755.6 633.4 755.6M753 517.9C753 517.9 749.9 521 747.9 522.3C745.7 523.8 743.3 524.1 741.3 525.7C739.7 526.9 738.8 528.3 737.9 530.1C736.8 532.3 736.5 534.4 735.7 536.8C734.9 539.2 734.8 541.5 733.5 543.5C732.4 545.2 730.9 546.3 729 546.8C726.4 547.5 723.7 546.6 720.7 546.8C718 547 715.5 547.1 713.4 547.9C711.9 548.4 710.7 549.3 710.1 550.7C709.4 552.3 709.4 554.4 710.1 555.7C710.7 556.9 712.1 557.2 713.4 557.4C716.1 557.7 719.9 557.6 723.5 557.4C726.3 557.2 729 556 731.2 556.3C732.8 556.5 733.6 557.8 734.6 559.1C735.7 560.5 735.4 562.5 736.8 563.5C738.4 564.6 740.3 564.6 742.4 564.6C745.1 564.6 747.4 563.5 750.2 563.5C752.6 563.5 754.9 563.5 756.8 564.6C758.4 565.6 758.7 567.4 759.6 569.1C760.4 570.6 760.5 572 761.3 573.5C762.1 575 762.6 576.6 764.1 577.4C766.1 578.4 768.8 577.8 771.3 578.5C773.4 579.1 775.6 579.6 776.9 580.8C778 581.8 778.2 583.3 778 584.7C777.8 586.3 777.3 587.9 775.8 588.6C773.6 589.6 770.1 589.4 766.9 589.7C763.3 590 759.9 589.4 756.8 590.2C754.5 590.8 753.1 592.1 751.3 593.6C749.1 595.4 747.8 597.2 745.7 599.1C743.8 600.8 742.5 602.4 740.2 603.6C737.3 605.1 731.2 606.4 731.2 606.4M633.4 755.6C633.4 755.6 640.3 756.8 642.8 756.3C644.4 756 646.2 754.7 646.1 753C646 749.7 644.4 744 642.1 739.7C640.2 736.1 637.5 733.9 634.4 731.3C631.7 729.1 628.4 728.6 626.1 726.3C624.2 724.4 622.6 722.3 622.8 719.7C623.1 715.4 625.1 709.7 627.8 704.7C630.6 699.4 633.8 695.7 637.8 691.4C641 688 644.4 684.7 647.7 683C649.9 681.9 652.4 684.3 654.4 683C656.4 681.7 657.2 679 657.7 676.4C658.4 672.7 656.7 668 657.7 664.7C658.4 662.3 661.7 662.1 662.7 659.7C664 656.4 663.1 652.1 664.4 648.1C665.8 643.9 667.4 640.7 670.1 637.1C672.9 633.4 676.9 631.6 679.4 628.1C681.3 625.5 680.5 622.2 682.7 619.8C685.4 616.9 688.8 615.3 692.7 613.8C698 611.8 703.3 611 709.4 609.8C717.1 608.3 731.2 606.4 731.2 606.4M731.2 606.4C731.2 606.4 731.7 611.1 732.4 613.6C733.3 616.8 734.3 619.4 735.7 622.5C737.1 625.8 738.4 628.3 740.2 631.4C742 634.7 743.5 637.3 745.7 640.3C747.9 643.3 749.5 646.8 752.4 648.1C755 649.3 757.6 648 760.2 647C762.9 646 764.5 643.8 766.9 642.5C768.8 641.5 770.3 640.3 772.4 640.3C774.6 640.3 776.3 641.2 778 642.5C780 644.1 780.7 646.3 782.5 648.1C784.7 650.3 786.2 653 789.1 653.7C791.9 654.4 794.4 651.3 796.9 651.5C798.9 651.7 800.3 653.1 801.4 654.8C802.7 656.8 802.1 659.5 803.6 661.5C805.3 663.8 807.6 664.8 810 666.4C813.6 668.7 818.2 669.7 821.6 673.1C825 676.5 826.1 680.4 828.3 684.7C830.9 690 831.6 695.7 834.9 699.7C837.5 702.8 842.8 701.3 844.9 704.7C847.4 708.7 846.6 714.4 847.3 719.7C847.8 723.9 847.5 727.2 848.3 731.3C849 735 852.3 738.3 851.6 741.3C850.9 744.2 847.7 745.2 844.9 746.3C840.6 748 835.2 748 829.9 749.6C825.6 751 821.3 751.6 818.3 754.6C815.6 757.3 817.7 762 815 764.6C811.9 767.6 804.9 767.3 802.6 769.6C800.9 771.3 801.9 774.3 803.3 776.3C805.4 779.3 810.7 780.7 813.3 784.6C815.7 788.2 815.3 793.2 816.6 796.3C817.3 798 820 800.3 820 800.3M1064.7 695.7C1064.7 695.7 1072.2 694.6 1076.4 694.7C1081.2 694.8 1085.1 695.1 1089.7 696.4C1093.6 697.5 1096.1 699.5 1099.7 701.4C1104.4 703.9 1108.1 706.4 1113 708.7C1118.3 711.2 1123.3 712.2 1128 714.7C1131.4 716.5 1135 717.7 1136.3 721.3C1137.6 725 1136.3 730 1134.6 733C1133.3 735.3 1130.2 736.6 1128 736.3C1125.8 736 1125.4 732.3 1123.6 731.3C1122.2 730.5 1119 731.3 1119 731.3M820 800.3L866.6 799.6C866.6 799.6 868.2 802.8 869.9 802.9C875.9 803.2 887.8 801.6 896.5 801.3C902.5 801.1 908.2 800.6 913.2 801.3C916.4 801.7 918.3 804.9 921.5 804.6C925.5 804.3 929.7 802.6 933.2 799.6C936.6 796.7 936.2 791.7 939.8 788.9C944.1 785.6 950.1 781.4 954.8 782.9C959.5 784.4 960.1 794.2 963.1 796.3C965.2 797.8 967.2 793.9 969.8 793.6C973.1 793.3 977.1 793.1 979.8 794.6C982.1 795.9 980.4 800.9 983.1 801.3C987.1 802 993.8 799.1 999.8 797.9C1006.4 796.6 1013.1 793.6 1018.1 794.6C1021.8 795.4 1022.2 800 1024.7 802.9C1027 805.5 1029.1 808.8 1031.4 809.6C1033.3 810.3 1035.7 808.8 1036.4 806.9C1037.3 804.6 1035.2 801.1 1035.7 797.9C1036.2 794.1 1040 790.6 1039.1 787.9C1038.2 785.2 1032.9 786.1 1031.4 784.6C1030.3 783.5 1030 781 1031.4 780.3C1034.4 778.6 1041.3 778.6 1046.4 776.3C1052.7 773.5 1057 769.8 1063 766.3C1068.3 763.2 1073.7 762 1078 758C1081.6 754.7 1082.6 750.7 1084.7 746.3C1086.6 742.3 1086.3 736 1089 734.7C1091.7 733.4 1094.3 739.5 1098 739.7C1102.8 740 1108.8 738 1113 736.3C1115.6 735.3 1119 731.3 1119 731.3M1119 731.3C1119 731.3 1117.8 739 1116.3 743C1115 746.3 1113.6 748.7 1111.3 751.3C1109.3 753.5 1107.5 755.2 1104.7 756.3C1101.4 757.6 1097.6 756 1094.7 758C1091.9 759.9 1091.7 763.2 1090.3 766.3C1088.5 770.3 1086.6 773.9 1085.7 777.9C1085 780.8 1084.6 783.8 1085.7 786.3C1086.7 788.6 1089 789.4 1091.3 790.3C1094.4 791.5 1098 792.8 1101.3 792.3C1104.2 791.9 1106.3 790.2 1108 787.9C1110.3 784.7 1111.7 780.7 1113 776.3C1114.5 771.4 1114 765.5 1115.7 762.3C1116.7 760.4 1119.2 759.8 1121.3 760.3C1124.8 761.1 1128.7 765 1133 766.3C1136.4 767.4 1139.4 767.2 1143 767C1148.3 766.7 1153.9 764.6 1159.6 764.6C1163.9 764.6 1168 765.3 1171.3 767C1173.8 768.3 1175.5 770.3 1176.3 773C1177.3 776.5 1175.1 780.6 1176.3 784.6C1177.6 788.7 1180.2 791.3 1182.9 794.6C1185.6 797.9 1187.6 800.7 1191.2 802.9C1194.7 805 1202.2 806.3 1202.2 806.3M1202.2 806.3C1202.2 806.3 1206.8 799.9 1209.6 797.9C1211.6 796.5 1213.9 795.6 1216.2 796.3C1218.5 797 1220.2 798.9 1221.2 801.3C1222.5 804.6 1221.1 809.1 1222.9 812.9C1224.9 817.1 1227.8 819.7 1231.2 822.9C1235.1 826.6 1240.2 828.9 1242.9 832.2C1244.6 834.3 1245.1 836.9 1244.5 839.6C1243.7 843.4 1239.6 847.1 1238.9 851.2C1238.4 854.5 1238.8 857.9 1241.2 860.2C1244 862.9 1248.6 863.3 1252.9 864.5C1258.6 866 1263.7 866.2 1269.5 867.9C1277.8 870.4 1294.5 876.8 1294.5 876.8M1202.2 806.3C1202.2 806.3 1201.8 813.5 1199.6 816.2C1197.5 818.7 1194.4 818.9 1191.2 819.6C1188.3 820.2 1185.5 818.1 1182.9 819.6C1179.6 821.5 1178.1 826.1 1174.6 828.9C1171.4 831.5 1167.4 831.5 1164.6 834.6C1161.5 838 1160.2 841.7 1158.9 846.2C1157.7 850.3 1158.1 853.7 1157.9 857.9C1157.7 862.7 1160.2 867.4 1157.9 871.2C1155.6 875 1150.5 874.8 1146.3 876.8C1142.1 878.8 1137.6 879.7 1134.6 882.2C1132.4 884.1 1133.3 887.4 1131.3 889.5C1129.5 891.5 1126.9 893.5 1124.6 892.8C1122.3 892.1 1122 887.9 1119.7 886.2C1117.7 884.8 1114.8 886.3 1113 884.5C1110.3 881.8 1109 874.9 1106.3 872.9C1104.3 871.4 1102.1 874.7 1099.7 874.5C1096.4 874.2 1093.4 871.2 1089.7 871.2C1086.5 871.2 1084.6 874.2 1081.4 874.5C1077.8 874.8 1074.8 871.7 1071.4 872.9C1067.7 874.2 1066.3 878.5 1063 881.2C1059.7 883.9 1056.7 885.5 1053.1 887.8C1050.1 889.7 1046.9 890 1044.7 892.8C1042.4 895.8 1042.7 899.2 1041.4 902.8C1040.3 905.8 1040 908.5 1038.1 911.1C1036.3 913.5 1034 914.5 1031.4 916.1C1029.1 917.5 1026.3 917.3 1024.7 919.5C1022.7 922.2 1022.1 925.8 1021.4 929.5C1020.6 933.6 1019.7 938.1 1020.4 941.1C1020.8 943 1023.4 945.4 1024.7 944.4C1026 943.4 1026.1 938.8 1027.1 936.1C1027.8 934.2 1027.8 931.1 1029.7 931.1C1031.6 931.1 1033.4 935.8 1036.4 936.1C1039.7 936.4 1042.6 933.3 1046.4 932.8C1051.4 932.1 1057.3 929.3 1061.4 932.8C1066.1 936.8 1066.7 945.7 1069.7 952.8C1072.1 958.3 1074.8 962.3 1076.4 968.1C1078.7 976.5 1081 994.9 1081 994.9M633.4 755.6C633.4 755.6 628.1 762.1 626.1 766.3C624.2 770.2 624.7 774.6 622.8 777.9C621.4 780.4 618.2 780.4 616.8 782.9C615.3 785.6 616.7 788.5 615.4 791.3C614.2 794.1 610.6 795.2 610.1 797.9C609.6 800.5 611.3 802.5 612.8 804.6C615 807.6 619.2 810.2 621.1 812.9C622.2 814.4 623.3 816.5 622.1 817.9C620.1 820.2 612.3 821.9 611.1 824.6C609.9 827.3 614.1 829 616.1 831.2C619.1 834.5 621.6 838.9 626.1 841.2C630.4 843.4 634.6 842.1 639.4 842.9C645.4 843.9 650.1 845.1 656.1 846.2C661.8 847.3 669.3 846.6 672.1 848.9C674.6 851 670 854.6 670.1 857.9C670.2 861 671.2 863.9 672.7 866.2C673.9 868 676.7 867.6 677.7 869.5C678.7 871.5 676.3 874.2 677.7 876.2C679.4 878.5 683.1 879.3 686 881.2C689.1 883.1 691.8 884.3 694.4 886.8C696.9 889.2 699.2 891.9 700 894.5C700.6 896.5 697.5 898.1 698.4 900C699.4 902.1 703.4 902.5 705.1 905C706.6 907.3 704.8 910.5 706.7 912.5C709.2 915.1 713.2 918.5 717.6 918C722.3 917.5 725.4 912.5 730.1 910C734.5 907.7 739 905.1 742.7 904.6C745 904.3 747.6 905.3 748.5 907.5C749.5 909.9 746.7 914.6 747.7 916.7C748.6 918.6 752.5 916.1 753.5 918C754.7 920.2 752.3 924.5 753.5 927.6C754.6 930.4 759.4 933.4 759.4 933.4M759.4 933.4C759.4 933.4 762.9 935 763.5 936.8C764.5 940 764.4 949.3 764.4 949.3M759.4 933.4C759.4 933.4 759.8 928.1 760.2 925.1C760.7 921.4 760.9 918.5 761.9 915C762.7 912.2 763.3 909.7 765.2 907.5C767 905.3 769.4 904.3 771.9 903.3C773.9 902.5 776 901.8 777.7 902.5C779.3 903.2 779.1 905.4 780.3 906.7C781.6 908.1 782.5 909.8 784.4 910C786.4 910.2 788.3 908.7 790.3 907.5C793.6 905.5 797.4 902.9 801.1 900C805.7 896.4 810.2 893.6 813.3 889.5C815.6 886.5 815.4 883.1 816.6 879.5C817.8 875.9 820 869.5 820 869.5M820 800.3C820 800.3 818.7 810.5 819.3 816.2C819.9 821.2 821.2 825 823.3 829.6C825.7 834.7 828.9 838.6 831.6 842.9C833.4 845.9 837.9 848 836.6 851.2C835.3 854.5 828.2 855.8 824.9 859.5C822.2 862.5 820 869.5 820 869.5M820 869.5C820 869.5 826.9 864.2 829.9 866.2C832.9 868.2 834.2 875.5 834.9 879.5C835.3 881.9 832.7 883.8 833.3 886.2C834.3 890.2 837.2 897.2 839.9 899.5C841.8 901.1 845.3 896.1 846.6 897.8C847.9 899.5 844.7 904.7 846.6 907.8C849.3 912.1 855 915.4 859.9 919.5C865.2 923.8 868.9 931.2 874.9 931.1C880.9 931 885.2 916.5 889.9 918.8C894.6 921.1 895.9 933.9 898.2 942.8C900.1 950.4 895.9 960 901.5 964.4C907.1 968.8 917.3 964.2 926.1 965C933.4 965.6 946.1 968.3 946.1 968.3C946.1 968.3 937.5 973.5 932.8 976.6C928.5 979.5 923.4 982.3 921.1 985C919.9 986.4 919.4 989.7 921.1 990C922.8 990.3 926.2 986.6 929.5 986.6C933.2 986.6 936.5 987.6 939.4 990C942.7 992.7 942.4 997.9 946.1 999.9C949.8 1001.9 953.7 998.8 957.8 999.9C963.8 1001.6 969.8 1005 976.1 1008.3C981.1 1010.9 984.4 1014.1 989.4 1016.6C994 1018.9 998.7 1019.5 1002.7 1021.6C1005.5 1023.1 1007.1 1025.9 1009.4 1027.2C1011 1028.1 1014.4 1028.2 1014.4 1028.2M433.3 982.6C433.3 982.6 437.2 980.4 438.3 978.3C439.6 975.8 437.9 972.3 439.9 970C442.2 967.3 447.6 967.7 449.9 965C451.9 962.7 451.9 959.7 451.6 956.7C451.3 953 446.7 948.8 448.3 946.7C449.9 944.6 456.8 949.1 459.6 946.1C462.9 942.7 462.3 935 464.6 929.5C466.4 925.3 468.2 920.7 471.3 918.8C474.1 917.1 477 920.5 480.2 920.1C483.2 919.7 484.9 916.6 487.9 916.8C491.1 917 493.4 919.2 496.2 921.1C499.7 923.5 501.9 929.8 505.6 928.8C509.3 927.8 511.3 920.6 514.5 916.1C517.5 911.9 520.7 907.7 522.9 904.5C523.9 903 523.7 900.2 525.5 900.2C528.2 900.2 532.3 903.2 536.2 904.5C540.3 905.9 543.8 907.6 547.8 907.8C550.9 908 553.1 905.5 556.2 905.5C560.2 905.5 564.3 905.4 567.8 907.8C571.4 910.2 571.2 915.6 574.5 917.8C577.5 919.8 581.1 920.1 584.5 918.8C588.5 917.3 591.2 911.3 594.5 910.1C596.9 909.2 599.2 911.1 601.1 912.8C604.4 915.7 608.1 921 611.1 924.5C612.9 926.5 613.5 929.3 616.1 930.1C619.8 931.2 625 931.9 629.4 930.1C635.4 927.6 640.1 922.1 646.1 917.8C650.8 914.5 655.1 909.5 659.4 908.8C663 908.3 664.5 913 667.7 914.5C670.3 915.7 673.6 913.9 675.4 916.1C677.4 918.6 675.6 923.4 677.7 926.8C680.2 930.8 684.3 932.5 687.7 936.1C690.9 939.5 693.1 942.4 696 946.1C698.8 949.6 703.4 956 703.4 956M703.4 956C703.4 956 701.6 958.6 700.9 960.2C699.8 962.5 698 967.7 698 967.7M496.6 1119.8C496.6 1119.8 507.2 1112.4 513.2 1108.2C519.2 1104 523.9 1100.7 529.9 1096.5C537.9 1090.8 546.5 1083.6 553.2 1079.9C556.4 1078.1 559.9 1079.5 563.2 1078.2C566 1077.1 566.8 1073.6 569.8 1073.2C573.1 1072.7 576.3 1074.6 579.8 1075.9C584.5 1077.6 588.4 1080.2 593.1 1081.5C596.6 1082.5 599.5 1083.1 603.1 1082.5C607 1081.9 610.1 1080.4 613.1 1078.2C615.5 1076.4 617.8 1074.2 618.1 1071.5C618.4 1068.9 615.9 1067.3 614.8 1064.9C613.5 1062 611.4 1059.8 611.4 1056.6C611.4 1052.3 612.9 1047.8 614.8 1043.2C617.1 1037.5 620 1033.5 623.1 1028.2C626 1023.3 628.4 1018.9 631.4 1014.9C633.4 1012.2 635.8 1009.3 638.1 1008.3C639.8 1007.6 641.8 1008.6 643.1 1009.9C644.8 1011.6 644.8 1014.5 646.4 1016.6C647.8 1018.4 649.2 1020 651.4 1020.6C654.1 1021.3 656.9 1020.9 659.7 1019.9C664 1018.4 669.3 1016.6 673 1013.3C676 1010.6 675.8 1006.7 678 1003.3C680.2 999.9 683.1 998 685 994.4C687.6 989.6 688.4 984.6 690.9 979.4C693.1 975 698 967.7 698 967.7M703.4 956C703.4 956 709.4 962 713.4 964.3C716.7 966.2 720.4 966.4 723.4 967.7C725.4 968.6 727.5 969.1 728.5 971C729.7 973.2 728.3 976.2 729.3 978.5C730.1 980.5 731.7 981.5 733.5 982.7C735.1 983.7 736.6 984.3 738.5 984.4C740.8 984.5 743.4 984.4 745.2 983.1C746.9 981.8 746.5 979.4 747.7 977.7C748.6 976.3 751 976.1 751 974.4C751 972.6 748.4 970.7 747.7 968.5C747.2 966.8 747.9 965.3 747.7 963.5C747.5 962 746.3 960.8 746.8 959.3C747.5 957.5 749.2 955.8 751 954.3C752.9 952.8 754.6 951.9 756.9 951C759.5 950 764.4 949.3 764.4 949.3M764.4 949.3C764.4 949.3 767.1 950.9 768.6 951.8C770.6 953 772.2 954.2 774.4 955.1C776.7 956 778.8 957 781.1 956.8C783.1 956.7 784.6 955.6 786.1 954.3C787.4 953.1 788.3 951.6 788.6 950.1C788.9 948.9 787.4 948 787.8 946.8C788.3 945.1 789.6 943 791.1 941.8C792.3 940.8 794 940.7 795.3 940.9C796.4 941 796.8 942.9 797.8 942.6C798.8 942.3 799.3 940.4 800.3 939.3C801.8 937.6 803.5 935.7 805.3 934.3C806.6 933.3 807.8 932.2 809.5 932.2C811.2 932.2 812.4 933.3 813.7 934.3C816.2 936.2 818.9 939.2 822 941.8C824.9 944.3 827.7 946.3 830.4 948.5C832.2 950 834.2 951.1 835.4 952.6C836.2 953.6 836.6 954.8 836.2 956C835.7 957.7 834.3 959.4 832.9 961C831.1 963.2 829 964.6 827 966.8C825.1 968.8 823.8 970.7 822 972.7C820.6 974.3 819.5 975.8 817.8 976.9C816.5 977.7 815.2 978.4 813.7 978.1C811.9 977.8 810.3 976.6 808.7 975.2C806.7 973.4 805.4 971.4 803.6 969.3C801.8 967.2 800.1 964.9 798.6 963.5C797.9 962.8 797.1 962.1 796.1 962.2C794.8 962.4 792.8 962.9 791.9 964.3C791 965.7 791.2 967.5 791.5 969.3C791.8 971.5 793 973 793.6 975.2C794.1 977 794.5 978.4 794.5 980.2C794.5 982.3 794.8 984.7 793.6 986C792.4 987.3 789.9 985.7 788.6 986.9C787.3 988.1 787.8 990.2 786.9 991.9C785.9 993.8 785.1 995.7 783.6 996.9C782.4 997.8 780.9 997.7 779.4 997.7C777.6 997.7 776.2 996.6 774.4 996.9C772.5 997.2 769.8 999.4 769.8 999.4M769.8 999.4C769.8 999.4 765.6 999.5 763.5 999.8C762 1000 760.7 1000.3 759.4 1001.1C757.9 1002 757.3 1004.1 756 1004.4C754.7 1004.7 754 1003.2 752.7 1002.8C751.5 1002.4 750.5 1001.9 749.3 1002.3C748 1002.8 747.6 1004.9 746 1005.3C744.3 1005.7 742.8 1004.7 741 1004.4C739.5 1004.1 738.3 1003.6 736.8 1003.6C735 1003.6 733.3 1004.7 731.8 1004.4C730.6 1004.2 729.5 1003.5 729.3 1002.3C729.1 1001.1 729.9 999.6 731 998.6C732.3 997.4 735.3 997.4 736 996.1C736.7 994.8 735.2 993.3 734.3 991.9C733.1 990.1 731.8 988.6 730.1 986.9C728.4 985.2 727.1 984 725.1 982.7C722.8 981.2 720.9 980.4 718.4 979.4C716.1 978.5 714.1 978.1 711.7 977.3C709.3 976.5 707.4 976.3 705.1 975.2C703.1 974.3 701.5 973.3 700.1 971.8C699 970.6 698 967.7 698 967.7M769.8 999.4C769.8 999.4 772.4 1001.9 773.6 1003.6C774.7 1005.3 775.9 1006.8 776.1 1008.6C776.2 1010.2 775.6 1011.6 774.4 1012.8C772.9 1014.3 770.5 1014.7 768.6 1016.1C766.9 1017.4 765.2 1018.5 764.4 1020.3C763.7 1021.9 764.1 1023.5 764.4 1025.3C764.9 1028 766.2 1031.4 766.9 1033.7C767.2 1034.8 767.5 1035.6 767.9 1036.6C768.8 1039.2 768.6 1044.5 771.3 1046.6C774 1048.7 778.2 1045.9 781.3 1047.2C784 1048.4 785.7 1050.5 786.9 1053.2C788.4 1056.7 787 1061.2 788.9 1064.9C790.5 1068.1 793.3 1069.5 796.3 1071.5C799.6 1073.7 803.7 1073.8 806.2 1076.5C808.4 1078.8 809.2 1081.9 808.9 1084.9C808.6 1087.7 807 1090 804.6 1091.5C801.7 1093.3 798.2 1093.1 794.6 1093.8C791.6 1094.3 788.2 1092.4 786.3 1094.8C784.3 1097.3 785.2 1102.3 784.6 1106.5C783.9 1111.3 784.6 1115.7 782.9 1119.8C781.6 1123.1 779.5 1125.5 776.3 1127.1C772.3 1129.1 767.3 1128.7 763 1129.8C759.9 1130.6 756.7 1130.5 754.6 1132.5C752.6 1134.4 752.3 1137 752.3 1139.8C752.3 1143.6 752.8 1147.6 754.6 1151.5C756.2 1155 759 1157.6 761.3 1159.8C762.8 1161.2 764.3 1162.5 766.3 1162.4C768.5 1162.3 769.8 1158.8 772.3 1159.1C775 1159.4 776.7 1162.8 779.6 1163.8C783.4 1165.1 788.3 1164.6 791.3 1165.8C793 1166.5 794.4 1167.9 794.6 1169.8C795.1 1173.3 794.9 1179.1 793.6 1183.1C792.6 1186.1 790.3 1187.7 787.9 1189.8C784.8 1192.6 777.9 1197.1 777.9 1197.1M777.9 1197.1C777.9 1197.1 770.4 1197.4 766.3 1196.4C761.9 1195.3 758.1 1192.4 754.6 1191.4C752.7 1190.8 749.8 1189.6 749 1191.4C747.7 1194.4 748.2 1201 748 1206.4C747.8 1212.4 748.3 1218.4 748 1223.1C747.8 1225.5 748.2 1228.1 746.3 1229.7C744.3 1231.4 740.8 1230.3 738 1231.4C734.8 1232.7 732.4 1236.7 729.7 1236.4C727 1236.1 726.4 1231.6 724.7 1229.7C723.7 1228.5 722.6 1226.2 721.3 1227C719.6 1228 718.3 1232.8 716.3 1234.7C714.9 1236 713.2 1236.4 711.3 1236.4C708.3 1236.4 704.3 1235.7 701.3 1234.7C699.3 1234 698.5 1231.1 696.4 1231.4C694.1 1231.7 692.6 1235.6 689.7 1236.4C686.4 1237.3 683.3 1236 679.7 1235.7C676.1 1235.4 672.5 1233.6 669.7 1234.7C667.1 1235.8 667 1238.9 665.7 1241.4C664.6 1243.4 665.1 1246.1 663.1 1247C659.2 1248.8 652.1 1249.2 646.4 1250.4C642.2 1251.3 637.2 1250.5 634.7 1253C632.2 1255.5 635.4 1260 633.7 1263C632.2 1265.8 629.3 1266.6 626.4 1268C621.6 1270.3 615.9 1272.6 609.8 1274.7C603.9 1276.8 598.4 1278.4 593.1 1279.7C589.6 1280.6 583.1 1281.3 583.1 1281.3M777.9 1197.1C777.9 1197.1 776 1203.7 776.3 1206.4C776.5 1208.3 777.8 1210.8 779.6 1210.4C782.3 1209.7 785.7 1205.3 789.6 1203.1C793.6 1200.8 797.2 1198.4 801.2 1198.1C804.4 1197.8 806.4 1200.7 809.6 1201.4C813.9 1202.4 818.9 1201.1 822.9 1203.1C826.3 1204.8 827.8 1208 829.6 1211.4C831.9 1215.7 832.5 1220.4 834.5 1224.7C836 1227.9 837.7 1231.7 839.5 1233C840.7 1233.9 843.1 1232.9 843.5 1231.4C844.2 1228.7 843 1223.9 842.9 1219.7C842.8 1216.1 840.9 1212.4 842.9 1209.7C844.9 1207 849.6 1207.2 852.9 1206.4C855.2 1205.8 857.8 1204.5 859.5 1205.7C861.2 1206.9 859.1 1211.1 861.2 1212.4C863.9 1214 868.6 1213.4 872.8 1213.7C878.8 1214.2 891.2 1214.7 891.2 1214.7M891.2 1214.7C891.2 1214.7 892.2 1205.1 892.2 1199.7C892.2 1191.4 891.7 1182.4 891.2 1173.1C890.8 1165.9 889.5 1160.3 889.5 1153.1C889.5 1144.7 890 1137.5 891.2 1129.8C892.1 1124.3 893.7 1117.8 895.5 1114.8C896.3 1113.4 899.2 1113.4 900.1 1114.8C901.9 1117.5 903 1125 904.5 1128.1C905.1 1129.4 906.5 1131.2 907.8 1130.5C910.1 1129.2 912.4 1122.6 916.1 1121.5C919.7 1120.4 922.4 1124 926.1 1124.8C931.4 1125.9 936.7 1126.8 942.8 1127.1C950.8 1127.6 957.7 1126.4 966.1 1127.1C973.4 1127.7 979.4 1129.3 986.1 1130.5C990.9 1131.4 996.1 1135.2 999.4 1133.1C1002.7 1131 1001.7 1124.6 1002.7 1119.8C1004 1113.1 1004.8 1106.1 1006 1099.8C1006.8 1095.6 1006.7 1090.3 1008.7 1088.2C1010.5 1086.3 1013.5 1088.3 1016 1089.2C1019.1 1090.3 1023.4 1095.7 1024.4 1093.8C1025.4 1091.9 1022.3 1084.9 1021 1079.9C1019.9 1075.7 1017.7 1072.6 1017.7 1068.2C1017.7 1063.3 1020.8 1059.8 1021 1054.9C1021.2 1049.4 1020 1045.2 1018.7 1039.9C1017.6 1035.5 1014.4 1028.2 1014.4 1028.2M1014.4 1028.2C1014.4 1028.2 1020.5 1024.4 1024.4 1023.3C1029 1022 1032.9 1022.1 1037.7 1021.6C1044 1020.9 1051.3 1021.9 1056 1019.9C1059.2 1018.5 1058.6 1014.2 1061 1011.6C1065 1007.3 1072 1001.6 1076 998.3C1077.7 996.9 1081 994.9 1081 994.9M891.2 1214.7C891.2 1214.7 898.8 1218.9 902.8 1221.4C905.9 1223.3 911.1 1227 911.1 1227M911.1 1227C911.1 1227 913.9 1222.6 916.1 1223.1C918.4 1223.6 919.6 1228.7 922.8 1229.7C928.8 1231.6 937.8 1231 946.1 1232.4C953.4 1233.6 959 1234.9 966.1 1237C972.2 1238.8 977.4 1241.9 982.7 1243C986.2 1243.7 989.4 1241.9 992.7 1242.4C995.4 1242.8 996.8 1246.5 999.4 1245.7C1002.1 1244.8 1003.3 1239.7 1006 1238C1008 1236.7 1010.3 1236.4 1012.7 1237C1017.4 1238.1 1023.6 1240.9 1029.4 1243.7C1034.4 1246.1 1038 1249.2 1042.7 1251.4C1046.1 1253 1050.4 1255 1052.7 1254.7C1054.6 1254.4 1054.7 1251.5 1054.3 1249.7C1053.6 1246.7 1049 1242.4 1049.3 1239.7C1049.6 1237 1053.3 1236.8 1056 1236.4C1061.1 1235.6 1075 1235.7 1075 1235.7M911.1 1227C911.1 1227 913.7 1235 914.5 1239.7C915.3 1244.4 915.8 1248.2 915.5 1253C915.2 1259 913.7 1263.7 912.8 1269.7C912.1 1274.5 913.8 1279.7 911.1 1283C908.4 1286.3 903.2 1284.6 899.5 1286.3C896.8 1287.5 894.7 1288.9 892.8 1291.3C890.5 1294.3 889.1 1297.6 887.8 1301.3C886.8 1304.2 888.5 1307.9 886.2 1309.6C883.9 1311.3 879.7 1309 876.2 1309.6C872.5 1310.2 869.8 1311.9 866.2 1313C862 1314.3 856.5 1314.6 854.5 1316.3C853 1317.5 854.8 1320.1 856.2 1321.3C858.5 1323.3 864.1 1324.3 866.2 1326.3C867.5 1327.5 867.7 1329.7 866.8 1331.3C865.8 1333 861.7 1332.3 861.2 1334.6C860.7 1336.9 862.5 1340.9 864.5 1342.9C866.3 1344.7 868.8 1345.1 871.2 1344.6C874.2 1343.9 876.8 1339.9 879.5 1339.6C881.6 1339.3 884.5 1341 884.5 1342.9C884.5 1344.8 882 1347.6 879.5 1348.9C876.2 1350.6 872 1350.3 867.8 1351.3C863.6 1352.3 859.5 1352.6 856.2 1354.6C853.6 1356.1 853.3 1359.1 851.2 1361.2C848.2 1364.2 843.5 1367.4 841.2 1369.6C840.4 1370.4 839.5 1372.2 839.5 1372.2M839.5 1372.2C839.5 1372.2 841.9 1378.5 844.5 1381.2C847.5 1384.3 851.5 1385.2 854.5 1387.9C856.7 1389.9 857 1392.9 859.5 1394.5C862.8 1396.7 867.6 1396.2 871.2 1398.9C875.1 1401.8 875.6 1406.7 879.5 1409.5C883.6 1412.5 888.5 1411.8 892.8 1414.5C896.4 1416.7 898.1 1419.9 901.1 1422.9C903.5 1425.3 904.6 1428.5 907.8 1429.5C911.5 1430.7 915.3 1428.3 919.5 1428.8C924.4 1429.3 928 1430.9 932.8 1432.2C937.6 1433.5 941.3 1434.7 946.1 1436.2C951.5 1437.9 961.1 1441.2 961.1 1441.2M1294.5 876.8C1294.5 876.8 1311.2 878.7 1319.5 881.2C1325.9 883.2 1331.1 886.2 1336.1 889.5C1339.6 891.8 1342.6 894 1344.4 897.8C1346.3 901.8 1346 905.6 1345.7 910C1345.5 913.7 1344.7 916.6 1343.1 920C1341.3 923.9 1338.7 926.3 1336.4 930C1334.1 933.5 1332.1 936.1 1330.4 940C1328.7 944 1327.5 947.3 1327.1 951.6C1326.6 956.9 1328.2 961.2 1328.1 966.6C1328 971.4 1327.7 975.3 1326.4 979.9C1325.3 983.8 1322.9 986.2 1321.4 989.9C1319.9 993.4 1318.4 996.2 1318.1 999.9C1317.8 1002.9 1318.9 1005.3 1319.7 1008.2C1321 1012.9 1323 1017.8 1324.7 1023.2C1326.6 1029.2 1327.8 1033.9 1329.7 1039.9C1331.4 1045.3 1333.7 1050.1 1334.7 1054.8C1335.3 1057.8 1335.3 1060.2 1334.7 1063.2C1334.1 1066.4 1332.2 1068.4 1331.4 1071.5C1330.4 1075 1329.1 1077.9 1329.7 1081.5C1330.3 1084.9 1332.6 1087 1334.7 1089.8C1337.4 1093.5 1340.2 1096.1 1343.1 1099.8C1345.4 1102.7 1347.4 1104.8 1349 1108.1C1350.4 1110.9 1351.1 1113.4 1351.4 1116.5C1351.9 1121.5 1351.8 1127.1 1351.4 1133.1C1351 1139.4 1349 1150.4 1349 1150.4M1349 1150.4C1349 1150.4 1350.8 1155.9 1353 1158.1C1356.5 1161.6 1361.5 1164.6 1366.4 1168.1C1371.7 1171.8 1376 1174.4 1381.3 1178.1C1385.6 1181.2 1389.1 1183.4 1393 1187C1396.9 1190.6 1400.7 1194.5 1403 1198C1404.4 1200.1 1405.2 1202.3 1404.7 1204.7C1404 1207.7 1401.8 1210.2 1399.7 1213C1397 1216.7 1394.3 1219.4 1391.3 1223C1388.3 1226.6 1384.6 1229.8 1383 1233C1382 1235 1383.5 1239.2 1383.5 1239.2M1383.5 1239.2C1383.5 1239.2 1387.8 1243 1390.2 1245.1C1393.5 1247.9 1396.7 1250.2 1400.2 1253.4C1404 1256.8 1406.5 1260 1410.2 1263.4C1413.7 1266.6 1416.9 1268.5 1420.2 1271.8C1423.5 1275.1 1426.4 1277.8 1428.6 1281.8C1430.4 1285.1 1430.4 1288.7 1431.1 1291.8C1431.5 1293.7 1430.2 1296.2 1431.9 1297.2C1434.1 1298.5 1438.3 1298.6 1442 1298.5C1446.2 1298.4 1449.6 1298 1453.6 1296.8C1457.5 1295.6 1460.2 1293.9 1463.7 1291.8C1466.6 1290 1468.9 1287 1471.2 1286C1472.6 1285.4 1473.9 1286.4 1475.4 1286.8C1477.2 1287.3 1478.6 1289.2 1480.4 1288.5C1483.1 1287.5 1486 1284.5 1488.7 1281.8C1492 1278.5 1494.6 1275 1497.1 1271.8C1498.7 1269.8 1499.6 1266.9 1501.3 1265.9C1502.6 1265.1 1504 1266.3 1505.4 1266.8C1506.7 1267.2 1507.5 1268.6 1508.8 1268.4C1512.2 1268 1522.5 1264.8 1522.5 1264.8M1522.5 1264.8C1522.5 1264.8 1526.7 1271 1524.6 1273.5C1520.9 1277.9 1510.8 1282.8 1503.8 1286.8C1498.9 1289.6 1492.9 1291.3 1489.6 1293.5C1488.1 1294.5 1488.8 1297.7 1487.1 1297.7C1485.4 1297.7 1483.2 1294.3 1481.2 1293.5C1479.8 1292.9 1478.1 1292.5 1477 1293.5C1474.8 1295.5 1473.1 1300.2 1470.4 1303.5C1468.3 1306.2 1466.8 1308.8 1463.7 1310.2C1459.3 1312.2 1453.8 1311.5 1448.6 1313.6C1443.4 1315.7 1438.3 1319.4 1435.3 1321.9C1434 1322.9 1434.8 1325 1433.6 1326.1C1430.6 1328.8 1425 1332 1420.2 1335.3C1416 1338.3 1409.5 1339.6 1408.5 1343.6C1407.5 1347.6 1412.6 1351.2 1415.2 1355.3C1418 1359.7 1421.7 1364 1423.6 1367C1424.3 1368.1 1424.9 1370.4 1424.9 1370.4M1383.5 1239.2C1383.5 1239.2 1380.8 1245 1378.5 1246.7C1376.5 1248.1 1373.5 1246.3 1371.8 1247.6C1370.1 1248.9 1371.2 1251.5 1370.1 1253.4C1367.8 1257.6 1362.6 1266.4 1360.1 1268.4C1358.5 1269.7 1357.8 1265.4 1357.6 1263.4C1357.3 1260.6 1359 1257.5 1358.4 1254.2C1357.7 1250.7 1355.5 1245.3 1354.2 1245.1C1352.9 1244.9 1351.8 1250.3 1351.7 1253.4C1351.5 1258.1 1354.4 1265.1 1353.4 1268.4C1352.7 1270.8 1349.1 1269.7 1346.7 1270.1C1344 1270.6 1340.5 1269.7 1339.2 1271C1337.9 1272.3 1338.8 1275.5 1340 1276.8C1341.2 1278.1 1343.2 1277.6 1345.1 1277.6C1347.4 1277.6 1350.4 1275 1351.7 1276.8C1353 1278.6 1351.3 1283.2 1351.7 1286.8C1352.2 1290.5 1352.9 1293.3 1354.2 1296.8C1356 1301.8 1360.9 1311.9 1360.9 1311.9M1360.9 1311.9C1360.9 1311.9 1366.9 1317.1 1370.1 1320.2C1373.8 1323.7 1376.9 1326.3 1380.1 1330.3C1382.7 1333.6 1384.8 1336.3 1386 1340.3C1387.2 1344.3 1387.5 1347.8 1386.8 1352C1386 1356.5 1383.1 1360 1381.8 1363.7C1380.9 1366 1379.3 1368.1 1380.1 1370.4C1380.9 1372.7 1384.7 1372.9 1386 1375.4C1387.5 1378.4 1386.9 1382.6 1387.7 1385.4C1388.2 1387.1 1388.6 1388.9 1390.2 1389.6C1392.4 1390.5 1395.8 1390.9 1398.5 1390.1C1400.9 1389.4 1401.5 1386.9 1403.5 1385.4C1405.8 1383.7 1409.2 1382.7 1410.2 1381.2C1410.9 1380.1 1409.6 1378.6 1408.5 1377.9C1407.2 1377.1 1403.5 1377 1403.5 1377C1403.5 1377 1407.6 1374.5 1410.2 1373.7C1413.5 1372.6 1417.3 1372.4 1420.2 1371.7C1421.9 1371.3 1424.9 1370.4 1424.9 1370.4M1424.9 1370.4C1424.9 1370.4 1428.8 1374.3 1430.3 1377C1432.4 1380.7 1433.1 1385.4 1435.3 1388.7C1436.8 1391 1439.6 1392 1441.1 1393.7C1442 1394.7 1442.8 1397.1 1442.8 1397.1M1442.8 1397.1C1442.8 1397.1 1448.1 1397 1450.3 1395.4C1453.5 1393.1 1456.4 1388.7 1458.7 1385.4C1460.2 1383.2 1461 1381.2 1462 1378.7C1462.8 1376.7 1462.1 1374.4 1463.7 1372.9C1465.7 1371.1 1469.3 1370.7 1472 1369.5C1473.8 1368.7 1475 1366.7 1477 1367C1479 1367.3 1479.7 1371.5 1482 1371.2C1484.3 1370.9 1486.4 1367 1488.7 1365.3C1490.3 1364.1 1491.7 1362.6 1493.7 1362.8C1495.9 1363 1497.3 1366.4 1499.6 1366.2C1501.9 1366 1503.6 1362.8 1505.4 1362C1506.5 1361.5 1507.7 1362.6 1508.8 1362C1510.5 1361 1512.1 1358.9 1513.8 1357C1516.1 1354.3 1518.2 1351.3 1520.5 1348.6C1522.2 1346.7 1523.8 1344.7 1525.5 1343.6C1526.5 1343 1527.7 1342.8 1528.8 1343.3C1531.1 1344.5 1536.2 1346.8 1537.2 1349.5C1538.2 1352.2 1535 1354.3 1533.8 1357C1532.5 1360 1531.8 1363.3 1530.5 1365.3C1529.8 1366.4 1528.4 1366.4 1527.2 1367C1525.7 1367.7 1524.3 1367.7 1523 1368.7C1521 1370.4 1519.2 1373 1517.1 1375.4C1515.3 1377.5 1514.4 1380.2 1512.1 1381.2C1509.9 1382.2 1507.2 1379.2 1505.4 1380.4C1503.6 1381.6 1503.7 1384.6 1502.9 1387.1C1501.9 1390.3 1500.6 1393.2 1500.4 1396.2C1500.3 1398.4 1502.4 1399.9 1502.1 1402.1C1501.8 1404.2 1500.3 1405.6 1498.8 1407.1C1496.8 1409.1 1494.4 1410.4 1492.1 1412.1C1490.3 1413.4 1489.1 1415.3 1487.1 1415.5C1485.1 1415.7 1484 1413.2 1482 1413C1479.8 1412.8 1477.5 1413.4 1476.2 1414.6C1475 1415.6 1475.1 1417.6 1475.4 1418.8C1475.7 1419.8 1478.2 1419.5 1477.9 1420.5C1477.6 1421.5 1474.4 1422.1 1473.7 1423.8C1473 1425.5 1474.5 1428.8 1474.5 1428.8M1442.8 1397.1C1442.8 1397.1 1441.2 1401.4 1440.3 1403.8C1439.1 1407.1 1438.4 1410.3 1436.9 1413.8C1435.3 1417.5 1433.8 1420.3 1431.9 1423.8C1430.2 1426.9 1428.9 1429.3 1426.9 1432.2C1425.2 1434.7 1424.2 1437 1421.9 1438.8C1419.9 1440.4 1417.7 1440.6 1415.2 1441.3C1412.3 1442.1 1409.7 1441.7 1406.9 1443C1404.4 1444.2 1402.7 1445.8 1401 1448C1399.3 1450.4 1398.8 1452.8 1397.7 1455.5C1396.7 1457.9 1396.8 1460.2 1395.2 1462.2C1393.4 1464.5 1390.7 1465.2 1388.5 1467.2C1385.7 1469.8 1381 1475.1 1381 1475.1M1381 1475.1C1381 1475.1 1384.5 1480.6 1386.8 1483.4C1389 1486 1390.5 1488.5 1393.5 1490.1C1396.8 1491.9 1400.8 1491.9 1403.5 1492.6C1404.7 1492.9 1406.1 1492.5 1406.9 1493.5C1408.2 1495.2 1408.9 1498.9 1410.2 1501C1411.1 1502.3 1413.6 1503.8 1413.6 1503.8M1474.5 1428.8C1474.5 1428.8 1471.4 1429.2 1471.2 1430.5C1470.9 1432.5 1472.9 1435.8 1472.9 1438.8C1472.9 1441.3 1472 1443.7 1471.2 1445.5C1470.7 1446.7 1469.7 1448.3 1468.7 1448C1467.7 1447.7 1466.9 1445.5 1466.2 1443.9C1465.2 1441.7 1465.4 1439.1 1463.7 1437.2C1461.9 1435.2 1459.7 1434.1 1457 1433.8C1453.7 1433.5 1450.2 1434.7 1447 1435.5C1444.8 1436.1 1441.7 1435.8 1441.1 1438C1440.3 1441 1442 1446 1442.8 1450.5C1443.5 1454.2 1444.2 1457 1445.3 1460.6C1446.3 1463.7 1448.3 1465.9 1448.6 1468.9C1448.9 1471.4 1448.2 1473.8 1447 1475.6C1446.1 1477.1 1444.3 1479.1 1442.8 1478.1C1441.3 1477.1 1440.5 1473.3 1439.4 1470.6C1438.4 1468.2 1438.2 1464.7 1436.9 1463.9C1435.6 1463.1 1433.8 1465 1432.8 1466.4C1431.5 1468.4 1431.3 1471.2 1430.3 1473.9C1429.2 1477 1428.9 1479.7 1426.9 1482.3C1425.1 1484.7 1422.3 1485.1 1420.2 1487.3C1418.3 1489.2 1417.1 1491 1416.1 1493.5C1414.8 1496.8 1413.6 1503.8 1413.6 1503.8M1474.5 1428.8C1474.5 1428.8 1479.1 1433.3 1482 1435.5C1485.5 1438.1 1488.8 1439.3 1492.1 1442.2C1495.5 1445.1 1500.4 1451.4 1500.4 1451.4M1500.4 1451.4C1500.4 1451.4 1495.7 1462.3 1493.7 1466.7C1492.6 1469.1 1491.4 1470.9 1490.4 1473.4C1488.7 1477.7 1487.2 1483 1485.4 1488.4C1483.6 1493.8 1481.2 1498.1 1480.4 1503.5C1479.7 1507.7 1480.4 1511.1 1481.2 1515.2C1482.2 1520.1 1486.2 1524.2 1485.4 1528.5C1484.6 1532.7 1480.8 1534.9 1477 1536.9C1473.2 1539 1469 1539.2 1465.3 1539.4C1462.8 1539.5 1461.2 1537.6 1458.7 1537.7C1455.7 1537.9 1453.4 1539.4 1450.3 1540.2C1447.3 1540.9 1443.5 1540.2 1442 1541.9C1440.5 1543.6 1443.7 1546.3 1442.8 1548.6C1441.8 1551.3 1439.2 1553.1 1436.9 1555.3C1434.1 1557.9 1430.6 1559.7 1428.6 1562C1427.4 1563.4 1426.6 1565.1 1426.9 1567C1427.2 1569 1431 1570.3 1430.3 1572C1429.6 1573.7 1425.9 1575 1423.6 1575.3C1421.7 1575.6 1420.1 1572.9 1418.6 1573.6C1417.1 1574.3 1417.7 1577.4 1416.1 1578.7C1414.1 1580.4 1410.3 1583 1408.5 1582C1406.7 1581 1407.8 1576.5 1406.9 1573.6C1406 1570.5 1404.8 1568.2 1403.5 1565.3C1401.8 1561.6 1401.2 1558 1398.5 1555.3C1396.2 1553 1393.4 1552.4 1390.2 1551.9C1386.2 1551.2 1382.7 1552.1 1378.5 1551.9C1374.9 1551.8 1371.7 1552.7 1368.4 1551.1C1365.2 1549.5 1363.8 1545.8 1361.8 1543.6C1360.6 1542.3 1359.9 1540.2 1358.4 1540.2C1356.9 1540.2 1355 1541.8 1354.2 1543.6C1353.2 1545.9 1354.2 1549 1353.4 1551.9C1352.7 1554.5 1350.1 1555.9 1350.1 1558.6C1350.1 1561.6 1352.2 1564 1353.4 1567C1354.3 1569.4 1355.9 1573.6 1355.9 1573.6M1413.6 1503.8C1413.6 1503.8 1412.4 1506.8 1411 1506.8C1409 1506.7 1406.3 1504.3 1403.5 1503.5C1400 1502.5 1397.1 1502 1393.5 1501.8C1390.5 1501.7 1387.2 1501.3 1385.2 1502.6C1383.4 1503.8 1384.7 1506.6 1383.5 1508.5C1382.2 1510.7 1380.5 1513.2 1378.5 1513.5C1376.5 1513.8 1375.4 1511.2 1373.5 1510.2C1371.8 1509.3 1370.3 1508 1368.4 1508.5C1365.7 1509.2 1362.5 1510.9 1360.1 1513.5C1357.8 1516 1357.7 1519.9 1355.9 1521.9C1354.6 1523.3 1352.8 1523.7 1350.9 1523.5C1348.1 1523.2 1344.9 1520.5 1341.7 1520.2C1339.2 1520 1336.6 1520 1335 1521.9C1333.3 1523.9 1333.5 1527.2 1333.4 1530.2C1333.3 1533.2 1334.2 1535.6 1334.2 1538.6C1334.2 1542.2 1333 1545 1333.4 1548.6C1333.9 1552.9 1334.4 1556.6 1336.7 1560.3C1338.8 1563.8 1341.8 1565.5 1345.1 1567.8C1348.7 1570.3 1355.9 1573.6 1355.9 1573.6M1355.9 1573.6C1355.9 1573.6 1350.2 1574.7 1348.4 1577C1346.6 1579.3 1348.4 1582.8 1346.7 1585.3C1345.1 1587.7 1342 1587.5 1340 1589.5C1338.3 1591.2 1338 1593.3 1336.7 1595.4C1335.6 1597.2 1335 1598.9 1333.4 1600.4C1331.2 1602.4 1326.8 1603.7 1325.8 1605.4C1325 1606.7 1327.2 1607.8 1328.4 1608.7C1330.6 1610.4 1333.7 1611.9 1336.7 1613.7C1339.7 1615.5 1341.7 1617.8 1345.1 1618.8C1349.4 1620.1 1354.6 1619.4 1358.4 1620.4C1360.8 1621 1363.1 1621.7 1364.3 1623.8C1366 1626.8 1366.2 1631.2 1366.8 1635.5C1367.3 1639.1 1367.9 1641.9 1367.6 1645.5C1367.3 1648.6 1366.3 1651.5 1365.1 1653.8C1364.3 1655.3 1362.1 1655.5 1361.8 1657.2C1361.5 1658.9 1362.2 1660.7 1363.4 1662.2C1364.5 1663.6 1368.6 1663.3 1367.6 1664.7C1366.4 1666.4 1357.6 1670.5 1357.6 1670.5M1500.4 1451.4C1500.4 1451.4 1503.4 1454.5 1503.8 1456.7C1504.3 1459.8 1502.2 1463.4 1502.9 1466.7C1503.5 1469.5 1504.7 1471.9 1507.1 1473.4C1509.9 1475.2 1513.4 1475.8 1517.1 1475.9C1521.4 1476.1 1525.3 1473.7 1528.8 1474.2C1531.4 1474.6 1533.4 1476.2 1534.7 1478.4C1536.4 1481.2 1535.9 1484.9 1537.2 1488.4C1538.6 1492.2 1540.2 1495 1542.2 1498.5C1544.4 1502.2 1545.9 1505.8 1548.9 1508.5C1551.3 1510.6 1556.4 1510.5 1557.2 1511.8C1558 1513.1 1554.1 1513.6 1553 1515.2C1551.9 1516.8 1551.1 1518.3 1551.4 1520.2C1551.9 1523.2 1555 1526.9 1555.5 1530.2C1555.9 1532.7 1555.4 1535.2 1553.9 1536.9C1552.4 1538.5 1550 1538.9 1548 1538.6C1546.1 1538.3 1544.8 1536.9 1543.9 1535.2C1542.9 1533.2 1543.8 1529.5 1543 1528.5C1542.2 1527.5 1540.1 1528.9 1539.7 1530.2C1539.2 1531.9 1539.5 1534.7 1540.5 1536.9C1541.7 1539.6 1544 1541 1545.5 1543.6C1547.3 1546.9 1549 1549.9 1549.7 1553.6C1550.3 1556.6 1550.1 1559.8 1548.9 1562C1548 1563.8 1545.9 1564.1 1543.9 1564.5C1540.6 1565.1 1536.4 1565.2 1532.2 1565C1528 1564.8 1524 1564 1520.5 1563.6C1518.4 1563.3 1515.9 1561.8 1514.6 1562.8C1513.3 1563.8 1513.8 1568.6 1513.8 1568.6C1513.8 1568.6 1512.5 1563 1511.3 1562C1510.3 1561.1 1508.3 1562.3 1507.9 1563.6C1507.2 1565.6 1507.1 1569.1 1507.9 1572C1508.7 1574.7 1510.5 1576.4 1512.1 1578.7C1514.6 1582.4 1517.2 1586.4 1520.5 1590.4C1523.2 1593.6 1525.6 1595.9 1528.8 1598.7C1532.2 1601.6 1534.9 1603.9 1538.8 1606.2C1542.2 1608.2 1545 1610.4 1548.9 1610.4C1552.8 1610.4 1555.6 1608.3 1558.9 1606.2C1562.3 1604 1564.4 1601.6 1567.2 1598.7C1570.4 1595.3 1572.8 1591.5 1575.6 1588.7C1577.4 1586.9 1579.1 1584.7 1581.4 1584.5C1583.7 1584.3 1585.3 1586.4 1587.3 1587.8C1589.8 1589.6 1591.3 1592 1594 1593.7C1596.7 1595.4 1600.3 1594.5 1602.3 1597C1604.5 1599.7 1604.2 1603.4 1604.8 1607.1C1605.4 1610.7 1606.2 1613.5 1605.7 1617.1C1605.3 1620.3 1603.3 1622.4 1602.3 1625.4C1601.5 1627.8 1600.4 1629.6 1600.7 1632.1C1601 1634.8 1602.3 1636.8 1604 1638.8C1606 1641.1 1609.4 1641.1 1610.7 1643.8C1612.4 1647.1 1611.7 1651.3 1612.3 1655.5C1612.9 1660.3 1614 1668.9 1614 1668.9M1614 1668.9C1614 1668.9 1609.6 1671.7 1607.3 1671.4C1605 1671.1 1604.6 1667.7 1602.3 1667.2C1600 1666.7 1598.1 1669.3 1595.6 1668.9C1592.6 1668.4 1589.5 1663.7 1587.3 1664.7C1585.1 1665.7 1587.7 1672.1 1584.8 1673.9C1580.8 1676.4 1570.7 1675.2 1567.2 1677.2C1565.1 1678.4 1566.6 1681.6 1567.2 1683.9C1567.9 1686.5 1569.9 1688 1570.6 1690.6C1571.4 1693.9 1571.4 1700.6 1571.4 1700.6M1614 1668.9C1614 1668.9 1617.7 1676.3 1619 1680.6C1620.1 1684.1 1620.5 1687 1620.7 1690.6C1620.9 1694.2 1619.9 1697 1619.9 1700.6C1619.9 1704.8 1620.7 1712.3 1620.7 1712.3M1571.4 1700.6C1571.4 1700.6 1577.3 1701.4 1580.6 1701.4C1585.1 1701.4 1590 1699.4 1594 1700.6C1597.3 1701.6 1598.3 1704.9 1600.7 1707.3C1603.1 1709.7 1605.6 1711.1 1607.3 1714C1609.3 1717.3 1608.7 1722 1610.7 1724C1612.4 1725.7 1615.9 1725.9 1617.4 1724C1619.1 1722 1618.3 1716.3 1619 1714C1619.2 1713.2 1620.7 1712.3 1620.7 1712.3M1294.5 876.8C1294.5 876.8 1299.7 882.9 1302.8 886.2C1307.1 890.7 1313.1 895.8 1316.1 899.5C1317.3 901 1317.8 904.5 1317.8 904.5C1317.8 904.5 1313.8 900.7 1311.1 899.5C1308.3 898.3 1305.8 898.1 1302.8 897.8C1299.8 897.5 1296.8 896.5 1294.5 897.8C1292.2 899.1 1293 902.6 1291.1 904.5C1289.2 906.4 1286.4 905.9 1284.5 907.8C1282.6 909.7 1281.8 911.9 1281.2 914.5C1280.2 919.2 1281.8 928.1 1279.5 931.1C1277.3 934 1273.1 930.2 1269.5 929.5C1264.8 928.6 1259.7 925.5 1256.2 926.8C1252.8 928.1 1254 932.9 1252.2 936.1C1249.9 940.3 1248 944.5 1244.5 947.8C1241.6 950.6 1238.2 951.3 1234.5 952.8C1231 954.3 1228.2 955.5 1224.5 956.1C1221 956.7 1218.1 955.5 1214.6 956.1C1211.4 956.7 1208.1 957.3 1206.2 959.4C1204.4 961.3 1204.6 964 1204.9 966.6C1205.3 969.7 1207 971.9 1208.2 974.9C1209.9 979.2 1211.5 983.5 1213.2 988.2C1214.5 991.8 1216.8 995.7 1216.5 998.2C1216.2 1000.2 1213.4 1000 1211.5 1000.6C1208.2 1001.6 1202.6 1002 1199.9 1003.2C1198.7 1003.8 1197.5 1005.4 1198.2 1006.6C1199.2 1008.3 1204.9 1011.6 1204.9 1011.6C1204.9 1011.6 1201.6 1012.1 1199.9 1011.6C1197.6 1010.9 1194.8 1010.4 1193.2 1008.2C1191.5 1005.9 1193.5 1002.2 1191.5 999.9C1189.5 997.6 1186.1 998 1183.2 996.6C1180.1 995 1177.9 993.3 1174.9 991.6C1172.5 990.3 1170.5 989.5 1168.2 988.2C1166.3 987.1 1165.4 984.9 1163.2 984.9C1160.9 984.9 1158.2 986.1 1156.6 988.2C1154.6 990.9 1154.6 994.7 1153.2 998.2C1151.5 1002.5 1150.5 1006.2 1148.2 1009.9C1146.4 1012.8 1144.6 1015 1141.6 1016.6C1138.9 1018.1 1133.3 1018.2 1133.3 1018.2M1081 994.9C1081 994.9 1086.8 995.7 1090 996.6C1094.5 997.9 1098.7 999.4 1103.3 1001.6C1108.9 1004.2 1112.9 1006.9 1118.3 1009.9C1123.7 1012.9 1133.3 1018.2 1133.3 1018.2M1133.3 1018.2C1133.3 1018.2 1132.4 1023.6 1131.6 1026.5C1130.6 1030.2 1129.2 1032.8 1128.3 1036.5C1127.4 1040 1125.9 1043.2 1126.6 1046.5C1127.2 1049.5 1129 1051.7 1131.6 1053.2C1134.9 1055.2 1139 1055.9 1143.3 1056.5C1149 1057.3 1153.9 1056.9 1159.9 1057.2C1164.7 1057.5 1169.5 1057 1173.2 1058.2C1175.6 1059 1177.9 1060.7 1178.2 1063.2C1178.5 1065.9 1175.9 1068.8 1174.9 1071.5C1174.2 1073.3 1172.8 1074.6 1173.2 1076.5C1173.7 1078.7 1177.2 1082.5 1177.2 1082.5M1177.2 1082.5C1177.2 1082.5 1187.6 1090.2 1193.2 1094.8C1198.1 1098.8 1203.2 1102.2 1206.5 1106.5C1208.8 1109.5 1206.8 1114.3 1209.9 1116.5C1213.2 1118.8 1218.7 1116.5 1223.2 1118.1C1227.3 1119.6 1229.5 1122.5 1233.2 1124.8C1236.1 1126.7 1239 1129.5 1241.5 1129.8C1243.5 1130 1245.6 1128.4 1245.8 1126.4C1246.1 1123.4 1242.7 1116.8 1243.2 1114.8C1243.6 1113 1246.4 1115.7 1248.1 1116.5C1250 1117.5 1251 1119.6 1253.1 1119.8C1256.8 1120.1 1262.5 1120.1 1266.5 1118.1C1269.9 1116.4 1270.7 1112.8 1273.1 1109.8C1275.5 1106.8 1277.7 1102.8 1279.8 1101.5C1281.1 1100.7 1283.3 1101.8 1283.8 1103.1C1284.3 1104.4 1280.8 1107.1 1282.4 1108.1C1284.3 1109.3 1290 1107.6 1293.1 1109.1C1295.8 1110.4 1295.2 1115 1298.1 1115.8C1301.1 1116.6 1304.8 1111.6 1308.1 1113.1C1311.4 1114.6 1312.5 1119.4 1314.7 1123.1C1316.7 1126.6 1318.2 1129.3 1319.7 1133.1C1321.3 1137.2 1321.8 1141.5 1323.1 1144.8C1323.9 1146.8 1324.5 1148.7 1326.4 1149.8C1328.7 1151.1 1331.7 1151.3 1334.7 1151.4C1339.2 1151.5 1349 1150.4 1349 1150.4M1177.2 1082.5C1177.2 1082.5 1177.3 1093.6 1177.2 1099.8C1177.1 1107 1175.9 1113.1 1176.6 1119.8C1177.1 1124.8 1181.8 1128.8 1180.5 1133.1C1179.2 1137.4 1173.9 1138.6 1169.9 1141.4C1165.3 1144.6 1161.4 1146.9 1156.6 1149.8C1150.6 1153.4 1144.9 1157.4 1139.9 1159.7C1137.1 1161 1133.6 1160.1 1131.6 1161.4C1130 1162.5 1131.2 1165.1 1129.9 1166.4C1127.6 1168.7 1123.4 1170.6 1119.9 1173.1C1115.2 1176.4 1108.9 1179.1 1106.6 1183.1C1104.8 1186.2 1108.9 1189.4 1108.3 1193C1107.6 1197 1104.8 1199.3 1103.3 1203C1101.8 1206.5 1100.3 1209.7 1100 1213C1099.7 1215.5 1100.6 1217.4 1101.6 1219.7C1102.5 1221.7 1105.3 1222.7 1105 1224.7C1104.7 1226.7 1102.3 1228.7 1100 1229.7C1096.3 1231.4 1091.4 1231.8 1086.6 1233C1082.4 1234 1075 1235.7 1075 1235.7M1075 1235.7C1075 1235.7 1075.9 1244.7 1076.7 1249.7C1077.7 1255.7 1078 1260.5 1080 1266.3C1082.2 1272.6 1085 1277.7 1088.3 1283C1090.8 1286.9 1093.6 1290.6 1096.6 1292.9C1098.6 1294.4 1102.3 1296.6 1103.3 1294.6C1104.3 1292.6 1101.6 1283 1101.6 1283C1101.6 1283 1103.6 1289.4 1105 1292.9C1106.7 1297.2 1110.7 1300.3 1110 1304.6C1109.3 1308.9 1101.6 1314.6 1101.6 1314.6M961.1 1441.2C961.1 1441.2 959.4 1445.7 961.1 1446.2C964.1 1447.1 971.1 1446 976.1 1445.5C979.8 1445.1 983.1 1445.4 986.1 1443.5C988.8 1441.8 989.1 1437.8 991.1 1436.2C992.5 1435.1 994.4 1434.8 996.1 1435.5C998.1 1436.3 998.6 1440.1 1001 1440.2C1003.7 1440.3 1006.1 1436.8 1009.4 1436.2C1012.9 1435.5 1016.2 1438.5 1019.4 1436.8C1023.1 1434.8 1024 1428.7 1027.7 1426.2C1030.7 1424.2 1035.4 1426.8 1037.7 1424.5C1040 1422.2 1040 1418.1 1039.3 1414.5C1038.7 1411.1 1034 1408.9 1034.3 1406.2C1034.6 1403.5 1038 1400.9 1041 1401.2C1044 1401.5 1046.2 1405.6 1049.3 1407.9C1052.8 1410.4 1056.3 1413.5 1059.3 1414.5C1061.1 1415.1 1063.4 1414.6 1064.3 1412.9C1065.6 1410.2 1066.3 1404.5 1066 1401.2C1065.8 1399.1 1061.8 1398.2 1062.7 1396.2C1063.7 1393.9 1071 1393.4 1071 1389.6C1071 1385.6 1065 1381.4 1062.7 1376.2C1060.7 1371.7 1062.3 1366.6 1059.3 1362.9C1056.4 1359.4 1051 1359.6 1047.7 1357.9C1045.8 1356.9 1043 1355.9 1042.7 1354.6C1042.4 1353.3 1044.5 1352.1 1046 1351.3C1048.7 1350 1052.6 1349.6 1056 1347.9C1059.9 1346 1062 1343 1066 1341.3C1069.4 1339.9 1075 1340.9 1076 1339.6C1077 1338.3 1072.7 1336.5 1071 1334.6C1069 1332.3 1066 1329.9 1066 1327.9C1066 1325.9 1068.9 1324.4 1071 1324.6C1074.3 1324.9 1079.5 1329.6 1082.6 1329.6C1084.9 1329.6 1084.4 1325.4 1086.6 1324.6C1089.4 1323.6 1093 1324.3 1096.6 1324.6C1099.7 1324.9 1104 1328.2 1105 1326.2C1106 1324.2 1101.6 1314.6 1101.6 1314.6M1101.6 1314.6C1101.6 1314.6 1106.9 1313.4 1110 1312.9C1114.3 1312.2 1118.6 1312.5 1123.3 1311.3C1127.7 1310.1 1131.2 1306 1134.9 1306.3C1138.3 1306.6 1140.5 1309.7 1141.6 1312.9C1143.3 1317.6 1142.3 1324.9 1143.3 1329.6C1143.9 1332.2 1144.5 1334.6 1146.6 1336.2C1149.3 1338.2 1153.8 1337.1 1156.6 1339.6C1159.9 1342.6 1162.5 1346.9 1163.2 1351.2C1163.8 1354.9 1159.9 1358.2 1159.9 1361.2C1159.9 1363.4 1161.5 1364.8 1163.2 1366.2C1165.2 1367.9 1168.4 1367.3 1169.9 1369.5C1172.2 1372.8 1172.2 1380.6 1174.9 1382.9C1177.2 1384.9 1180.4 1382.4 1183.2 1381.2C1185.9 1380 1186.9 1376.2 1189.9 1376.2C1193.6 1376.2 1198.9 1377.5 1201.5 1381.2C1204.8 1385.9 1203.8 1395.2 1206.5 1399.5C1208.2 1402.2 1212 1401.1 1214.8 1402.8C1218.1 1404.8 1220.6 1406.6 1223.2 1409.5C1226.9 1413.6 1233.2 1423.5 1233.2 1423.5M1233.2 1423.5C1233.2 1423.5 1241.2 1418.6 1241.5 1414.5C1241.8 1410.4 1236.3 1407.4 1234.8 1402.8C1233.3 1398.2 1233.2 1394.3 1233.2 1389.5C1233.2 1383.5 1232.8 1377.6 1234.8 1372.9C1236.3 1369.3 1239.4 1367 1243.2 1366.2C1248.2 1365.2 1253.8 1368.2 1259.8 1367.9C1265.9 1367.6 1271.2 1367.5 1276.5 1364.5C1281.3 1361.8 1282.1 1356.3 1286.4 1352.9C1290.6 1349.6 1295.1 1348.9 1299.8 1346.2C1303.5 1344.1 1306.5 1342.3 1309.8 1339.6C1313.1 1336.9 1314.1 1332.6 1318.1 1331.2C1322.8 1329.5 1328.1 1331.9 1333.1 1331.2C1336.9 1330.7 1340.4 1330.2 1343.1 1327.9C1345.5 1325.8 1344 1321.8 1346.4 1319.6C1349.7 1316.6 1356.8 1314.4 1359.7 1312.9C1360.2 1312.6 1360.9 1311.9 1360.9 1311.9M1233.2 1423.5C1233.2 1423.5 1228.5 1429.6 1226.5 1432.8C1225.1 1435.1 1224.6 1437.2 1223.2 1439.5C1221.6 1442 1219.5 1443.4 1218.2 1446.1C1216.5 1449.4 1214.5 1452.8 1214.8 1456.1C1215.1 1459.1 1218.2 1460.7 1219.8 1462.8C1220.9 1464.2 1222.9 1466.6 1222.9 1466.6M839.5 1372.2C839.5 1372.2 833.1 1372.2 829.6 1372.9C825.9 1373.6 823.1 1374.8 819.6 1376.2C815.3 1377.8 811.6 1379.2 807.9 1381.2C805.3 1382.6 802.7 1383.6 801.2 1386.2C799.4 1389.2 799.1 1392.5 798.9 1396.2C798.7 1400.9 798.7 1405.2 800.2 1409.5C801.4 1413 804.9 1414.4 806.2 1417.9C807.4 1421.3 808.6 1424.8 806.9 1427.8C805.2 1430.8 801.2 1431.1 797.9 1432.8C795.2 1434.2 791.8 1433.6 790.3 1436.2C788.3 1439.5 788.3 1444.7 787.9 1449.5C787.4 1455.5 788.4 1460.1 787.9 1466.1C787.5 1471 784.9 1475.5 785.6 1479.5C786.1 1482.6 788.6 1484.5 791.3 1486.1C795.1 1488.4 800.7 1487.8 804.6 1491.1C808.3 1494.2 809.1 1499.7 811.2 1502.8C812.3 1504.4 814.3 1504.8 814.9 1506.6C816 1510 815.3 1515.6 816.6 1519.9C817.6 1523.2 818.7 1526.3 821.6 1528.2C824.6 1530.2 828.3 1528.4 831.6 1529.9C835.1 1531.5 837.9 1533.5 839.9 1536.5C841.6 1539.1 841.6 1541.8 841.6 1544.9C841.6 1548.2 839.9 1553.8 839.9 1553.8M874.9 1629.8C874.9 1629.8 880.2 1627.8 883.2 1628.1C886.4 1628.4 888.4 1630.6 891.5 1631.4C895 1632.4 898.5 1631.8 901.5 1633.1C903.8 1634.1 906.5 1638.1 906.5 1638.1C906.5 1638.1 903.2 1631.2 903.2 1628.1C903.2 1625.7 904.2 1623 906.5 1622.4C909.2 1621.7 912.8 1624.5 916.5 1624.8C919.5 1625 922.5 1622.1 924.8 1623.8C927.1 1625.5 926.5 1629.9 928.2 1633.1C929.6 1635.8 930.8 1638 933.2 1639.8C935.8 1641.7 939.2 1644.4 941.5 1643.1C943.8 1641.8 944.2 1636.8 944.8 1633.1C945.7 1627.8 945.1 1622.5 945.8 1616.5C946.3 1611.6 947.9 1608 948.1 1603.1C948.4 1597.1 946.9 1592.5 947.1 1586.5C947.3 1581.7 946.6 1576.4 949.1 1573.2C951.6 1570.1 955.9 1571.2 959.8 1570.5C964.5 1569.7 968.8 1568.5 973.1 1569.2C976.5 1569.7 978.1 1574.3 981.4 1573.8C984.7 1573.3 988.8 1570 989.8 1566.5C990.8 1563 988.1 1559.9 986.4 1556.5C984.5 1552.6 981.5 1550.5 979.8 1546.5C977.9 1542 976.5 1538.1 976.5 1533.2C976.5 1528.3 977.8 1524.2 979.8 1519.9C981.4 1516.4 986.4 1511.6 986.4 1511.6M961.1 1441.3C961.1 1441.3 962.7 1449.1 961.5 1453.3C960.3 1457.5 957.1 1460.6 954.8 1463.3C953.4 1464.9 951.9 1467.2 949.8 1466.6C947.5 1465.9 945.2 1460.2 943.2 1459.9C941.2 1459.6 940 1462.7 939.8 1464.9C939.5 1467.9 940 1471.6 941.5 1474.9C943.5 1479.2 946.5 1482.7 949.8 1486.6C953.1 1490.5 955.8 1495.9 959.8 1496.6C963.8 1497.3 966.1 1491.6 969.8 1489.9C972.6 1488.6 975.8 1486.9 978.1 1488.2C980.4 1489.5 980.5 1493.5 981.4 1496.6C982.4 1500.1 982.1 1503.6 983.1 1506.6C983.8 1508.6 986.4 1511.6 986.4 1511.6M986.4 1511.6C986.4 1511.6 989.6 1515.5 992.1 1515.5C994.9 1515.5 997.6 1512.9 1000.4 1511.4C1002.5 1510.3 1003.6 1508.2 1006 1507.9C1008.5 1507.6 1011.3 1508 1013 1510C1015 1512.2 1014.7 1518 1015.8 1519C1016.9 1520 1017.9 1516.5 1018.6 1514.9C1019.4 1513 1018.7 1511 1019.9 1509.3C1021.6 1507.1 1024.9 1502 1026.9 1503.7C1028.9 1505.4 1028.3 1515.9 1029.7 1517.6C1031.1 1519.3 1031.9 1510.7 1033.9 1512.1C1036.7 1514.1 1040.5 1525.5 1043.6 1527.4C1046 1528.9 1047.2 1523.9 1049.2 1521.8C1051.7 1519.2 1053.4 1515 1056.2 1514.2C1058.9 1513.4 1061 1516.2 1063.2 1517.6C1064.8 1518.6 1067.3 1521.1 1067.3 1521.1M1067.3 1521.1C1067.3 1521.1 1071.8 1524.2 1074.3 1526C1076.9 1527.9 1079.1 1529.9 1081.3 1531.6C1082.8 1532.7 1084.4 1534.4 1085.5 1534.4C1086.6 1534.4 1087.2 1532.7 1086.9 1531.6C1086.3 1529.6 1083 1527.1 1082.7 1524.6C1082.5 1522.4 1084.4 1520.9 1085.5 1519C1086.9 1516.7 1088 1513.1 1089.7 1512.8C1091.4 1512.5 1092.7 1515.6 1093.8 1517.6C1095 1519.9 1095.1 1522.1 1095.9 1524.6C1096.7 1527.1 1098 1531.6 1098 1531.6L1113.4 1545.5L1127.3 1559.5L1144 1576.2L1155.2 1567.1L1142.6 1554.6L1148.2 1552.5L1141.2 1544.1C1141.2 1544.1 1144.6 1540.7 1146.8 1539.2C1149.1 1537.7 1151.3 1535.1 1153.8 1535.8C1156.3 1536.5 1156.6 1541.2 1159.4 1542.7C1162.5 1544.4 1166.5 1544.4 1169.1 1544.1C1170.7 1543.9 1172.6 1541.3 1172.6 1541.3M1222.9 1466.6C1222.9 1466.6 1214.3 1477.6 1209.6 1483.3C1206.1 1487.6 1204.1 1491.7 1199.6 1494.9C1195.4 1497.9 1191.2 1498.8 1186.2 1499.9C1180.3 1501.2 1174.6 1499.9 1169.6 1501.6C1166 1502.8 1163.6 1505.5 1161.3 1508.2C1159.5 1510.2 1157.9 1512.2 1158 1514.9C1158.2 1518.2 1160.6 1521.1 1162.1 1524.6C1163.6 1528.1 1164.6 1532.7 1166.3 1534.4C1167.4 1535.5 1169.4 1531.8 1170.5 1533C1171.8 1534.4 1172.6 1541.3 1172.6 1541.3M1172.6 1541.3C1172.6 1541.3 1175.5 1545.1 1177.5 1546.9C1179.3 1548.6 1180.9 1549.9 1183.1 1551.1C1185.4 1552.4 1187.9 1552.3 1190 1553.9C1192 1555.4 1192.2 1558 1194.2 1559.5C1196.4 1561.1 1199.1 1560.6 1201.2 1562.3C1204 1564.5 1206 1567.4 1208.2 1570.6C1210.5 1573.9 1211.6 1577 1213.7 1580.4C1215.6 1583.5 1216.8 1586.8 1219.3 1588.7C1221.3 1590.3 1223.9 1589.3 1226.3 1590.1C1228.4 1590.8 1230.3 1591.3 1231.9 1592.9C1233.5 1594.5 1233.2 1597.9 1234.6 1598.5C1236 1599.1 1237 1595.7 1238.8 1595.7C1241.3 1595.7 1244.4 1596.9 1247.2 1598.5C1250.6 1600.5 1253.8 1602 1255.6 1605.5C1258.4 1611.1 1260.4 1619.2 1261.2 1626.4C1261.8 1631.8 1257.8 1637.7 1259.5 1641.4C1261.1 1644.9 1267.3 1641.7 1269.5 1644.8C1272.2 1648.5 1269.5 1656 1272.8 1659.7C1276.1 1663.4 1281.2 1662.8 1286.1 1663.1C1291 1663.4 1294.8 1660.7 1299.5 1661.4C1303.5 1662 1306.2 1664.2 1309.5 1666.4C1312.8 1668.6 1314.5 1673.4 1317.8 1673.7C1321.1 1674 1322.5 1668.7 1326.1 1668.1C1331.8 1667.2 1339.8 1668.6 1346.1 1669.1C1350.3 1669.4 1357.6 1670.5 1357.6 1670.5M1222.9 1466.6C1222.9 1466.6 1229.2 1461.6 1232.9 1461.6C1236.4 1461.6 1238.3 1464.6 1241.2 1466.6C1244.3 1468.8 1245.8 1473.3 1249.5 1473.3C1253.2 1473.3 1256.4 1469.7 1259.5 1466.6C1262.6 1463.5 1264.9 1460.6 1266.2 1456.6C1267.3 1453.2 1263.9 1447.9 1266.2 1446.6C1268.5 1445.3 1273.8 1448.7 1277.8 1450C1280.8 1451 1283.1 1453.3 1286.1 1453.3C1288.8 1453.3 1290.3 1449.1 1292.8 1450C1295.5 1451 1298.6 1454.6 1299.5 1458.3C1300.8 1463.6 1298.2 1470.9 1299.5 1476.6C1300.5 1480.8 1303.4 1483.9 1306.1 1486.6C1308 1488.5 1310.1 1490.2 1312.8 1489.9C1315.5 1489.6 1316.5 1485.6 1319.4 1484.9C1323.4 1483.9 1328 1484.4 1332.8 1484.9C1339.5 1485.6 1347.4 1488.9 1352.7 1488.2C1356.1 1487.8 1356.6 1483.5 1359.4 1481.6C1362.7 1479.3 1365.5 1477.8 1369.4 1476.6C1373.4 1475.4 1381 1475.1 1381 1475.1M1067.3 1521.1C1067.3 1521.1 1063.5 1523.9 1063.9 1526C1064.5 1528.9 1067.1 1532.9 1070.1 1535.8C1073 1538.6 1076.5 1539.1 1079.9 1541.3C1084.6 1544.4 1091 1547.5 1093.8 1551.1C1095.6 1553.5 1094.2 1556.5 1093.8 1559.5C1093.4 1562.6 1090.9 1565 1091.7 1567.8C1092.5 1570.6 1095.3 1572 1098 1573.4C1101.2 1575.1 1106.7 1574.2 1107.8 1576.2C1108.9 1578.2 1103.3 1580.4 1103.6 1583.2C1103.9 1586 1107.1 1587.7 1109.2 1590.1C1111.6 1592.7 1115.3 1594.3 1116.1 1597.1C1116.9 1599.7 1113.2 1601.4 1113.4 1604.1C1113.7 1607.2 1116.2 1609.3 1117.5 1612.4C1119.2 1616.3 1120 1621.9 1121.7 1623.6C1123 1624.9 1124.6 1622.1 1125.9 1620.8C1127.6 1619.1 1128.7 1614.1 1130.1 1615.2C1131.5 1616.3 1131 1622.8 1132.9 1626.4C1134.6 1629.5 1137 1631.2 1139.8 1633.4C1143.4 1636.2 1146.8 1638.2 1151 1640.3C1154.8 1642.2 1159.3 1643.1 1162.1 1644.5C1163.4 1645.1 1165.1 1645.9 1164.9 1647.3C1164.6 1649.3 1161.3 1651.4 1160.8 1654.3C1160.3 1657.3 1162 1659.6 1162.1 1662.6C1162.2 1665.1 1160.6 1667.4 1161.4 1669.6C1162.2 1671.8 1164.5 1672.3 1166.3 1673.8C1168.3 1675.4 1169.8 1677.7 1171.9 1678C1173.9 1678.3 1176.8 1677.2 1176.8 1675.2C1176.8 1672.7 1171.8 1668.2 1171.9 1665.4C1172 1662.9 1175.1 1661.9 1177.5 1661.2C1180.3 1660.4 1182.9 1660.5 1185.8 1661.2C1189.4 1662 1193.3 1662.3 1195.6 1665.4C1198.1 1668.8 1196.6 1673.7 1198.4 1678C1200.2 1682.4 1202.9 1685.1 1205.4 1689.1C1208.7 1694.4 1214.8 1700.9 1215.1 1704.5C1215.3 1707.6 1208.7 1705.8 1206.8 1707.2C1205.5 1708.1 1205.1 1709.8 1205.4 1711.4C1205.9 1714.4 1209.5 1722 1209.5 1722C1209.5 1722 1207.6 1719.6 1206.2 1719.7C1203.5 1719.9 1196.9 1720.3 1196.2 1723C1195.5 1725.7 1201.2 1729 1202.9 1733C1204.8 1737.5 1206.2 1746.3 1206.2 1746.3M950.5 1852.9C950.5 1852.9 958.6 1852.6 963.1 1852.9C967.9 1853.2 972.6 1852.8 976.5 1854.5C979.5 1855.8 981.4 1858.2 982.4 1861.2C983.3 1864.1 982.3 1866.8 981.4 1869.5C980.7 1871.6 976.7 1872.8 978.1 1874.5C979.8 1876.5 985.3 1878.9 989.8 1879.5C994.6 1880.1 998.3 1878.7 1003.1 1877.9C1009.1 1876.9 1014.1 1876.8 1019.7 1874.5C1024.5 1872.5 1030.1 1869.9 1031.4 1866.2C1032.7 1862.5 1027.6 1860 1026.4 1856.2C1024.7 1850.9 1024.6 1845.5 1023.1 1839.6C1021.6 1833.5 1018.1 1827.6 1018.1 1822.9C1018.1 1819.9 1020.5 1817.7 1023.1 1816.3C1026.8 1814.3 1033.4 1815.6 1036.4 1812.9C1039.1 1810.5 1036.1 1804.6 1038.1 1802.9C1040.1 1801.2 1043.4 1803.9 1046.4 1804.6C1048.8 1805.1 1050.6 1806.6 1053 1806.3C1055.7 1806 1057.2 1801.9 1059.7 1802.9C1063 1804.2 1066.4 1809 1069.7 1812.9C1073.6 1817.4 1075.2 1822.3 1079.7 1826.2C1083.8 1829.7 1088.3 1832.2 1093 1832.9C1096.8 1833.4 1099.3 1830.5 1103 1829.6C1106.5 1828.7 1109.3 1827.9 1113 1827.9C1116.1 1827.9 1119.3 1828.5 1121.3 1829.6C1122.7 1830.4 1123 1833.6 1123 1833.6M1123 1833.6C1123 1833.6 1131.5 1833.2 1136.3 1832.9C1140.5 1832.7 1144.6 1833.5 1147.9 1832.2C1150.5 1831.1 1152.9 1829 1152.9 1826.2C1152.9 1822.7 1149.2 1818.9 1147.9 1814.6C1146.8 1811.1 1146.2 1808.2 1146.3 1804.6C1146.5 1799.6 1148.9 1794.6 1148.9 1789.6C1148.9 1785.9 1144.8 1782.3 1146.3 1779.6C1147.8 1776.9 1152.6 1776 1156.3 1776.3C1159.8 1776.6 1161.4 1780 1164.6 1781.3C1167.4 1782.4 1170.3 1784.6 1172.9 1783C1175.6 1781.3 1176.6 1776.8 1177.9 1773C1179.1 1769.5 1177.3 1765.8 1179.6 1763C1182.6 1759.3 1188.1 1757.6 1192.9 1754.6C1197.7 1751.6 1206.2 1746.3 1206.2 1746.3M1206.2 1746.3C1206.2 1746.3 1206.2 1754 1207.9 1756.3C1209.3 1758.3 1212.4 1756.8 1214.5 1758C1217.5 1759.7 1220 1762 1222.9 1764.6C1226.6 1767.9 1228.9 1772.3 1232.9 1774.6C1236.1 1776.4 1240.2 1774 1242.9 1776.3C1245.6 1778.6 1244.2 1784 1246.2 1786.3C1247.8 1788.2 1250.7 1786.7 1252.8 1787.9C1255.8 1789.6 1258.9 1791.9 1261.2 1794.6C1263 1796.6 1262.5 1801.6 1264.5 1801.3C1266.5 1801 1269.8 1796.5 1271.2 1792.9C1273.2 1787.9 1271.8 1781 1274.5 1776.3C1276.6 1772.5 1281.4 1772.7 1284.5 1769.6C1288.1 1766 1289.1 1760.3 1292.8 1758C1295.8 1756.1 1299.5 1756.7 1302.8 1758C1305.9 1759.2 1307.3 1762.1 1309.5 1764.6C1312.1 1767.5 1315.1 1769.7 1316.1 1773C1317 1775.9 1315.7 1779 1314.4 1781.3C1313.3 1783.1 1309.5 1782.5 1309.5 1784.6C1309.5 1786.9 1312.6 1789.9 1314.4 1792.9C1316.2 1795.9 1317.1 1798.7 1319.4 1801.3C1322 1804.2 1327.8 1807.9 1327.8 1807.9M1357.6 1670.5C1357.6 1670.5 1357.5 1676.5 1359.3 1677.2C1361.1 1677.9 1364.2 1675.3 1366.8 1673.9C1369.9 1672.3 1372.4 1669.7 1375.1 1668.9C1376.8 1668.4 1378.4 1670.3 1380.1 1669.7C1382.1 1669 1383 1666 1385.2 1665.5C1387.3 1665 1390 1665.5 1391 1667.2C1392 1668.9 1391.5 1671.9 1390.2 1673.9C1388.9 1675.9 1385.3 1675.9 1384.3 1677.2C1383.5 1678.2 1384.1 1679.9 1385.2 1680.6C1386.7 1681.6 1390.8 1680.5 1391.8 1682.2C1392.8 1683.9 1389.9 1686.4 1390.2 1688.9C1390.5 1691.6 1391.8 1693.6 1393.5 1695.6C1395.5 1697.9 1398.2 1698.6 1400.2 1700.6C1401.7 1702.1 1403.2 1703.5 1403.5 1705.6C1403.8 1708.3 1402.9 1711.1 1401.9 1714C1401 1716.6 1398.2 1718 1398.5 1720.7C1398.8 1723.9 1401.7 1727.2 1403.5 1730C1404.7 1731.9 1407.8 1732.4 1407.7 1734.7C1407.5 1737.3 1403.9 1739.7 1402.7 1743C1401.4 1746.4 1401.9 1749.5 1401 1753C1400.1 1756.7 1398.8 1760.3 1397.7 1763C1397.1 1764.3 1395.4 1766.3 1395.4 1766.3M1395.4 1766.3C1395.4 1766.3 1394.4 1771 1392.7 1773C1390.2 1776 1386.2 1778.2 1382.7 1781.3C1379.6 1784.1 1377.4 1786.6 1374.4 1789.6C1371.4 1792.6 1369.4 1795.2 1366.1 1797.9C1362.7 1800.6 1359.1 1802.6 1356.1 1804.6C1354.3 1805.8 1353.3 1807.9 1351.1 1807.9C1348.4 1807.9 1345.8 1804.3 1342.8 1804.6C1339.8 1804.9 1339 1809 1336.1 1809.6C1333.1 1810.3 1327.8 1807.9 1327.8 1807.9M1327.8 1807.9C1327.8 1807.9 1320.4 1809.3 1319.4 1811.3C1318.4 1813.3 1323.4 1815.3 1322.8 1817.9C1322.1 1820.6 1315.8 1822.3 1316.1 1824.6C1316.4 1826.9 1322.3 1826.8 1324.4 1829.6C1326.7 1832.6 1326.2 1836.1 1327.8 1839.6C1329.3 1842.8 1331 1844.9 1332.8 1847.9C1335.1 1851.9 1337.8 1855 1339.4 1859.5C1340.8 1863.5 1337.8 1869.2 1341.1 1871.2C1344.4 1873.2 1350.7 1870.1 1356.1 1869.5C1362.1 1868.9 1366.7 1867.8 1372.7 1867.9C1378.2 1868 1384.4 1867.9 1387.7 1870.2C1390.5 1872.1 1389.4 1876.6 1389.4 1879.5C1389.4 1881.4 1387.5 1882.6 1387.7 1884.5C1388 1887.2 1390.5 1889.6 1391 1892.8C1391.9 1897.8 1391.7 1903.5 1392 1909.5C1392.3 1915.5 1392.4 1920.1 1392.7 1926.1C1392.9 1931.5 1393.4 1941.1 1393.4 1941.1M1620.7 1712.3C1620.7 1712.3 1624.7 1713.3 1626.5 1714.6C1629 1716.4 1630.4 1719.3 1633.2 1721.2C1635.9 1723 1638.8 1724.3 1641.5 1724.6C1643.4 1724.8 1645.3 1724.4 1646.5 1722.9C1647.8 1721.2 1648.8 1718.3 1648.1 1716.3C1647.4 1714.3 1643.2 1712.9 1643.2 1712.9C1643.2 1712.9 1648.1 1714.2 1649.8 1716.3C1651.9 1719 1653.8 1726.2 1653.8 1726.2C1653.8 1726.2 1654.3 1719.8 1654.8 1716.3C1655.3 1713.2 1654.2 1709.9 1656.5 1707.9C1658.8 1705.9 1663.8 1708.3 1666.5 1706.3C1669.1 1704.3 1669.8 1701.1 1669.8 1697.9C1669.8 1694.7 1665.8 1691.6 1666.5 1689.6C1667.2 1687.6 1670.9 1689 1673.1 1687.9C1675.9 1686.6 1678.5 1683.3 1680.4 1683C1681.8 1682.8 1682.7 1684.9 1682.4 1686.3C1681.9 1688.3 1678.3 1690.9 1678.1 1692.9C1677.9 1694.6 1679.7 1696.3 1681.4 1696.3C1683.7 1696.3 1687.5 1691.9 1689.8 1692.9C1692.1 1693.9 1691.4 1699 1693.1 1701.3C1694.3 1703.1 1696.8 1705.9 1698.1 1704.6C1699.4 1703.3 1698.3 1695.6 1699.8 1694.6C1701.3 1693.6 1703.7 1697.8 1705.8 1699.6C1707.8 1701.4 1711.6 1701.9 1711.4 1704.6C1711.2 1707.3 1705.5 1709.9 1704.8 1712.9C1704.2 1715.5 1706.7 1717.3 1708.1 1719.6C1709.7 1722.1 1712.5 1723.3 1713.1 1726.2C1713.8 1729.5 1711.1 1732.6 1711.4 1736.2C1711.7 1740 1713.5 1742.6 1714.7 1746.2C1715.9 1749.8 1716.1 1753.5 1718.1 1756.2C1719.7 1758.3 1723.5 1757.1 1724.7 1759.5C1726.2 1762.5 1725.4 1767 1725.7 1771.2C1726 1774.8 1726.9 1777.6 1726.4 1781.2C1725.9 1784.4 1725.2 1787.1 1723.1 1789.5C1720.8 1792.1 1716.6 1791.5 1714.7 1794.5C1712.8 1797.5 1713.7 1804.5 1713.7 1804.5M1713.7 1804C1713.7 1804 1719.8 1806.3 1723 1806C1725.7 1805.8 1727.7 1801.8 1729.7 1802.6C1731.7 1803.4 1731.1 1807.8 1733 1810C1735.3 1812.7 1738.6 1814.5 1741.3 1816C1742.9 1816.9 1745.6 1818.8 1746.3 1817.3C1747 1815.8 1744 1810.4 1744.7 1808.3C1745.3 1806.5 1747.8 1806.5 1749.7 1806.6C1752.4 1806.8 1754.9 1808.8 1758 1809.3C1760.9 1809.8 1764.3 1807.8 1766.3 1809.3C1768.3 1810.8 1768 1814.1 1768 1816.6C1768 1818.5 1765 1820.9 1766.3 1821.6C1767.6 1822.3 1773.6 1819.3 1774.6 1820C1775.6 1820.7 1770.7 1822.9 1771.3 1825C1772 1827.3 1778.3 1829.6 1778 1831.6C1777.7 1833.6 1772.4 1833.3 1769.6 1834.9C1767 1836.3 1765.4 1838.1 1763 1839.9C1760.6 1841.7 1756.6 1842.9 1756.3 1844.9C1756 1846.9 1761.6 1847.9 1761.3 1849.9C1761 1851.9 1754.9 1853.2 1754.6 1854.9C1754.3 1856.6 1760.6 1857 1759.6 1858.3C1758.6 1859.6 1751.7 1860.1 1749.7 1861.6C1748.5 1862.5 1748.4 1865.1 1749.7 1865.9C1752 1867.4 1757.3 1868.3 1761.3 1869.2C1764.2 1869.9 1766.8 1869.4 1769.6 1870.6C1772.4 1871.9 1773.6 1874.7 1776.3 1875.9C1778.5 1876.9 1780.7 1877.4 1783 1876.6C1785.3 1875.7 1787.2 1873.9 1787.9 1871.6C1788.6 1869.3 1786 1867.2 1786.3 1864.9C1786.6 1862.8 1789.3 1861.7 1789.6 1859.9C1789.9 1858.4 1786.9 1856.2 1787.9 1855.9C1788.9 1855.6 1793.2 1856.2 1794.6 1858.3C1796.3 1860.8 1795.3 1867.2 1796.3 1868.2C1797.3 1869.2 1798.3 1865 1799.6 1863.3C1800.7 1862 1802 1858.4 1802.9 1859.9C1803.9 1861.6 1802.9 1869.6 1804.6 1871.6C1806.2 1873.5 1809 1869.6 1811.3 1869.9C1813.4 1870.2 1814.2 1872.9 1816.3 1873.2C1819 1873.5 1821.9 1872.4 1824.6 1871.6C1826.5 1871 1828.3 1868.5 1829.6 1869.2C1830.9 1869.9 1832.1 1873 1831.2 1874.9C1830.2 1877 1826.3 1877.6 1824.6 1879.9C1823.2 1881.9 1821.9 1884.9 1822.9 1886.6C1823.9 1888.3 1827.2 1887.5 1829.6 1888.2C1832.9 1889.2 1837.3 1890.3 1839.6 1891.6C1840.7 1892.3 1842.5 1894.6 1841.2 1894.9C1839.9 1895.2 1835.6 1892.9 1832.9 1893.2C1830.7 1893.5 1828.2 1894.9 1827.9 1896.6C1827.6 1898.3 1829.4 1900.4 1831.2 1901.5C1833.2 1902.7 1837.9 1902.5 1837.9 1902.5M1713.7 1804C1713.7 1804 1706.6 1805.5 1703 1807.3C1699.7 1808.9 1697.4 1810.8 1694.7 1813.3C1692.5 1815.4 1690.8 1817.7 1689.7 1820C1688.9 1821.6 1689.8 1823.4 1689 1825C1687.7 1827.5 1684.5 1829.4 1683.1 1832.6C1681.4 1836.6 1683.1 1843.1 1680.4 1844.9C1677.7 1846.7 1673.5 1842.7 1669.7 1841.6C1666.7 1840.7 1663.7 1839.3 1661.4 1839.3C1660 1839.3 1659.5 1841.6 1658.1 1841.6C1656.1 1841.6 1653.9 1838.7 1651.4 1839.3C1648.7 1840 1647.1 1842.8 1644.8 1844.9C1642.3 1847.2 1640.6 1849.3 1638.1 1851.6C1635.2 1854.2 1632.7 1855.8 1629.8 1858.3C1627.3 1860.5 1625.4 1864 1623.1 1864.9C1621.2 1865.6 1619.9 1863.5 1618.1 1862.6C1616.3 1861.7 1615.1 1859.5 1613.1 1859.9C1610.8 1860.4 1608.8 1863 1606.5 1864.9C1604.6 1866.6 1603.8 1868.8 1601.5 1869.9C1598.8 1871.2 1596.1 1870.7 1593.1 1871.6C1590 1872.5 1587.4 1873.1 1584.8 1874.9C1581.5 1877.2 1578 1880.2 1576.5 1883.2C1575.4 1885.4 1576.2 1887.7 1577.2 1889.9C1578.4 1892.6 1580.8 1894.1 1582.5 1896.6C1584.7 1899.8 1589.6 1902.3 1588.1 1905.9C1586.1 1910.6 1572.5 1919.9 1572.5 1919.9L1600.8 1949.2M1395.4 1766.3C1395.4 1766.3 1402.2 1763 1406 1761.3C1408.9 1760 1411.3 1758 1414.3 1758C1417 1758 1418.7 1761.6 1421 1761.3C1423.3 1761 1423.7 1757.3 1426 1756.3C1429 1755 1433 1753.3 1436 1754.6C1439 1755.9 1439.7 1759.7 1441 1763C1442.7 1767.3 1442.6 1772 1444.3 1776.3C1445.6 1779.6 1446.3 1782.8 1449.3 1784.6C1452.3 1786.5 1455.7 1785.9 1459.3 1785.6C1463.3 1785.3 1466.9 1784.1 1470 1782.9C1472 1782.1 1474.5 1781.6 1475 1779.5C1475.7 1776.8 1473.9 1773.1 1473.3 1769.5C1472.8 1766.5 1471.1 1764.2 1471.7 1761.2C1472.4 1757.5 1473.7 1753.9 1476.7 1751.2C1480.4 1747.9 1485.3 1746.9 1490 1744.6C1493.6 1742.8 1496.4 1741.4 1500 1739.6C1503.6 1737.8 1508 1736.6 1510 1734.6C1511.3 1733.3 1511.2 1731 1510 1729.6C1508.3 1727.6 1503.6 1726.3 1501.6 1724.6C1500.6 1723.7 1498.9 1722 1500 1721.2C1501.7 1719.9 1506.4 1719.2 1510 1717.9C1513 1716.8 1515.6 1715.6 1518.3 1714.6C1520.1 1713.9 1522 1714 1523.3 1712.9C1524.5 1711.9 1523.4 1709.2 1524.9 1708.9C1527.9 1708.2 1533.5 1709.2 1538.3 1709.6C1543.7 1710.1 1548.2 1711.3 1553.2 1711.3C1556.9 1711.3 1560.1 1711.5 1563.2 1709.6C1566.8 1707.5 1571.4 1700.6 1571.4 1700.6M1123 1833.6C1123 1833.6 1126.9 1839.3 1128 1842.9C1129.3 1847.4 1129.2 1851.4 1129.6 1856.2C1130.1 1862.2 1130.6 1866.9 1130.3 1872.9C1130 1877.8 1128.6 1881.4 1128 1886.2C1127.2 1892.2 1126.3 1896.8 1126.3 1902.8C1126.3 1907.7 1127 1912.9 1128 1916.2C1128.5 1917.8 1131.2 1917.8 1131.3 1919.5C1131.5 1922.8 1129.2 1927.9 1129 1932.8C1128.8 1938.8 1130.5 1944.2 1130.3 1949.5C1130.2 1953.2 1129.5 1956.1 1128 1959.4C1126.8 1962.2 1125 1964.4 1123 1966.1C1121.5 1967.3 1118.9 1966.1 1118 1967.8C1116.7 1970.2 1116.4 1974.9 1116.4 1978.3C1116.4 1980.8 1118.1 1984.9 1118.1 1984.9M1118.1 1984.9L1129.7 1981.6L1144.7 1979.9L1153 1981.6L1169.7 1989.9L1189.7 2001.6L1209.6 2011.6L1226.3 2019.9L1234.6 2022.5L1249.6 2019.2L1265.1 2014.3M1265.1 2014.3L1251.8 1998.3L1286 1979.5L1285.3 1976.7L1300.6 1968.3L1295.1 1958.6L1315.3 1946L1314.6 1941.8L1323.6 1936.2L1320.9 1933.5L1325.7 1927.9L1323.6 1925.1L1339.7 1925.4L1354.3 1952.3L1350.1 1962M1265.1 2014.3L1274.9 2028.3L1283.2 2040.8L1288.1 2058.9L1293 2079.8L1216.3 2101.5L1223 2111.5L1219.6 2137.1L1306.2 2114.8L1338.8 2139.1M1366.8 2163.1L1322.2 2223L1340.2 2266.3M1340.2 2266.3L1297.9 2274.6L1316.9 2352.2M1095.7 2322.4L1105.7 2346.9L1129.1 2346.9L1134.6 2344.7L1134.6 2339.1L1141.3 2333.5L1146.9 2369.2L1106.8 2370.8L1114.6 2386.4L1138 2385.8L1138 2378.1L1150.8 2377.5L1153.5 2393.6L1227 2375.8L1210.3 2310.2L1247.1 2301.2L1262.6 2364.7M1099 2261.7L1107.9 2272.3L1089 2277.9L1102.9 2291.8L1127.9 2286.2L1126.8 2302.4L1133.5 2311.3L1117.9 2317.9L1117.9 2325.2L1106.8 2325.7L1103.5 2323L1095.7 2322.4M1118.1 1984.9L1109.7 1987.2L1104.7 2014.9L1116.4 2014.9L1121.4 2018.2L1127 2033.2L1131.4 2045.5L1119.1 2084.8M1119.1 2084.8L1103.1 2082.5L1099.1 2096.5L1099.1 2121.4L1123.7 2121.4L1122.4 2163.1L1123.7 2194.7L1090.4 2198L1084.8 2211.4L1090.4 2223L1096.4 2238L1098.1 2249.7L1099 2261.7M945.9 2044.9C945.9 2044.9 951.5 2048 954.9 2048.2C959.4 2048.5 964.5 2047.5 968.2 2046.5C970.3 2045.9 972.5 2045.2 973.2 2043.2C974.1 2040.9 971.8 2036.9 972.5 2034.9C973 2033.4 975 2032.7 976.5 2033.2C978.3 2033.9 979.4 2036.7 981.5 2038.2C983.7 2039.8 985.6 2042.2 988.2 2041.5C992.9 2040.2 1000.5 2030.8 1004.8 2031.5C1009.1 2032.2 1008.1 2040.1 1009.8 2044.9C1011.3 2049.1 1012.5 2053 1013.8 2056.5C1014.6 2058.7 1014.2 2061.9 1016.5 2062.5C1019.7 2063.3 1025.3 2062.2 1029.8 2060.5C1033.9 2059 1036.6 2056.6 1039.8 2053.8C1042.4 2051.6 1045.3 2049.6 1045.8 2046.5C1046.3 2043.4 1041.8 2041.3 1042.5 2038.2C1043.3 2034.5 1046.3 2030.9 1049.8 2028.2C1053.9 2025.1 1059.1 2022.8 1063.1 2022.5C1065.9 2022.3 1067.3 2025.3 1069.8 2026.5C1072.7 2027.9 1075.9 2027.5 1078.1 2029.9C1081.6 2033.6 1088.6 2039 1087.1 2044.9C1085.6 2050.8 1071.9 2054.5 1070.4 2059.2C1069 2063.7 1076.3 2065.4 1079.8 2068.2C1082.5 2070.4 1084.9 2071.8 1088.1 2073.2C1092.8 2075.2 1097.8 2076.2 1103.1 2078.2C1108.9 2080.4 1119.1 2084.8 1119.1 2084.8M890 2269.6C890 2269.6 900.6 2270.2 906.6 2270.3C912.6 2270.4 917.3 2269.9 923.3 2270.3C929.3 2270.7 933.9 2272.4 939.9 2272.3C944.8 2272.2 949.9 2272.1 953.2 2269.6C956.2 2267.3 954.9 2263 956.6 2259.6C958.5 2256 959.9 2252.6 963.2 2250.3C966.2 2248.2 970.2 2249.5 973.2 2248C975.5 2246.9 976.1 2244.5 978.2 2243C980.4 2241.4 982.9 2241.4 984.9 2239.7C987.2 2237.7 987.9 2232.7 989.9 2233C991.9 2233.3 992.9 2238.6 994.8 2241.3C996.2 2243.3 997.8 2244.4 999.2 2246.3C1000.8 2248.6 1001.4 2250.8 1003.2 2253C1005.3 2255.6 1006.8 2258.6 1009.8 2259.6C1012.7 2260.6 1015.7 2257 1018.2 2258C1020.7 2259 1021.2 2262.1 1022.5 2264.6C1024.2 2267.9 1024.4 2272.3 1026.5 2274.6C1028.1 2276.4 1030.7 2276.5 1033.1 2276.3C1035.7 2276.1 1037.7 2272.9 1039.8 2273.6C1041.9 2274.3 1042.7 2277.2 1043.8 2279.6C1045.1 2282.4 1044 2286.2 1046.5 2287.9C1049 2289.6 1053.7 2290.1 1056.5 2287.9C1059.5 2285.6 1060 2280.6 1061.4 2276.3C1062.7 2272.2 1063 2268.8 1063.8 2264.6C1064.6 2260.4 1064.6 2255.7 1065.8 2253C1066.4 2251.6 1068.3 2251 1069.8 2251.3C1073.3 2252 1078.3 2254.6 1083.1 2256.3C1088.8 2258.3 1099 2261.7 1099 2261.7M1095.7 2322.4L1085.1 2296.8L1067.8 2295.7L1066.7 2330.2L1063.9 2346.9L1066.2 2380.3L1068.4 2403.7L1071.2 2417L1080.1 2417L1081.4 2428.2L1058.1 2437.2L1041.4 2444.9L1042.4 2450.5L1035.7 2452.5L1040.4 2471.5L1048.1 2469.9L1049.1 2493.8L1074.7 2483.8L1080.4 2485.8L1081.4 2508.2L1114.7 2506.5L1118 2523.1L1116.3 2526.5L1124.7 2536.5L1129 2546.5L1129.7 2553.8M1109 2567.1L1059.1 2570.4L1058.1 2563.8L1050.4 2563.8L1049.7 2571.4L1039.7 2569.8L1038.1 2562.4L1016.4 2567.1L1014.8 2559.8L1008.1 2553.1L1006.4 2548.1L993.1 2549.8L1003.1 2599.1L998.1 2600.4L1010.4 2661.3L989.8 2665.7L997.1 2704.6M1094.7 2612.4L1111.3 2609.1L1126.3 2664.7L1084.7 2674.7L1081.4 2683C1081.4 2683 1081.4 2687.5 1079.7 2689C1078 2690.5 1075.1 2690.8 1073 2690.3C1071 2689.8 1069 2686.3 1069 2686.3L1067 2676.3L1069 2663L1071.4 2651.3L1069.7 2636.4L1068 2623L1094.7 2612.4M1058.1 2438.2L1089.7 2426.6L1091.4 2431.6L1095.7 2431.6L1099 2447.2L1088 2450.5L1087 2453.9L1074.7 2458.2L1058.1 2438.2M1117 2464.9L1143 2458.2L1143.6 2465.9L1141.3 2467.2L1141.3 2483.8L1124.7 2491.5L1117 2464.9M1150.3 2459.2L1246.2 2435.9L1256.2 2476.5L1211.2 2490.5L1163 2501.5L1141.3 2500.5L1141.3 2484.8L1144.6 2476.5L1144.6 2466.5L1150.3 2465.9L1150.3 2459.2"/>
<path stroke="#747679" stroke-opacity="0.47" d="M84.3 583.1C84.3 583.1 94.3 572.5 97.3 568.2C98.7 566.1 97.6 563.3 99.3 561.5C102.8 557.8 111.8 553.5 114.9 549.8C116.4 548 113.4 544.9 114.9 543.2C116.4 541.5 120.8 542.8 122.6 541.5C124.1 540.4 124.3 538.3 123.9 536.5C123 532.2 119.1 524 118.3 519.9C118 518.4 118.6 516.6 119.9 515.9C121.2 515.2 123.6 515.2 124.9 516.5C127.9 519.6 131.2 526.1 134.9 531.5C139.8 538.6 145.5 549.2 149.2 552.2C151.1 553.8 151.4 548 153.2 546.5C154.7 545.3 156.7 544.1 158.2 544.8C159.7 545.5 160.1 547.9 160.6 549.8C161.3 552.5 159.6 555.9 161.6 558.2C164.5 561.4 170 564.7 174.9 565.8C178.8 566.7 182.4 565 185.9 563.8C188.5 562.9 191.5 561.6 192.5 559.8C193.4 558.1 190.6 556.5 190.9 554.8C191.2 553.2 193.7 553.1 193.9 551.5C194.4 547.2 194.3 538.3 193.2 533.2C192.5 530.1 191.1 527.2 188.2 525.9C185.2 524.6 181.5 527 178.2 526.5C175.6 526.1 174.2 523.8 171.6 523.2C168.1 522.3 163.9 524.7 160.9 522.2C156.9 518.9 155.2 512 151.6 506.6C148.3 501.6 144.7 497.9 141.6 493.2C139.3 489.8 137.2 486 135.9 483.2C135.3 481.9 134.7 480.5 135.3 479.2C136 477.7 137.4 475.9 139.3 475.9C141.4 475.9 143.5 478 145.9 479.2C149 480.8 152.1 484.3 154.9 483.9C157.7 483.5 158.2 479.7 159.9 477.2C161.4 475 162.2 472.6 163.9 470.9C165.1 469.7 166.5 468.9 168.2 468.9C173.1 468.9 181.2 469.9 188.2 470.9C193.7 471.7 198.5 473.6 203.2 473.9C206.2 474.1 209.2 473.7 211.5 472.6C213.3 471.8 213.1 469.2 214.8 468.3C216.4 467.5 218.3 467.4 219.8 468.3C222 469.6 223.9 472.3 225.8 474.9C228.3 478.2 231.5 481.2 232.2 484.9C232.8 488 229.3 490.5 229.2 493.2C229.1 495.2 230.1 496.8 231.5 498.2C234.3 501.2 240.3 506.5 243.2 508.2C244.1 508.8 244.7 506.9 245.8 506.6C247.8 506.1 250.5 505 253.1 505.6C257.2 506.6 261.8 509.8 266.5 511.5C270 512.7 273.3 513.7 276.5 513.9C278.7 514 281.2 514.3 282.4 512.5C283.9 510.4 282.3 505.9 283.8 503.2C285.1 500.9 287.3 499.8 289.8 498.9C292.3 498 294.5 498 297.1 498.2C299.3 498.4 301.2 498.9 303.1 499.9C304.6 500.7 306.4 503.2 306.4 503.2C306.4 503.2 305.7 499 305.4 496.6C304.7 491.9 304.4 484.6 303.1 479.9C302.4 477.2 301.1 475.3 299.1 473.3C297 471.2 293.5 470.6 292.1 468.9C291.2 467.8 290.9 465.7 292.1 464.9C293.6 463.9 297 463.7 299.8 463.9C302.9 464.1 305.1 465.9 308.1 465.9C310.6 465.9 312.6 465.2 314.7 463.9C316.7 462.6 317.1 460.2 319.1 458.9C320.9 457.8 322.9 457.2 324.7 457.6C326.4 458 327.7 459.2 328.1 460.9C328.8 464 326.4 469.2 328.1 473.3C330.4 478.8 335.3 483 339.7 488.2C344.3 493.7 349 500.5 353 503.2C355.1 504.6 357.3 502.2 359.7 501.6C363 500.7 366.3 500.5 369.7 498.9C373 497.4 375.7 495.2 378 493.2C379.5 491.9 379.6 489.8 381.3 488.9C382.9 488.1 384.6 488.4 386.3 488.9C388.3 489.4 389.3 491.2 391.3 491.6C393.1 492 394.7 490 396.3 490.9C398.6 492.2 400.8 495.4 403 498.2C404.8 500.5 407.3 504.9 407.3 504.9M407.3 504.9C407.3 504.9 411.5 502.7 413.6 501.6C415.2 500.8 416.2 499.2 418 499.2C420.2 499.2 422.4 500.4 424.6 501.6C426.6 502.7 427.9 505.3 429.6 505.6C431.1 505.9 432.6 504.6 433 503.2C434 499.4 433.6 491.6 434.6 486.6C435.2 483.4 436.4 481.1 438 478.2C440 474.5 443 472.3 444.6 468.3C446.6 463.3 446.6 456.8 447.9 453.3C448.5 451.8 449.8 451.2 451.3 450.6C453.3 449.8 455.9 450 457.9 449.3C459.2 448.9 460 447 461.3 447.3C462.6 447.6 463.1 450.6 464.6 450.6C466.1 450.6 467 447.1 468.9 447.3C471.2 447.5 474.8 448.9 476.3 451.6C478 454.7 476.6 458.7 477.2 462.6C477.8 466.5 478.1 470.8 479.6 473.3C480.6 474.9 482.7 474.9 484.6 474.9C486.9 474.9 488.8 473.7 491.2 473.3C494.2 472.8 496.6 472.5 499.6 472.6C502.6 472.7 504.9 473.3 507.9 473.9C510.3 474.4 512.6 477.1 514.5 475.6C516.8 473.8 518.2 469 519.5 464.9C521.2 459.4 521.2 452.8 522.9 448.3C523.9 445.7 525.7 444.1 527.9 442.3C530 440.6 531.9 439.4 534.5 439C537.8 438.5 541.2 441.5 544.5 440C550.5 437.3 557.3 430.7 564.5 425.6C571.7 420.5 579 414.7 584.5 411.6C586.9 410.2 590 409.3 592.1 410C594 410.6 595.3 413 594.8 415C594.1 417.5 590.2 419.4 588.8 422.6C587.5 425.6 587 428.5 587.8 431.6C588.5 434.5 590.4 436.5 592.8 438.3C596.5 441.1 601.2 443.2 606.1 445.6C610.8 447.9 614.2 450.7 619.4 451.6C625.1 452.6 629.9 452.3 635.4 450.6C642.1 448.6 646 443.8 652.7 441.6C658.7 439.6 664.1 438.8 670.1 439.3C675 439.7 678.4 442 682.7 444.3C687.2 446.7 690.5 449 694.4 452.3C697.8 455.2 700 458.3 702.7 461.6C704.7 464.1 705 467.3 707.7 468.9C711.4 471.1 716.4 470.7 721 472.6C725.5 474.4 729.2 476.4 732.7 479.2C735.4 481.3 737.5 483.5 738.7 486.6C739.8 489.4 738.7 494.9 738.7 494.9M738.7 494.9C738.7 494.9 741 500.4 742.7 503.2C745.4 507.7 752 517.2 752 517.2M84.3 583.1C84.3 583.1 88.9 588.6 91.6 591.5C94.3 594.3 97 597.8 99.3 599.1C100.6 599.8 102.3 599.2 103.3 598.1C104.4 596.8 103.8 593.8 105 592.5C106.1 591.3 108.4 590.2 109.3 591.5C110.3 593 108.9 597.5 110 599.8C110.9 601.7 112.8 603.1 114.9 603.1C117.2 603.1 119.7 601.7 121.6 599.8C124.3 597 126.3 589.8 128.3 589.1C130.3 588.4 129.8 594.2 131.6 596.5C133.5 598.8 136 601.5 138.3 601.5C140.6 601.5 141.3 597.2 143.3 596.5C145.1 595.9 147.4 596.6 148.2 598.1C149 599.6 145.5 602.8 147.2 603.8C148.9 604.8 153.2 602.6 156.6 603.1C160.1 603.6 162.6 606.5 165.9 606.5C168.8 606.5 170.8 604.7 173.2 603.1C176.1 601.3 178.4 596.8 180.5 597.1C182.6 597.4 181.6 602.8 183.9 604.8C186.4 607 191 605.4 193.2 608.1C195.4 610.8 193.6 616.1 194.9 618.1C195.9 619.6 198.3 618.9 199.9 618.1C201.7 617.2 202.2 613.5 203.9 613.8C205.6 614.1 207 617.5 208.2 619.8C209.7 622.6 209.7 625.4 211.5 628.1C213.4 630.9 215.5 632.7 218.2 634.8C221 636.9 223.5 638.9 226.5 639.8C228.8 640.5 232.7 638.1 233.2 639.1C233.7 640.1 230.1 642.4 229.2 644.7C228.3 647 227.4 649.2 228.2 651.4C229 653.6 230.9 655.1 233.2 655.7C235.5 656.4 238.1 656.2 239.8 654.7C241.5 653.2 241.5 650.6 241.5 648.1C241.5 645.6 238.7 642.6 239.8 641.4C240.9 640.2 244.7 641 247.1 642.1C249.9 643.4 251.8 645.6 253.8 648.1C255.5 650.2 257.6 652.1 257.1 654.7C256.6 657.4 253.2 658.7 251.5 661.4C250.1 663.6 248.1 665.8 248.8 668.1C249.5 670.4 252.2 672.1 254.8 673.1C258.3 674.4 262.4 673.8 266.5 674.7C270.2 675.5 274 676.3 276.5 678C278.2 679.1 279.8 681.9 279.1 683C278.4 684.1 275.2 684.2 273.1 683.7C269.6 682.9 264.4 679.1 261.5 679C259.8 678.9 259.1 681.3 258.8 683C258.5 685.1 258.6 687.6 259.8 689.7C261.2 692.2 263.1 694.3 265.8 695.7C269.1 697.4 272.9 696.9 276.5 698C279.3 698.9 281 702.2 283.8 701.4C286.8 700.5 288.7 695.7 291.4 693.7C293.2 692.4 297.1 691.4 297.1 691.4M297.1 691.4C297.1 691.4 296.2 696.9 297.1 698C298 699.1 300.3 696 301.4 697C302.5 698 301.8 700.9 302.4 703C303.2 705.9 305.3 708.3 305.4 711.3C305.5 713.8 304.3 715.8 303.1 718C302 720 299.6 720.8 299.1 723C298.6 725.3 299.1 727.6 300.4 729.7C301.9 732 304.9 732.7 306.4 734.7C307.6 736.2 306.8 738.3 308.1 739.7C310.4 742.4 314.6 744.9 318.1 748C321.2 750.8 324.6 752.5 326.4 756.3C328.2 760.1 326.6 765 327.4 768C327.8 769.6 328.9 770.6 330.4 771.3C332.5 772.3 337.7 771.7 338.1 773C338.5 774.3 334.2 775.9 332.4 777.9C330.5 780.1 328.5 782.3 328.1 784.6C327.8 786.6 328.9 788.3 330.4 789.6C332.1 791.1 334 792.6 336.4 792.3C339.5 792 343.4 787.4 345.7 787.9C348 788.4 346.8 792.4 348 794.6C349.4 797.2 350.4 799.8 353 801.3C355.6 802.8 358.4 802.5 361.4 802.3C365.1 802.1 369.2 799.8 371.4 800.3C373 800.6 373.2 803.2 372.4 804.6C371.3 806.5 367.3 807.1 365.7 809.6C364 812.2 364.9 815.6 363.7 817.9C362.8 819.6 360.2 819.7 359.7 821.2C359.2 822.7 360.2 824.4 361.4 825.6C363.1 827.3 366.1 827.6 368 829.6C370.3 832.1 371.7 835.2 373 837.9C373.9 839.6 374.7 842.9 374.7 842.9M753 517.9L781.3 540.1C781.3 540.1 803.6 539.6 813.6 539.6C820 539.6 825.6 539 831.4 540.1C835.7 540.9 839.3 542.2 842.6 545.1C845.6 547.7 846.5 551 848.1 554.6C849.8 558.4 851.1 561.5 851.5 565.7C851.9 569.7 851 572.9 850.4 576.9C849.8 580.5 848.9 583.3 848.1 586.9C847.5 589.7 846.5 591.8 846.5 594.7C846.5 598.7 846.5 603.5 848.1 606.9C849.3 609.5 851.5 611.4 854.3 611.9C857.4 612.5 860.6 611.3 863.7 609.7C867.8 607.5 872.2 604.7 874.9 600.8C877.1 597.6 875.9 592.9 877.1 590.2C877.8 588.6 879.3 587.1 881 587.4C885.6 588.1 896.4 590.5 900 593.6C902.6 595.8 899.3 599.7 899.2 603.1C899 607.7 898.4 612.1 899.2 616.4C899.8 619.7 901 622.3 903.2 624.8C905.6 627.5 908.5 629.4 911.5 630.4C913.8 631.2 916 630.8 918.2 629.8C923.2 627.5 930 623.1 936.5 619.1C945.5 613.6 956.4 604.8 963.1 602.1C965.6 601.1 967.2 606.1 969.8 605.5C973.1 604.7 976.1 599.8 979.8 598.1C982.5 596.8 985.3 596.3 988.1 597.1C990.7 597.8 992.3 599.8 993.8 602.1C996 605.4 997.7 609.4 999.1 613.8C1000.4 617.8 1002 621.2 1001.4 625.4C1000.7 630.3 998 633.6 995.8 638.1C993.8 642.3 992.7 646.4 989.8 649.7C987.5 652.3 984.7 653.2 981.5 654.7C978 656.3 974.5 656.3 971.5 658.1C969.2 659.5 967.5 661.2 966.5 663.7C965.4 666.7 965.3 669.9 965.8 673.1C966.2 675.7 966.8 678.3 969.1 679.7C971.6 681.2 974.9 681 978.1 680.4C981.4 679.8 983.9 678.5 986.5 676.4C988.8 674.5 990 672.3 991.4 669.7C993.4 666 994.6 661.8 996.4 658.1C997.6 655.6 998.2 653.1 1000.4 651.4C1002.7 649.6 1005.2 649.4 1008.1 649.1C1012 648.8 1015.8 649 1019.8 649.7C1022.9 650.2 1025.6 650.4 1028.1 652.4C1030.5 654.3 1031.2 656.9 1032.4 659.7C1034.1 663.5 1035.9 667.4 1036.4 671.4C1036.7 674.4 1036.1 677 1034.7 679.7C1033 682.8 1029.4 683.7 1028.1 687C1026.9 690.1 1027 693.2 1028.1 696.4C1029.4 700.3 1032.7 702.6 1034.7 706.4C1036.9 710.4 1037.3 714.1 1039.7 718C1041.8 721.4 1044.3 723.4 1047.1 726.3C1049.3 728.6 1050.8 731 1053.7 732.3C1056.6 733.6 1060 732.2 1062.4 733C1064 733.5 1065.7 736.3 1065.7 736.3C1065.7 736.3 1062.6 731.9 1062.4 729C1062.2 725.7 1064.4 723.1 1064.7 719.7C1065.2 714.5 1064.7 707.8 1064.7 703C1064.7 700.4 1064.7 695.7 1064.7 695.7M374.7 842.9C374.7 842.9 370.9 843 369.7 844.5C368.4 846.2 367.5 848.8 368 851.2C368.7 854.5 371 858.2 373 861.2C374.4 863.3 375.9 864.7 378 866.2C380.5 868 384.1 867.5 385.7 870.2C387.7 873.5 387.4 878.2 388 882.8C388.8 888.7 389 893.8 389.7 899.5C390.2 903.7 389.9 907.1 391.3 911.1C392.6 914.5 394.3 917 397 919.5C399.3 921.7 401.8 922.5 404.7 923.8C407 924.9 410.3 925 411.3 926.1C412.2 927.1 411 929.1 409.7 929.5C407.7 930 403.8 927.5 401.3 928.8C398.8 930.1 397 933.6 397 936.1C397 938.5 399.4 939.7 401.3 941.1C403.4 942.7 406.3 942.4 408 944.4C410 946.7 411.6 950.5 411.3 952.8C411 954.9 406 954.1 406.3 956.1C406.6 958.1 410.9 960.4 413 962.8C414.5 964.6 414.9 966.6 416.6 968.3C418.1 969.8 420.4 969.8 421.6 971.6C423.1 973.9 421.7 977.8 424 980C426.3 982.2 433.3 982.6 433.3 982.6M433.3 982.6C433.3 982.6 439.3 988.8 439.3 991.6C439.3 994.4 434.7 994.2 433.3 996.6C431.8 999.2 431.3 1002.2 431.6 1004.9C431.9 1007 435.9 1009.2 434.9 1009.9C433.9 1010.6 429.3 1009 426.6 1008.3C424.8 1007.8 423.2 1005.6 421.6 1006.6C419.5 1007.9 416.9 1012.2 416 1014.9C415.4 1016.7 415.9 1018.6 417.3 1019.9C419.1 1021.6 422.9 1021.1 425 1023.3C427.5 1026 429.1 1029.9 430 1033.2C430.6 1035.5 428.5 1037.6 429.3 1039.9C430.3 1042.6 433.5 1043.8 434.9 1046.6C436.5 1049.9 435.4 1053.4 437.3 1056.6C439.2 1059.7 442.6 1060.4 444.9 1063.2C447.2 1065.9 448.6 1068.8 449.9 1071.5C450.8 1073.2 450.5 1074.9 451.6 1076.5C453.6 1079.5 456.3 1083.5 459.9 1086.5C463.6 1089.6 468.3 1090.5 471.6 1093.2C473.9 1095.1 475.3 1097.1 476.6 1099.8C478 1102.6 477 1105.7 478.9 1108.2C481.2 1111.2 484.8 1112.5 488.2 1114.8C491.1 1116.7 496.6 1119.8 496.6 1119.8M496.6 1119.8C496.6 1119.8 504.1 1119.5 504.9 1121.5C505.7 1123.5 500.7 1126.8 500.5 1129.8C500.3 1132.5 502.4 1134.5 503.9 1136.5C505.1 1138 507.6 1137.9 508.2 1139.8C508.9 1141.8 506.2 1144.3 507.2 1146.5C508.2 1148.8 511.4 1149.3 513.2 1151.5C515.4 1154.2 516.1 1158.5 518.2 1159.8C520 1160.9 523.6 1156.8 523.9 1158.1C524.2 1159.4 519.7 1164.1 519.9 1166.4C520.1 1168.6 523.8 1167.9 524.9 1169.8C526.2 1172.1 525.5 1175.2 526.5 1178.1C527.8 1181.8 529.5 1184.8 531.5 1188.1C533 1190.7 534.5 1193 536.5 1194.7C538 1195.9 540.2 1195 541.5 1196.4C543.2 1198.1 543.1 1202.8 544.8 1203.1C546.5 1203.4 548.1 1199.4 549.8 1198.1C550.9 1197.2 551.9 1195.9 553.2 1196.4C554.9 1197.1 556.2 1201.1 558.2 1201.4C560.2 1201.7 561.4 1199.1 563.2 1198.1C564.5 1197.3 565.9 1195.5 567.1 1196.4C568.4 1197.4 568.5 1200.8 569.8 1203.1C571.3 1205.7 572.9 1207.4 574.8 1209.7C576.5 1211.6 578 1213.2 579.8 1214.7C581.1 1215.8 583.4 1215.5 583.8 1217.1C584.3 1219.1 583.6 1222.2 582.5 1224.7C581.5 1226.9 579.1 1227.5 578.1 1229.7C577.1 1231.9 576.8 1234 577.1 1236.4C577.4 1239.4 578.5 1242 579.8 1244.7C580.8 1246.8 582.3 1247.9 583.8 1249.7C585.3 1251.5 586.9 1252.6 588.1 1254.7C589.1 1256.5 590.4 1258.3 589.8 1260.3C588.9 1263 584.9 1264.7 583.8 1268C582.5 1272.2 583.1 1281.3 583.1 1281.3M1064.7 695.7C1064.7 695.7 1063.9 689.3 1065.7 686.4C1067.7 683.2 1074 682.4 1074.7 679.7C1075.4 677 1068.3 674.8 1069 673.1C1069.7 671.4 1078 671.4 1078 671.4L1088 656.4C1088 656.4 1094.5 653.4 1098 651.4C1100.8 649.8 1103.6 645.4 1105.3 646.4C1107 647.4 1104.8 654.7 1106.3 656.4C1107.8 658.1 1113 654.7 1113 654.7L1124.6 665.4L1138 669.1L1146.3 675.7L1159.6 673.1C1159.6 673.1 1160.3 679.8 1161.3 683C1162 685.4 1162.3 688.7 1164.6 689C1166.9 689.3 1169.6 685.3 1172.9 684.7C1176.5 684.1 1182.9 685.7 1182.9 685.7L1197.9 679.7L1206.2 686.4L1221.2 684.7C1221.2 684.7 1224.2 681.1 1226.2 681.4C1228.2 681.7 1228.7 685.8 1231.2 686.4C1233.9 687.1 1239.5 684.7 1239.5 684.7L1249.5 696.4C1249.5 696.4 1253.8 701.7 1254.5 704.7C1255 707.1 1252.9 711.3 1252.9 711.3L1247.9 723C1247.9 723 1241.2 725.8 1241.2 727C1241.2 728.2 1246.1 727.2 1247.9 729C1249.7 730.9 1250.2 733.5 1250.2 736.3C1250.2 740.1 1248.7 743.8 1247.9 748C1247.2 751.6 1245.6 754.4 1246.2 758C1246.8 761.4 1248.9 764.1 1251.2 766.3C1253.1 768.1 1255.6 767.8 1257.8 769C1260.8 770.7 1262.7 773.8 1266.2 774.6C1270.2 775.5 1277.8 773.6 1277.8 773.6L1267.8 782.9L1269.5 789.6L1279.5 801.3L1291.1 814.6L1309.5 799.6L1324.4 812.2L1336.1 819.6L1347.8 824.6C1347.8 824.6 1350.8 822.2 1352.8 822.2C1355.5 822.2 1361.1 824.6 1361.1 824.6L1374.4 822.9L1372.7 806.3C1372.7 806.3 1373.7 800.1 1376.1 797.9C1378.8 795.4 1386.1 793.6 1386.1 793.6L1399.4 793.6L1396 787.9L1422 786.3L1426 808.9L1428.7 808.9L1436 867.9C1436 867.9 1442.3 868.9 1444.3 867.9C1446 867 1444.7 862.9 1446 862.9C1447.3 862.9 1451 867.9 1451 867.9L1480 866.2C1480 866.2 1478 873.6 1475.3 876.8C1472.7 879.8 1466 882.8 1466 882.8L1456 891.2L1449.3 899.5L1442.7 911.1C1442.7 911.1 1439.3 917.3 1439.3 921.1C1439.3 924.9 1440.3 928.2 1442.7 931.1C1445.4 934.3 1452.7 937.1 1452.7 937.1L1461 927.8L1480.2 932.3L1466.3 973.9L1449.6 982.6L1443 999.9L1450.3 1011.6L1457.9 1025.9L1450.3 1028.2L1452.3 1044.9L1447.3 1045.5L1447.9 1059.2L1461.9 1059.2C1461.9 1059.2 1458.8 1067.3 1456.3 1069.8C1454.5 1071.6 1450.1 1069.1 1449.6 1071.5C1449.1 1074 1453.9 1079.2 1453.6 1082.5C1453.3 1085.4 1449.3 1085.6 1447.9 1088.1C1446.1 1091.2 1446.6 1095.1 1444.6 1098.1C1443 1100.6 1439.4 1100.5 1438 1103.1C1436.2 1106.4 1437.6 1112.1 1435.6 1114.8C1433.9 1117 1428 1116.5 1428 1116.5L1401.3 1129.1L1419.6 1165.7L1437.3 1156.4C1437.3 1156.4 1439.5 1162.7 1439.6 1166.4C1439.7 1170 1437.5 1173.4 1438 1176.4C1438.4 1178.7 1442.3 1181.4 1442.3 1181.4L1426.3 1204.7L1439.6 1196.4C1439.6 1196.4 1443.3 1200.8 1443 1203.7C1442.7 1206.7 1438.6 1208.2 1438 1211.4C1437.3 1214.9 1438.6 1218.3 1439.6 1221.3C1440.3 1223.4 1443 1226.3 1443 1226.3L1469.6 1197L1471.3 1236.3L1479.6 1221.3L1492.9 1214.7L1508.9 1206.4L1522.5 1264.8M583.1 1281.3C583.1 1281.3 588.3 1281.5 589.8 1283C591.3 1284.5 588.8 1288.2 590.5 1289C592.2 1289.8 596.1 1285.2 598.1 1287C600.1 1288.8 599.1 1294.5 600.4 1298C601.4 1300.7 603.5 1302 604.8 1304.6C605.9 1306.9 608 1308.9 607.1 1311.3C606.1 1314 601.9 1316.7 599.8 1318C598.8 1318.6 596.8 1316.8 596.5 1318C596.2 1319.3 596.8 1322.9 598.1 1324.6C599.3 1326.1 601.4 1326.6 603.1 1326.3C604.7 1326 604.8 1322.7 606.4 1323C608.1 1323.3 609.7 1327.6 611.4 1327.9C613.1 1328.2 613.5 1323.6 614.8 1324.6C616.1 1325.6 616.8 1330.2 618.1 1332.9C619.1 1334.8 619.4 1337.2 621.4 1337.9C623.4 1338.6 626.1 1337.3 628.1 1336.3C629.6 1335.5 629.7 1332.6 631.4 1332.9C633.1 1333.2 634.4 1337.9 636.4 1337.9C638.4 1337.9 640.1 1331.9 641.4 1332.9C642.7 1333.9 642.1 1339.9 643.1 1342.9C643.8 1344.9 644.9 1346.4 646.4 1347.9C647.9 1349.4 649.4 1351.6 651.4 1351.3C653.4 1351 655.1 1348 656.4 1346.3C657.3 1345.2 656.7 1342.9 658.1 1342.9C660.1 1342.9 663.7 1344.6 666.4 1346.3C668.6 1347.7 670.2 1349.1 671.4 1351.3C672.9 1354 672.4 1357.6 673.7 1359.6C674.6 1361 677 1359.9 678 1361.2C679.5 1363.2 680.4 1367.3 681.4 1369.6C681.9 1370.8 683.9 1372 683 1372.9C682 1373.9 677.4 1372.9 676.4 1374.6C675.4 1376.3 676.5 1379.5 678 1381.2C679.4 1382.8 682.5 1381.1 683.7 1382.9C685 1384.9 683.2 1388.9 684.7 1391.2C686.2 1393.4 689.7 1392.5 691.4 1394.5C693.4 1396.8 693.2 1400.9 694.7 1402.9C695.7 1404.2 698.4 1403 699 1404.5C699.7 1406.2 697.2 1408.9 698 1411.2C698.8 1413.5 702.1 1413.8 703 1416.2C704.1 1419.2 703.1 1422.6 703.7 1426.2C704.3 1429.3 705.5 1431.5 706.3 1434.5C707.1 1437.5 706.8 1440.1 708 1442.8C709 1445 712.3 1445.8 712.3 1447.8C712.3 1449.8 709.8 1451.2 708 1452.8C705.8 1454.8 703 1455.8 701.3 1457.8C700.1 1459.3 698.4 1461.5 699.7 1462.8C701 1464.1 705.1 1463.6 708 1464.5C711.1 1465.4 713.6 1466.5 716.3 1467.8C718.2 1468.8 719.2 1470.7 721.3 1471.1C724.6 1471.8 731.7 1470.1 733 1471.1C734.3 1472.1 730 1474.8 728 1476.1C726.4 1477.2 723.3 1476.3 723 1477.8C722.7 1479.3 724.5 1482 726.3 1483.5C728.6 1485.5 731.7 1486 734.6 1487.8C737.2 1489.4 739.2 1490.7 741.3 1492.8C743.4 1494.9 744.2 1497.3 746.3 1499.4C748.4 1501.5 750.9 1502.3 753 1504.4C755.1 1506.5 756.6 1509.3 758 1511.1C758.6 1511.9 759.2 1512.5 760 1513.2C761.7 1514.6 764.1 1516.7 766.7 1518.2C769.5 1519.8 772.1 1520.2 775 1521.5C778.7 1523.2 781.5 1524.6 785 1526.5C788.1 1528.2 793 1529.8 793.3 1531.5C793.6 1533.2 786.3 1533.6 786.6 1534.9C786.9 1536.2 792.1 1536.8 795 1538.2C798.1 1539.8 800.3 1541.5 803.3 1543.2C805.7 1544.5 807.5 1545.4 810 1546.5C812.9 1547.8 815.3 1548.6 818.3 1549.9C821.3 1551.2 823.3 1553.3 826.6 1553.8C829.6 1554.3 832.2 1552.5 834.9 1552.5C836.8 1552.5 839.9 1553.8 839.9 1553.8M839.9 1553.8C839.9 1553.8 834.6 1557.6 834.9 1559.8C835.2 1562 840 1562.2 841.6 1564.8C843.2 1567.4 841.7 1570.6 843.3 1573.2C844.9 1575.7 847.8 1576.1 849.9 1578.2C852 1580.3 852.7 1582.8 854.9 1584.8C857.5 1587.1 860.9 1588.1 863.2 1589.8C864.6 1590.8 867.1 1591.5 866.6 1593.1C865.9 1595.1 860.9 1596.8 859.9 1599.8C858.9 1602.7 860.3 1605.4 861.6 1608.1C862.7 1610.4 866.3 1610.8 866.6 1613.1C866.9 1615.4 862.5 1617.2 863.2 1619.8C863.9 1622.5 867.6 1624.4 869.9 1626.4C871.6 1627.8 874.9 1629.8 874.9 1629.8M874.9 1629.8C874.9 1629.8 870.2 1633.7 868.2 1636.4C865.5 1640.1 862.6 1644.8 861.6 1648.1C861.1 1649.9 861.5 1652.3 863.2 1653.1C865.9 1654.4 872.2 1652.4 874.9 1654.7C877.6 1657 877.3 1661.4 876.6 1664.7C876 1667.7 871.3 1668.7 871.6 1671.4C871.9 1674.1 876.5 1675.2 878.2 1678.1C880.1 1681.3 881.8 1684.7 881.5 1688C881.2 1691 877 1691.7 876.6 1694.7C876.1 1698.4 877.9 1702.7 879.2 1706.4C880.1 1709 881.8 1710.6 883.2 1713C885 1716 885.9 1718.7 888.2 1721.3C890.7 1724.2 893.6 1725.4 896.5 1728C899 1730.3 900.8 1732.3 903.2 1734.7C906.2 1737.7 910.8 1741 911.5 1743C912.1 1744.8 906.5 1743 906.5 1744.7C906.5 1746.4 910.3 1748.6 911.5 1751.3C912.8 1754.1 912.6 1756.6 913.2 1759.6C914.1 1763.9 914.5 1768.3 915.8 1773C916.9 1776.7 917.8 1779.7 919.8 1783C921.7 1786.3 924.8 1787.9 926.5 1791.3C928.4 1795.2 928.6 1798.7 929.8 1802.9C931 1807.1 930.9 1811.3 933.2 1814.6C935.2 1817.5 939.2 1817.3 941.5 1819.6C943.4 1821.5 944 1823.7 944.8 1826.2C945.8 1829.5 945.6 1832.7 946.5 1836.2C947.4 1839.9 949 1842.9 949.8 1846.2C950.4 1848.6 950.5 1852.9 950.5 1852.9M1522.5 1264.8L1535.5 1265.1L1548.9 1260.9L1553.9 1279.3L1546.4 1287.7L1553.9 1321.9L1569.7 1317.7C1569.7 1317.7 1568.4 1326.8 1570.6 1328.6C1572.8 1330.4 1578.6 1328.2 1580.6 1326.9C1582.1 1325.9 1580.6 1321.9 1580.6 1321.9L1602.3 1316.9C1602.3 1316.9 1600.7 1309.9 1600.7 1306.9C1600.7 1305 1602.8 1303.6 1602.3 1301.9C1601.8 1300.2 1597.8 1300.2 1598.1 1298.5C1598.4 1296.8 1603.5 1295.5 1604 1293.5C1604.5 1291.5 1601 1290.3 1600.7 1288.5C1600.4 1286.9 1602.3 1285.9 1602.3 1284.3C1602.3 1282.5 1600.7 1279.3 1600.7 1279.3L1614 1271.8L1647.4 1265.4L1664.1 1352L1636.6 1358.7L1656.5 1449.9L1614.8 1455.5L1611.5 1453.2L1613.2 1470.5L1622.5 1468.2L1631.5 1496.5L1641.5 1495.8L1639.8 1481.5L1674.1 1474.2L1685.8 1519.8L1671.5 1521.4L1669.1 1581.4L1648.1 1587L1657.1 1600.7L1692.1 1587L1698.1 1616.4L1724.7 1611.4C1724.7 1611.4 1728.2 1610.9 1729.7 1609.7C1731.7 1608.2 1733.2 1603 1734.7 1603.7C1736.2 1604.4 1735.6 1610.6 1737.1 1613C1738.3 1614.8 1742.4 1615.7 1742.4 1615.7L1754.7 1659.6L1804.7 1647L1805.7 1639.7L1824 1636.3L1830.6 1662.3L1826.3 1664.6L1838 1688.9L1850.3 1682.3L1847.9 1676.3L1859.6 1670.3C1859.6 1670.3 1865.2 1673.8 1867.9 1676.3C1870.7 1678.9 1872.4 1682.4 1874.6 1684.6C1875.9 1685.9 1879.6 1686.3 1878.9 1687.3C1878.2 1688.3 1874 1688.7 1871.3 1689.6C1868.8 1690.5 1864.6 1692.3 1864.6 1692.3L1854.6 1698.9L1859.6 1707.9L1867.9 1718.9L1872.9 1727.9L1876.3 1746.2L1875.6 1766.2L1874.6 1776.2L1878.9 1790.2L1871.3 1799.5L1869.6 1812.8L1864.6 1819.5L1867.9 1839.5L1872.9 1849.5L1878.9 1862.8C1878.9 1862.8 1878.4 1869.2 1876.2 1870.6C1874 1872 1870.2 1870.8 1867.9 1869.9C1866.1 1869.2 1865.8 1865.9 1864.5 1865.9C1863.2 1865.9 1861.5 1868.1 1861.2 1869.9C1860.7 1872.7 1860.5 1876.7 1862.2 1879.9C1863.8 1882.9 1868.4 1883.4 1869.5 1885.9C1870.5 1888.2 1867.9 1892.6 1867.9 1892.6L1837.9 1902.5M1837.9 1902.5C1837.9 1902.5 1840.9 1909 1842.9 1911.5C1844.3 1913.2 1847.2 1913.2 1847.9 1914.9C1848.6 1916.6 1845.7 1918.1 1846.2 1919.9C1846.9 1922.2 1848.7 1924.9 1851.2 1926.5C1853.8 1928.1 1857.5 1926.7 1859.5 1928.2C1861.2 1929.4 1859.7 1932.3 1861.2 1933.8C1862.9 1935.5 1865.6 1935.3 1867.9 1936.5C1869.8 1937.5 1871.4 1940.8 1872.9 1939.8C1874.4 1938.8 1874.2 1933.5 1875.5 1931.5C1876.4 1930.2 1878.6 1928.6 1879.5 1929.9C1880.4 1931.2 1880.9 1935.7 1880.2 1938.2C1879.7 1940.2 1876.2 1942.5 1876.2 1942.5C1876.2 1942.5 1881 1943 1882.9 1941.5C1885.2 1939.6 1886.1 1935.9 1887.8 1933.2C1889 1931.4 1890.1 1928.2 1891.2 1928.2C1892.3 1928.2 1893.3 1931.2 1893.5 1933.2C1893.7 1935.1 1891.3 1936.5 1892.2 1938.2C1893.1 1939.9 1897.1 1939.5 1897.8 1941.5C1898.5 1943.5 1895.2 1945.7 1895.5 1948.2C1895.8 1950.9 1897.2 1953.2 1899.5 1954.8C1902 1956.5 1905.8 1955.2 1907.8 1956.5C1909.4 1957.6 1910.8 1960.2 1909.5 1961.5C1908.2 1962.8 1903.3 1962.1 1901.2 1963.2C1899.7 1964 1898 1965.6 1898.8 1967.1C1899.8 1969 1903.4 1971.6 1906.2 1972.5C1908.5 1973.2 1910.8 1970.2 1912.8 1971.5C1914.8 1972.8 1913.9 1978 1916.2 1979.1C1918.5 1980.2 1921.4 1977 1924.5 1977.1C1927.6 1977.2 1930.8 1977.9 1932.8 1979.8C1934.6 1981.5 1934.5 1984.2 1934.5 1986.5C1934.5 1988.4 1931.5 1990.2 1932.8 1991.5C1934.1 1992.8 1938.8 1994.1 1941.1 1993.1C1943.4 1992.1 1942.8 1987 1944.5 1986.5C1946.2 1986 1947.6 1989.2 1949.5 1990.5C1951.2 1991.6 1953.7 1994.6 1954.4 1993.1C1955.1 1991.6 1951.8 1984.1 1952.8 1983.1C1953.8 1982.1 1956.7 1986.8 1959.4 1988.1C1962.2 1989.5 1965.1 1988.8 1967.8 1990.5C1970.2 1992 1971.7 1994.1 1972.8 1996.5C1973.7 1998.4 1972.1 2001.7 1973.4 2002.4C1974.7 2003.1 1978.3 2001.9 1979.4 1999.8C1980.7 1997.3 1979.1 1992.1 1980.1 1989.8C1980.8 1988.3 1983 1987.3 1984.4 1988.1C1986.1 1989.1 1988 1992.1 1988.7 1994.8C1989.3 1997.1 1987.7 2001.4 1987.7 2001.4L1972.8 2011.4C1972.8 2011.4 1965.5 2016.8 1962.8 2018.1C1961.7 2018.6 1959.4 2018.1 1959.4 2018.1L1955.4 2032.1L1939.5 2014.8L1931.1 2014.8L1914.5 2027.1L1899.5 2023.1L1895.5 2027.1L1868.9 2016.4L1842.2 2039.1L1843.6 2054.7L1796.3 2029.1L1805.6 2021.4L1789.6 2006.4L1786.3 2002.4L1779.6 1978.1L1774.6 1977.1L1761.3 1962.5L1753.6 1966.5L1762.3 1986.5C1762.3 1986.5 1757.2 1986.8 1756.3 1988.1C1755.4 1989.4 1758 1993.1 1758 1993.1L1731.3 1999.8C1731.3 1999.8 1730.5 1990.4 1728 1989.1C1725.5 1987.8 1719 1993.1 1719 1993.1L1729.7 2050.4L1688 2058.1C1688 2058.1 1688.9 2051.4 1686.4 2050.4C1683.9 2049.4 1675.7 2053.1 1675.7 2053.1L1665.7 2008.1L1638.1 2006.4C1638.1 2006.4 1633.4 2004.4 1631.4 2002.4C1628.7 1999.7 1626.5 1996 1624.8 1993.1C1623.8 1991.5 1622.8 1990 1623.1 1988.1C1623.4 1985.8 1624.9 1983.7 1626.4 1981.5C1627.9 1979.2 1631.4 1975.8 1631.4 1975.8L1600.8 1949.2M1600.8 1949.2L1570.5 1988.1L1577.2 2004.8L1574.8 2006.4L1562.5 1979.8L1548.2 1944.8L1539.9 1949.8L1542.5 1954.8L1539.9 1959.8L1543.2 1966.5L1529.9 1972.5L1529.2 1981.5L1533.2 1988.1L1526.5 1990.5L1537.2 2014.8L1524.9 2020.4L1521.5 2013.8L1505.9 2023.1L1507.2 2031.4L1492.6 2046.4L1473.3 2039.7L1492.6 2015.8L1484.9 2008.1L1483.3 1983.1L1479.3 1978.1L1496.6 1961.5L1494.9 1951.5L1488.2 1951.5L1485.9 1905.9L1447.3 1916.5L1447.3 1939.8L1393.4 1941.1M1393.4 1941.1L1394.7 1948.1L1380.8 1948.8L1380.8 1957.2L1375.9 1959.9L1352.9 1960.6L1350.1 1962M1350.1 1962L1347.3 1969.7L1373.8 1968.3L1373.8 1982.9L1322.3 1986.4L1327.1 1992L1329.2 2008.7L1340.4 2036.6L1351.5 2058.9L1359.9 2078.4L1361.3 2085.4L1359.9 2093.1L1354.3 2097.3L1346 2118.9L1339 2137L1338.8 2139.1M1338.8 2139.1L1366.8 2163.1M1366.8 2163.1L1402.8 2190.7L1340.2 2266.3M1340.2 2266.3L1373.5 2305.6L1357.8 2342.2L1316.9 2352.2M1316.9 2352.2L1262.6 2364.7M950.5 1852.9C950.5 1852.9 952.9 1861.3 953.1 1866.2C953.3 1871 952.4 1874.8 951.5 1879.5C950.6 1884.4 950.1 1888.8 948.1 1892.8C946.6 1895.8 942.4 1896.2 941.5 1899.5C940.4 1903.5 941.8 1908.8 942.5 1912.8C942.9 1915.3 945.3 1917 944.8 1919.5C944.3 1922.2 940.9 1923.3 939.8 1926.1C938.5 1929.4 937.9 1932.5 938.2 1936.1C938.5 1939.9 941.8 1942.8 941.5 1946.1C941.2 1949.1 937.6 1950 936.5 1952.8C935.2 1956.1 934.1 1959.5 934.8 1962.8C935.4 1965.7 937.9 1967.1 939.8 1969.4C942.1 1972.1 943.9 1974.3 946.6 1976.6C949.9 1979.4 955.3 1980.3 956.6 1983.3C957.9 1986.3 952.6 1988.4 953.2 1991.6C953.9 1994.9 958.5 1996.3 959.9 1999.9C961.6 2004.2 962.2 2008.5 961.5 2013.2C960.9 2017.2 959.6 2020.5 956.6 2023.2C953.8 2025.7 947.9 2023.8 946.6 2026.5C945.3 2029.2 950 2032.8 949.9 2036.5C949.8 2039.8 945.9 2044.9 945.9 2044.9M945.9 2044.9C945.9 2044.9 941.7 2047.8 939.9 2049.9C937.4 2052.9 935.9 2056.5 933.2 2059.8C931.1 2062.4 927.3 2063.8 926.6 2066.5C926 2069.1 930.5 2070.6 929.9 2073.2C929.2 2076.2 924.2 2077.8 923.3 2081.5C922.3 2085.5 922.9 2089.4 924.9 2093.1C926.7 2096.5 931.2 2097.5 933.2 2099.8C934.4 2101.2 935.6 2103 934.9 2104.8C933.9 2107.5 930.9 2110.4 928.2 2113.1C925.5 2115.8 921.2 2116.8 919.9 2119.8C918.7 2122.6 922.6 2126.1 921.6 2128.1C920.6 2130.1 916.9 2130.8 914.9 2129.8C912.9 2128.8 913.6 2124.1 911.6 2123.1C909.6 2122.1 906.7 2123 904.9 2124.8C902.6 2127.1 901.1 2131 899.9 2134.8C898.7 2138.8 899.6 2143.4 898.3 2146.4C897.4 2148.4 892.6 2148.1 893.3 2149.8C894 2151.5 901.3 2152.4 901.6 2154.7C901.9 2157 897.9 2159.7 894.9 2161.4C892.2 2162.9 889.3 2162.1 886.6 2163.1C884.6 2163.9 882.1 2164.3 881.6 2166.4C880.9 2169.1 883.6 2172.8 883.3 2176.4C883 2179.6 879.3 2181.7 880 2184.7C880.7 2187.7 884.5 2188.7 886.6 2191.4C888.7 2194.2 889.3 2197.1 891.6 2199.7C893.6 2202 898 2202.4 898.3 2204.7C898.6 2207 892.7 2208.5 893.3 2211.4C894 2214.4 901.3 2216.4 901.6 2219.7C901.9 2223 896.4 2224.5 894.9 2228C893.3 2231.9 893.3 2235.4 893.3 2239.7C893.3 2244.5 895.2 2248.3 894.9 2253C894.6 2256.8 892.6 2259.7 891.6 2263C890.9 2265.3 890 2269.6 890 2269.6M890 2269.6C890 2269.6 886 2271.1 885 2273C883.7 2275.7 884 2279.7 883.3 2283C882.8 2285.4 883.3 2287.9 881.6 2289.6C879.9 2291.3 876.6 2289.4 875 2291.3C873.3 2293.3 872.3 2296.9 873.3 2299.6C874.3 2302.3 879 2301.9 880 2304.6C881 2307.3 879.1 2310 878.3 2312.9C877.3 2316.6 875.3 2319.1 875 2322.9C874.7 2327.6 877.1 2331.8 876.6 2336.2C876.2 2339.7 872.3 2341.5 872.6 2345C872.9 2348.8 876.4 2351.3 878.2 2355C879.6 2357.9 881.1 2360.1 881.6 2363.3C882 2366.3 880.3 2368.6 880.6 2371.6C880.9 2374.8 882 2377.1 883.2 2380C884.7 2383.7 886.8 2386.2 888.2 2389.9C889.5 2393.4 889.7 2396.3 890.6 2399.9C891.5 2403.5 893.5 2406.2 893.2 2409.9C892.9 2413.8 889.7 2416.6 889.2 2419.9C888.8 2422.3 891 2424.6 890.6 2426.6C890.3 2428.3 887.3 2428.2 887.2 2429.9C887.1 2432.6 887.7 2437.1 889.9 2439.9C891.9 2442.5 897 2440.8 898.2 2443.9C899.5 2447.2 898.9 2453.3 896.6 2456.5C894.4 2459.6 888.3 2457.2 886.6 2459.9C884.9 2462.6 888.2 2466.6 888.2 2469.9C888.2 2472.3 886.4 2474.1 886.6 2476.5C886.8 2479.5 888.9 2481.7 889.2 2484.8C889.5 2488.4 887.4 2491.8 888.2 2494.8C888.9 2497.3 892.2 2497.5 893.2 2499.8C894.5 2502.8 895.7 2507.5 894.9 2509.8C894.2 2511.8 889.9 2510.5 889.2 2511.5C888.5 2512.5 890.5 2513.8 891.6 2514.8C894.1 2517 897.5 2521 901.5 2522.5C904.9 2523.8 910 2520.7 911.5 2522.5C913 2524.3 910.1 2528.4 909.2 2531.5C908.5 2533.9 906.8 2535.6 907.2 2538.1C907.7 2541.1 910.2 2543.4 911.5 2546.5C913 2550 913.6 2553.7 914.9 2556.4C915.7 2557.9 917.9 2558.1 918.2 2559.8C918.7 2562.1 916.9 2565.1 917.2 2568.1C917.5 2571.8 919.9 2575.1 919.9 2578.1C919.9 2580.1 917.2 2581.1 917.2 2583.1C917.2 2586.8 918.8 2592.1 919.9 2596.4C920.6 2599.4 922.5 2601.6 922.5 2604.7C922.5 2607.9 920.6 2610 919.9 2613.1C919.1 2616.6 917.5 2620.3 918.2 2623C918.7 2625.1 923.9 2624.7 923.2 2626.4C922.5 2628.1 917.5 2629.1 914.9 2631.4C912.7 2633.4 911.2 2635.3 909.9 2638C908.8 2640.2 909.5 2643.7 908.2 2644.7C906.9 2645.7 905.1 2643 903.2 2643C900.9 2643 898.9 2644.8 896.6 2644.7C894.6 2644.6 893.5 2641.8 891.6 2642.4C888.9 2643.3 885.7 2646.1 883.2 2649C880.8 2651.8 878.9 2655.2 878.2 2658C877.8 2659.9 878.8 2661.5 879.9 2663C881.9 2665.7 885.5 2668.6 888.2 2671.3C890 2673.1 891.9 2674.1 893.2 2676.3C894.4 2678.5 893.2 2681.1 894.9 2683C896.6 2684.9 898.9 2685.5 901.5 2685.6C904 2685.7 906.2 2683.1 908.2 2683.6C910.1 2684.1 909.8 2687.8 911.5 2688C913.2 2688.2 916.5 2684.6 916.5 2684.6C916.5 2684.6 913.1 2690.7 913.2 2693C913.3 2694.9 916.6 2694.5 917.2 2696.3C917.9 2698.3 915.8 2700.7 916.5 2703C917.4 2705.7 921 2706.7 921.5 2709.6C922 2712.6 919.2 2715.2 919.2 2717.9C919.2 2719.9 922 2721.6 921.5 2722.9C921 2724.2 917 2722.9 916.5 2724.6C916 2726.3 919.3 2729.3 919.2 2731.3C919.1 2733 915.8 2732.9 915.9 2734.6C916 2736.3 918.1 2738.2 919.9 2739.6C922 2741.2 925 2740.7 926.5 2742.9C928.4 2745.6 927.9 2749.4 929.2 2752.9C930.5 2756.4 931.8 2759.9 933.8 2762.2C935.2 2763.8 937.3 2763.7 939.2 2764.6C941.7 2765.7 944 2767.4 946.5 2767.9C948.3 2768.2 950.5 2768.4 951.5 2766.9C954.5 2762.6 957.5 2753.5 961.5 2746.3C965.3 2739.4 968 2733.9 973.1 2727.9C980.2 2719.6 997.1 2704.6 997.1 2704.6M1109 2567.1L1113 2553.8L1121.3 2556.4L1129.7 2553.8M1129.7 2553.8L1133.6 2555.8L1137 2562.4L1143 2560.4L1150.3 2560.4L1154.6 2556.4L1151.3 2543.1L1148 2533.1L1144.6 2526.5L1146.3 2523.8L1168.9 2529.8L1216.2 2518.1L1211.2 2490.5L1256.2 2476.5L1246.2 2435.9L1238.9 2402.6L1242.9 2398.3L1237.9 2380.6L1250.2 2377.3L1249.5 2368.3L1262.6 2364.7M1109 2567.1L1105.7 2581.4L1101.3 2589.7L1093.7 2598.1L1092.4 2603.1L1094.7 2611.4L1111.3 2608.1L1129 2675.7L1101.3 2683.6L1114 2740.3L1068 2751.2L1060.4 2751.2L1059.7 2727.9L997.1 2704.6"/>
</g>
</svg>
<svg width="4096" height="3299" viewBox="0 0 4096 3299" xmlns="http://www.w3.org/2000/svg">
<g transform="translate(3220,520) scale(0.15552)" fill="none" stroke="#343a52" stroke-width="38" stroke-linejoin="miter">
<path d="M682 926 C560 915 420 860 330 700 C270 590 260 470 290 380 C330 250 450 145 600 145 L780 145 C930 145 1045 250 1080 380 C1110 480 1095 600 1040 700 C950 860 810 915 682 926"/>
<path d="M420 570 L420 690 C420 830 540 926 682 926 C824 926 940 830 940 690 L940 570"/>
<path d="M492 355 C560 500 780 620 982 545"/>
<path d="M375 572 C440 565 510 510 545 450"/>
<path d="M168 1600 L168 1240 C168 1080 290 975 420 975 L945 975 C1080 975 1198 1080 1198 1240 L1198 1600"/>
<path d="M148 1596 L1218 1596"/>
<path d="M373 1325 L373 1590 M990 1325 L990 1590"/>
<path d="M482 985 L465 1155 L520 1180 L478 1205 L682 1560 L882 1205 L840 1180 L895 1155 L878 985"/>
<path d="M520 985 L682 1460 L815 985"/>
<path d="M560 985 C570 1050 620 1092 682 1092 C744 1092 785 1050 795 985"/>
<circle cx="680" cy="1177" r="22" stroke-width="26"/>
</g>
<g transform="translate(3220,819) scale(0.15552)" fill="none" stroke="#343a52" stroke-width="38" stroke-linejoin="miter">
<path d="M382 545 L364 370 C355 240 470 134 610 134 L825 134 C960 134 1070 240 1062 370 L1045 545"/>
<path d="M528 342 C580 470 840 470 895 342"/>
<path d="M545 395 C515 410 500 440 500 470 L500 600 C500 650 470 675 427 675"/>
<path d="M880 395 C915 410 930 440 930 470 L930 600 C930 650 960 675 1000 675"/>
<path d="M410 562 C360 565 335 595 335 625 C335 665 365 700 420 700"/>
<path d="M1018 562 C1065 565 1092 595 1092 625 C1092 665 1060 700 1008 700"/>
<path d="M427 502 L427 700 C427 830 560 926 710 926 C860 926 1000 830 1000 700 L1000 502"/>
<path d="M162 1612 L162 1240 C162 1090 300 978 450 978 L975 978 C1120 978 1260 1090 1260 1240 L1260 1612"/>
<path d="M142 1612 L1280 1612" stroke-width="42"/>
<path d="M380 1335 L380 1600 M1060 1335 L1060 1600"/>
<path d="M513 992 L473 1091 L535 1158 L495 1185 L706 1594 L919 1185 L879 1158 L941 1091 L899 992"/>
<path d="M584 994 L706 1522 L828 994"/>
<path d="M613 1097 L706 990 L799 1097"/>
</g>
<g transform="translate(3220,1119) scale(0.15552)" fill="none" stroke="#343a52" stroke-width="38" stroke-linejoin="miter">
<path d="M682 926 C560 915 420 860 330 700 C270 590 260 470 290 380 C330 250 450 145 600 145 L780 145 C930 145 1045 250 1080 380 C1110 480 1095 600 1040 700 C950 860 810 915 682 926"/>
<path d="M420 570 L420 690 C420 830 540 926 682 926 C824 926 940 830 940 690 L940 570"/>
<path d="M492 355 C560 500 780 620 982 545"/>
<path d="M375 572 C440 565 510 510 545 450"/>
<path d="M168 1600 L168 1240 C168 1080 290 975 420 975 L945 975 C1080 975 1198 1080 1198 1240 L1198 1600"/>
<path d="M148 1596 L1218 1596"/>
<path d="M373 1325 L373 1590 M990 1325 L990 1590"/>
<path d="M482 985 L465 1155 L520 1180 L478 1205 L682 1560 L882 1205 L840 1180 L895 1155 L878 985"/>
<path d="M520 985 L682 1460 L815 985"/>
<path d="M560 985 C570 1050 620 1092 682 1092 C744 1092 785 1050 795 985"/>
<circle cx="680" cy="1177" r="22" stroke-width="26"/>
</g>
<g transform="translate(3390,1117) scale(0.15552)" fill="none" stroke="#343a52" stroke-width="38" stroke-linejoin="miter">
<path d="M382 545 L364 370 C355 240 470 134 610 134 L825 134 C960 134 1070 240 1062 370 L1045 545"/>
<path d="M528 342 C580 470 840 470 895 342"/>
<path d="M545 395 C515 410 500 440 500 470 L500 600 C500 650 470 675 427 675"/>
<path d="M880 395 C915 410 930 440 930 470 L930 600 C930 650 960 675 1000 675"/>
<path d="M410 562 C360 565 335 595 335 625 C335 665 365 700 420 700"/>
<path d="M1018 562 C1065 565 1092 595 1092 625 C1092 665 1060 700 1008 700"/>
<path d="M427 502 L427 700 C427 830 560 926 710 926 C860 926 1000 830 1000 700 L1000 502"/>
<path d="M162 1612 L162 1240 C162 1090 300 978 450 978 L975 978 C1120 978 1260 1090 1260 1240 L1260 1612"/>
<path d="M142 1612 L1280 1612" stroke-width="42"/>
<path d="M380 1335 L380 1600 M1060 1335 L1060 1600"/>
<path d="M513 992 L473 1091 L535 1158 L495 1185 L706 1594 L919 1185 L879 1158 L941 1091 L899 992"/>
<path d="M584 994 L706 1522 L828 994"/>
<path d="M613 1097 L706 990 L799 1097"/>
</g>
<g transform="translate(2550,1690) scale(0.21311)" stroke="#30364f" stroke-width="33" stroke-linejoin="round" stroke-linecap="round"><path d="M115 240 L150 205 L195 183 L250 188 L335 187 L375 160 L400 165 L450 135 L510 148 L555 170 L590 200 L635 218 L650 245 L715 255 L745 275 L735 300 L760 310 L785 335 L810 300 L870 310 L905 320 L945 380 L970 400 L1010 383 L1035 410 L1050 440 L1055 490 L1045 545 L1028 598 L990 550 L965 525 L925 530 L895 545 L865 565 L830 545 L790 515 L750 535 L735 520 L715 515 L680 535 L655 565 L620 570 L540 557 L500 580 L445 615 L410 585 L370 545 L345 500 L330 450 L300 390 L260 320 L225 270 L175 240 L115 240 Z" fill="none"/><path d="M445 615 L500 580 L540 557 L620 570 L655 565 L680 535 L715 515 L735 520 L750 535 L790 515 L830 545 L865 565 L895 545 L925 530 L965 525 L990 550 L1028 598 L1030 620 L1060 650 L1100 675 L1140 710 L1170 720 L1180 750 L1170 800 L1185 830 L1185 860 L1150 875 L1100 890 L1040 910 L990 960 L960 970 L905 960 L850 1000 L810 1025 L760 1030 L700 1045 L690 1010 L665 940 L640 870 L600 830 L560 790 L540 750 L505 715 L470 680 L445 615 Z" fill="#fdb22b"/><path d="M700 1045 L760 1030 L810 1025 L850 1000 L905 960 L960 970 L990 960 L1040 910 L1100 890 L1150 875 L1185 860 L1190 875 L1240 900 L1295 930 L1315 960 L1322 1000 L1318 1080 L1350 1105 L1395 1140 L1375 1160 L1320 1168 L1285 1175 L1245 1130 L1205 1150 L1170 1135 L1135 1120 L1100 1130 L1080 1115 L1065 1160 L1055 1165 L1055 1090 L1020 1100 L975 1120 L955 1140 L955 1190 L975 1260 L960 1300 L950 1335 L920 1360 L880 1380 L880 1420 L840 1450 L800 1490 L795 1530 L800 1580 L760 1590 L720 1595 L695 1610 L670 1575 L645 1540 L672 1515 L665 1470 L655 1420 L650 1350 L655 1280 L675 1200 L700 1120 L695 1080 L700 1045 Z" fill="none"/></g>
<g transform="translate(3083,1690) scale(0.21311)" stroke="#30364f" stroke-width="33" stroke-linejoin="round" stroke-linecap="round"><path d="M115 240 L150 205 L195 183 L250 188 L335 187 L375 160 L400 165 L450 135 L510 148 L555 170 L590 200 L635 218 L650 245 L715 255 L745 275 L735 300 L760 310 L785 335 L810 300 L870 310 L905 320 L945 380 L970 400 L1010 383 L1035 410 L1050 440 L1055 490 L1045 545 L1028 598 L990 550 L965 525 L925 530 L895 545 L865 565 L830 545 L790 515 L750 535 L735 520 L715 515 L680 535 L655 565 L620 570 L540 557 L500 580 L445 615 L410 585 L370 545 L345 500 L330 450 L300 390 L260 320 L225 270 L175 240 L115 240 Z" fill="#fdb22b"/><path d="M445 615 L500 580 L540 557 L620 570 L655 565 L680 535 L715 515 L735 520 L750 535 L790 515 L830 545 L865 565 L895 545 L925 530 L965 525 L990 550 L1028 598 L1030 620 L1060 650 L1100 675 L1140 710 L1170 720 L1180 750 L1170 800 L1185 830 L1185 860 L1150 875 L1100 890 L1040 910 L990 960 L960 970 L905 960 L850 1000 L810 1025 L760 1030 L700 1045 L690 1010 L665 940 L640 870 L600 830 L560 790 L540 750 L505 715 L470 680 L445 615 Z" fill="none"/><path d="M700 1045 L760 1030 L810 1025 L850 1000 L905 960 L960 970 L990 960 L1040 910 L1100 890 L1150 875 L1185 860 L1190 875 L1240 900 L1295 930 L1315 960 L1322 1000 L1318 1080 L1350 1105 L1395 1140 L1375 1160 L1320 1168 L1285 1175 L1245 1130 L1205 1150 L1170 1135 L1135 1120 L1100 1130 L1080 1115 L1065 1160 L1055 1165 L1055 1090 L1020 1100 L975 1120 L955 1140 L955 1190 L975 1260 L960 1300 L950 1335 L920 1360 L880 1380 L880 1420 L840 1450 L800 1490 L795 1530 L800 1580 L760 1590 L720 1595 L695 1610 L670 1575 L645 1540 L672 1515 L665 1470 L655 1420 L650 1350 L655 1280 L675 1200 L700 1120 L695 1080 L700 1045 Z" fill="none"/></g>
<g transform="translate(3616,1690) scale(0.21311)" stroke="#30364f" stroke-width="33" stroke-linejoin="round" stroke-linecap="round"><path d="M115 240 L150 205 L195 183 L250 188 L335 187 L375 160 L400 165 L450 135 L510 148 L555 170 L590 200 L635 218 L650 245 L715 255 L745 275 L735 300 L760 310 L785 335 L810 300 L870 310 L905 320 L945 380 L970 400 L1010 383 L1035 410 L1050 440 L1055 490 L1045 545 L1028 598 L990 550 L965 525 L925 530 L895 545 L865 565 L830 545 L790 515 L750 535 L735 520 L715 515 L680 535 L655 565 L620 570 L540 557 L500 580 L445 615 L410 585 L370 545 L345 500 L330 450 L300 390 L260 320 L225 270 L175 240 L115 240 Z" fill="none"/><path d="M445 615 L500 580 L540 557 L620 570 L655 565 L680 535 L715 515 L735 520 L750 535 L790 515 L830 545 L865 565 L895 545 L925 530 L965 525 L990 550 L1028 598 L1030 620 L1060 650 L1100 675 L1140 710 L1170 720 L1180 750 L1170 800 L1185 830 L1185 860 L1150 875 L1100 890 L1040 910 L990 960 L960 970 L905 960 L850 1000 L810 1025 L760 1030 L700 1045 L690 1010 L665 940 L640 870 L600 830 L560 790 L540 750 L505 715 L470 680 L445 615 Z" fill="none"/><path d="M700 1045 L760 1030 L810 1025 L850 1000 L905 960 L960 970 L990 960 L1040 910 L1100 890 L1150 875 L1185 860 L1190 875 L1240 900 L1295 930 L1315 960 L1322 1000 L1318 1080 L1350 1105 L1395 1140 L1375 1160 L1320 1168 L1285 1175 L1245 1130 L1205 1150 L1170 1135 L1135 1120 L1100 1130 L1080 1115 L1065 1160 L1055 1165 L1055 1090 L1020 1100 L975 1120 L955 1140 L955 1190 L975 1260 L960 1300 L950 1335 L920 1360 L880 1380 L880 1420 L840 1450 L800 1490 L795 1530 L800 1580 L760 1590 L720 1595 L695 1610 L670 1575 L645 1540 L672 1515 L665 1470 L655 1420 L650 1350 L655 1280 L675 1200 L700 1120 L695 1080 L700 1045 Z" fill="#fdb22b"/></g>
<rect x="92.3" y="3009" width="1854.7" height="18.6" rx="9.3" fill="#fcfcfc" stroke="#d6dbe6" stroke-width="8"/>
<circle cx="114.6" cy="2981" r="8" fill="#d6dbe6"/>
<circle cx="315.7" cy="2981" r="8" fill="#d6dbe6"/>
<circle cx="516.8" cy="2981" r="8" fill="#d6dbe6"/>
<circle cx="717.9" cy="2981" r="8" fill="#d6dbe6"/>
<circle cx="919.0" cy="2981" r="8" fill="#d6dbe6"/>
<circle cx="1120.1" cy="2981" r="8" fill="#d6dbe6"/>
<circle cx="1321.2" cy="2981" r="8" fill="#d6dbe6"/>
<circle cx="1522.3" cy="2981" r="8" fill="#d6dbe6"/>
<circle cx="1723.4" cy="2981" r="8" fill="#d6dbe6"/>
<circle cx="1924.5" cy="2981" r="8" fill="#2e3450"/>
<path d="M1924.4 2999 L1947.5 3050.5 L1924.4 3037.5 L1901.8 3050.5 Z" fill="#2e3450"/>
</svg>
<div class="t" id="title" style="left:680.4px;top:58.9px;font-size:96px;line-height:96px;font-weight:700;color:#333333;transform:scaleX(1.0705)">Number of usual resident population in territorial profile</div>
<div class="t" id="subtitle" style="left:977.0px;top:169.7px;font-size:48px;line-height:48px;font-weight:400;color:#333333;transform:scaleX(0.9960)">BY SEX, DISTRICTS AND REGIONS (THOUSAND PERSONS, AT THE BEGINNING OF THE YEAR)</div>
<div class="t" id="select" style="left:1414.4px;top:368.7px;font-size:50px;line-height:50px;font-weight:700;color:#aaaaaa;transform:scaleX(0.9999)">Select the district</div>
<div class="t" id="year" style="left:2501.0px;top:385.4px;font-size:82px;line-height:82px;font-weight:700;color:#000000;transform:scaleX(0.9850)">2024</div>
<div class="t" id="city" style="left:3243.4px;top:385.4px;font-size:82px;line-height:82px;font-weight:700;color:#000000;transform:scaleX(0.9543)">Chisinau</div>
<div class="t" id="lg0" style="left:2597.3px;top:535.0px;font-size:54px;line-height:54px;font-weight:400;color:#000000;transform:scaleX(1.0409)">≤ 15 thou.</div>
<div class="t" id="lg1" style="left:2594.3px;top:644.6px;font-size:54px;line-height:54px;font-weight:400;color:#000000;transform:scaleX(0.9946)">16 thou. - 36 thou.</div>
<div class="t" id="lg2" style="left:2594.0px;top:754.1px;font-size:54px;line-height:54px;font-weight:400;color:#000000;transform:scaleX(0.9953)">37 thou. - 57 thou.</div>
<div class="t" id="lg3" style="left:2594.0px;top:863.7px;font-size:54px;line-height:54px;font-weight:400;color:#000000;transform:scaleX(0.9953)">58 thou. - 78 thou.</div>
<div class="t" id="lg4" style="left:2594.0px;top:973.2px;font-size:54px;line-height:54px;font-weight:400;color:#000000;transform:scaleX(0.9953)">79 thou. - 99 thou.</div>
<div class="t" id="lg5" style="left:2597.3px;top:1082.8px;font-size:54px;line-height:54px;font-weight:400;color:#000000;transform:scaleX(1.0297)">≥ 100 thou.</div>
<div class="t" id="lg6" style="left:2593.5px;top:1191.6px;font-size:54px;line-height:54px;font-weight:400;color:#000000;transform:scaleX(0.9807)">no data</div>
<div class="t" id="v1" style="left:3673.0px;top:587.5px;font-size:82px;line-height:82px;font-weight:700;color:#000000;transform:scaleX(0.9812)">362.9</div>
<div class="t" id="l1" style="left:3673.2px;top:687.5px;font-size:54px;line-height:54px;font-weight:400;color:#000000;transform:scaleX(1.0096)">women</div>
<div class="t" id="v2" style="left:3673.0px;top:888.7px;font-size:82px;line-height:82px;font-weight:700;color:#000000;transform:scaleX(0.9812)">302.6</div>
<div class="t" id="l2" style="left:3671.5px;top:988.4px;font-size:54px;line-height:54px;font-weight:400;color:#000000;transform:scaleX(1.0120)">men</div>
<div class="t" id="v3" style="left:3670.8px;top:1187.6px;font-size:82px;line-height:82px;font-weight:700;color:#000000;transform:scaleX(0.9846)">665.5</div>
<div class="t" id="l3" style="left:3671.7px;top:1287.1px;font-size:54px;line-height:54px;font-weight:400;color:#000000;transform:scaleX(1.0427)">total</div>
<div class="t" id="r1" style="left:2612.4px;top:2091.6px;font-size:64px;line-height:64px;font-weight:700;color:#000000;transform:scaleX(0.9729)">Center</div>
<div class="t" id="r1v" style="left:2646.0px;top:2184.1px;font-size:53px;line-height:53px;font-weight:400;color:#000000;transform:scaleX(0.9754)">674.1</div>
<div class="t" id="r2" style="left:3155.9px;top:2091.6px;font-size:64px;line-height:64px;font-weight:700;color:#000000;transform:scaleX(1.0334)">North</div>
<div class="t" id="r2v" style="left:3179.0px;top:2184.1px;font-size:53px;line-height:53px;font-weight:400;color:#000000;transform:scaleX(0.9833)">644.5</div>
<div class="t" id="r3" style="left:3692.1px;top:2091.6px;font-size:64px;line-height:64px;font-weight:700;color:#000000;transform:scaleX(0.9481)">South</div>
<div class="t" id="r3v" style="left:3712.0px;top:2184.1px;font-size:53px;line-height:53px;font-weight:400;color:#000000;transform:scaleX(0.9754)">324.1</div>
<div class="t" id="p1" style="left:2569.7px;top:2531.2px;font-size:53px;line-height:53px;font-weight:400;color:#000000;transform:scaleX(1.0122)">The population from Chisinau accounts for 27.5% of the</div>
<div class="t" id="p2" style="left:2570.3px;top:2600.4px;font-size:53px;line-height:53px;font-weight:400;color:#000000;transform:scaleX(1.0385)">country population. In this municipality/ district, there</div>
<div class="t" id="p3" style="left:2570.4px;top:2668.2px;font-size:53px;line-height:53px;font-weight:400;color:#000000;transform:scaleX(1.0140)">are 9.1% more women than men.</div>
<div class="t" id="cap" style="left:348.5px;top:3096.1px;font-size:46px;line-height:46px;font-weight:400;color:#8a94a3;transform:scaleX(1.0302)">Point the cursor on the graphic to see the data for a certain year</div>
<div class="t" id="src1" style="left:1613.0px;top:3191.3px;font-size:49px;line-height:49px;font-weight:400;color:#8a94a3;transform:scaleX(1.0040)">Source:</div>
<div class="t" id="src2" style="left:1795.4px;top:3191.3px;font-size:49px;line-height:49px;font-weight:400;color:#3a78a8;transform:scaleX(1.0361)">www.genderpulse.md</div>
<div class="t" id="src3" style="left:2296.2px;top:3191.3px;font-size:49px;line-height:49px;font-weight:400;color:#8a94a3;transform:scaleX(1.0298)">in the database of the National Bureau of Statistics of the Republic of Moldova.</div>
<div class="t" id="y0" style="left:56.4px;top:2899.1px;font-size:53px;line-height:53px;font-weight:400;color:#8c96a3;transform:scaleX(0.9831)">2015</div>
<div class="t" id="y1" style="left:257.5px;top:2899.1px;font-size:53px;line-height:53px;font-weight:400;color:#8c96a3;transform:scaleX(0.9831)">2016</div>
<div class="t" id="y2" style="left:458.6px;top:2899.1px;font-size:53px;line-height:53px;font-weight:400;color:#8c96a3;transform:scaleX(0.9918)">2017</div>
<div class="t" id="y3" style="left:659.7px;top:2899.1px;font-size:53px;line-height:53px;font-weight:400;color:#8c96a3;transform:scaleX(0.9831)">2018</div>
<div class="t" id="y4" style="left:860.8px;top:2899.1px;font-size:53px;line-height:53px;font-weight:400;color:#8c96a3;transform:scaleX(0.9918)">2019</div>
<div class="t" id="y5" style="left:1061.9px;top:2899.1px;font-size:53px;line-height:53px;font-weight:400;color:#8c96a3;transform:scaleX(0.9831)">2020</div>
<div class="t" id="y6" style="left:1263.0px;top:2899.1px;font-size:53px;line-height:53px;font-weight:400;color:#8c96a3;transform:scaleX(0.9918)">2021</div>
<div class="t" id="y7" style="left:1464.1px;top:2899.1px;font-size:53px;line-height:53px;font-weight:400;color:#8c96a3;transform:scaleX(0.9918)">2022</div>
<div class="t" id="y8" style="left:1665.2px;top:2899.1px;font-size:53px;line-height:53px;font-weight:400;color:#8c96a3;transform:scaleX(0.9831)">2023</div>
<div class="t" id="y9" style="left:1866.3px;top:2899.1px;font-size:53px;line-height:53px;font-weight:400;color:#2b2b2b;transform:scaleX(0.9831)">2024</div>
</body></html>
